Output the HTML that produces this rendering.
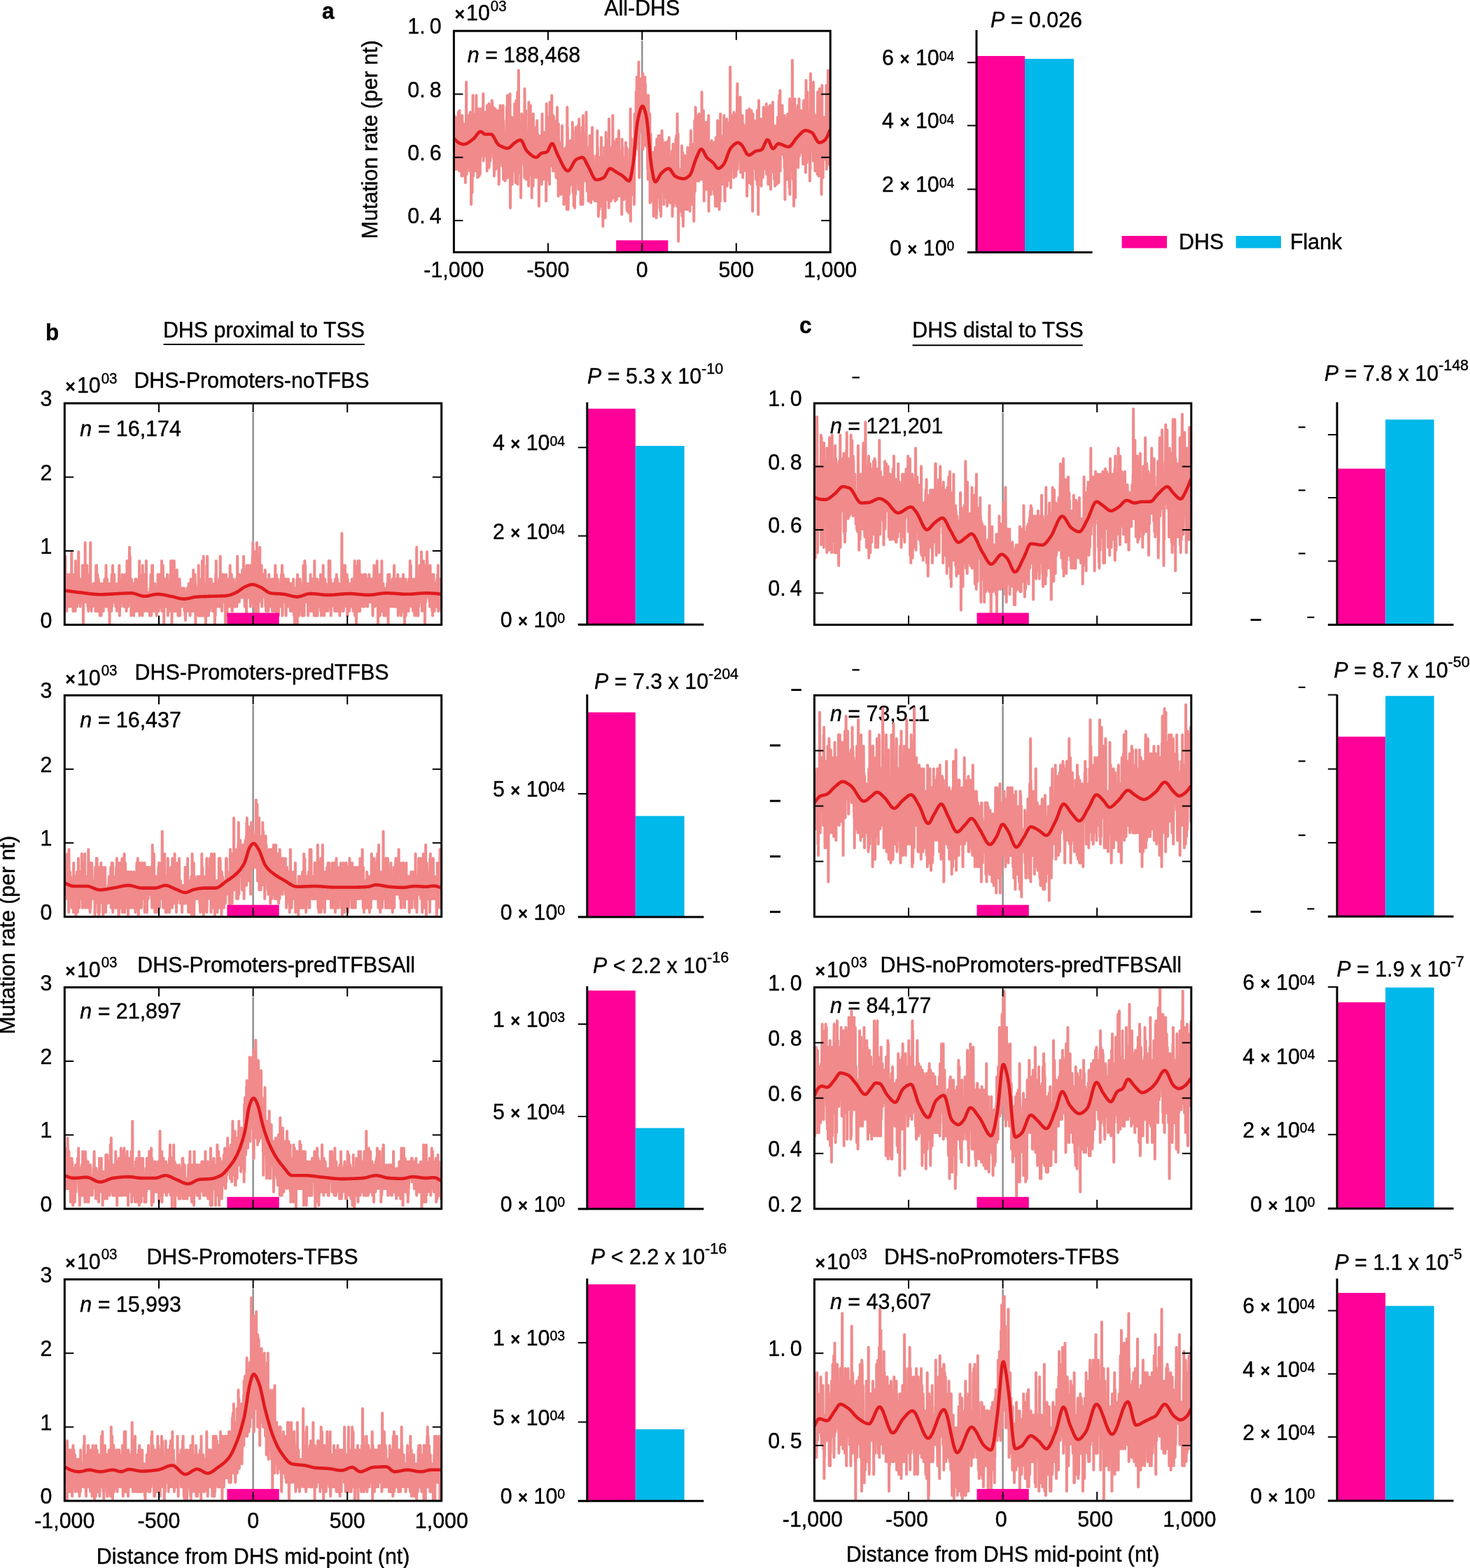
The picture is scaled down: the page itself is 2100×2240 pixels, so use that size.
<!DOCTYPE html>
<html><head><meta charset="utf-8"><title>Figure</title>
<style>html,body{margin:0;padding:0;background:#fff;}svg{display:block;}text{font-family:"Liberation Sans", Arial, Helvetica, sans-serif;fill:#000;stroke:#000;stroke-width:0.4px;}</style>
</head><body>
<svg width="2100" height="2240" viewBox="0 0 2100 2240">
<rect width="2100" height="2240" fill="#fff"/>
<clipPath id="clip_a"><rect x="648.4" y="44.2" width="537.8" height="316.1"/></clipPath>
<line x1="917.3" y1="58.2" x2="917.3" y2="360.3" stroke="#8c8c8c" stroke-width="2.4"/>
<text transform="translate(667.8 88.8) scale(1 1.04)" font-size="30.4"><tspan font-style="italic">n</tspan> = 188,468</text>
<g clip-path="url(#clip_a)">
<path id="nz_a" transform="translate(648.4 495.77) scale(0.26890 -2.39601)" d="M0 125 l1-8 1 21 1-12 1 9 1-18 1-1 1-10 1 5 1 23 1-10 1 0 1 4 1-1 1-6 1 7 1-1 1 10 1-14 1-17 1 23 1-20 1 0 1 29 1 2 1-28 1 15 1 9 1-26 1-5 1 36 1-16 1 3 1 0 1 5 1 2 1 0 1-19 1 12 1-11 1-6 1-9 1 14 1 11 1 11 1-4 1-12 1-11 1 0 1 17 1-12 1 11 1-2 1 4 1-10 1-17 1 11 1 1 1 19 1-8 1 3 1-30 1 11 1 12 1-8 1 9 1 36 1-45 1-10 1 5 1 2 1 7 1 10 1-5 1-5 1 16 1-6 1-10 1 15 1-22 1 28 1-3 1-18 1 0 1-12 1 19 1 11 1 5 1-13 1 8 1-11 1 0 1-39 1 45 1-23 1 0 1 8 1-23 1 18 1 12 1 8 1 20 1-45 1-3 1 12 1 2 1 19 1-6 1-8 1-12 1 4 1 11 1-6 1 21 1-34 1 31 1-28 1 11 1 3 1 28 1-42 1 17 1 7 1 1 1-22 1 10 1-20 1 18 1 10 1-5 1 18 1-19 1 10 1-9 1 10 1-32 1 14 1 7 1 11 1-31 1 15 1 24 1-22 1 19 1-25 1 1 1 13 1 0 1-12 1 2 1 10 1-14 1 9 1 5 1 14 1 0 1 9 1-40 1 14 1-3 1-8 1 14 1 6 1-13 1-7 1 8 1-6 1 10 1-3 1 17 1-23 1 16 1 2 1-15 1 3 1 9 1-27 1 39 1-10 1-11 1-4 1-2 1 11 1-11 1 9 1 7 1 12 1-38 1 3 1 19 1 6 1-12 1 21 1-33 1 9 1 9 1 6 1-16 1-2 1 18 1 5 1-8 1 15 1-26 1 25 1-30 1 2 1 1 1 1 1-7 1 30 1-5 1-15 1-12 1-9 1 12 1 5 1 0 1 13 1-1 1 11 1-23 1 3 1-16 1 18 1 3 1-9 1-3 1 15 1-15 1 15 1 1 1 2 1-23 1 31 1-34 1 6 1 2 1-8 1-10 1 3 1 21 1 0 1-1 1-2 1-3 1 29 1-16 1 4 1-11 1 7 1 11 1-19 1 13 1-6 1-13 1-6 1 0 1 5 1 12 1-4 1 23 1-25 1-19 1 35 1-5 1-24 1 17 1-16 1 13 1 1 1-14 1-8 1 19 1 3 1-21 1 8 1 9 1-9 1 18 1-2 1 19 1-11 1-24 1 42 1-41 1-8 1 12 1 10 1-8 1 2 1-2 1 9 1 7 1-24 1 20 1-24 1 14 1 34 1-39 1-29 1 30 1 19 1-2 1-18 1-6 1 31 1-18 1 18 1-9 1-31 1 34 1-24 1 26 1-18 1 4 1 3 1 3 1 1 1-21 1 30 1-5 1-18 1 33 1-10 1-1 1 1 1-15 1-22 1 14 1 30 1 5 1-29 1-3 1 20 1-17 1 1 1 15 1 18 1-55 1 30 1-4 1 0 1 16 1 26 1-44 1-17 1 13 1-11 1 22 1 3 1-1 1 3 1-2 1-10 1-11 1-21 1 35 1-9 1 3 1 21 1-29 1 3 1 4 1 3 1-9 1 4 1 6 1-6 1 23 1-28 1 3 1 12 1-17 1 13 1-20 1 53 1-24 1-9 1-9 1 2 1-9 1 36 1-41 1 13 1-2 1 5 1 13 1-24 1 16 1-10 1 8 1 4 1-2 1 8 1-14 1-1 1-18 1 50 1-36 1 17 1 2 1-25 1 12 1-13 1 22 1 0 1 19 1-30 1-10 1 11 1 4 1-16 1 16 1-30 1 42 1-24 1-3 1 21 1-12 1-5 1-12 1 43 1-24 1 6 1-9 1 8 1 1 1-19 1 3 1 13 1-9 1 14 1-15 1-1 1 24 1-2 1-28 1 12 1 10 1-8 1 16 1 4 1-24 1 16 1 0 1-13 1-11 1-2 1 25 1-8 1-22 1-12 1 32 1-14 1 11 1 8 1-7 1 3 1 5 1-15 1-3 1 13 1 9 1-16 1-6 1-7 1 26 1-2 1 18 1-25 1-9 1 3 1 1 1-6 1-3 1 12 1 10 1 6 1-24 1 11 1 7 1 4 1-9 1 5 1-6 1-12 1 8 1-1 1 12 1-36 1 34 1 24 1-29 1-16 1 23 1 6 1-10 1 15 1-10 1 13 1-32 1 15 1-6 1 5 1 15 1-35 1 18 1-20 1 24 1 25 1-27 1-11 1 24 1-18 1-6 1 7 1 8 1-2 1 1 1 28 1-27 1 10 1-6 1 0 1 11 1-16 1-17 1 33 1-17 1-1 1 17 1-18 1 2 1 14 1-30 1 10 1-6 1 2 1 5 1-5 1 1 1 17 1-28 1 10 1 15 1 8 1-13 1-13 1 35 1-33 1 15 1-12 1-13 1 8 1-18 1 43 1-14 1-11 1-2 1 6 1 4 1-10 1-6 1 13 1 4 1-7 1 8 1-6 1-21 1 24 1 7 1-12 1 8 1-3 1 17 1-34 1 5 1-5 1 6 1 10 1 4 1-22 1 15 1-26 1 18 1-2 1-13 1 12 1 2 1-16 1 22 1 6 1-9 1 14 1-3 1-16 1 5 1-14 1 20 1-29 1 22 1 39 1-31 1 19 1-27 1 2 1-24 1 9 1 30 1-8 1-8 1-14 1 3 1 1 1 1 1 15 1-1 1 13 1-16 1-5 1 1 1-2 1-4 1 22 1 1 1-16 1-6 1 20 1-11 1 27 1-23 1 18 1-37 1 22 1-4 1 8 1-34 1 8 1 20 1-19 1-6 1-4 1 33 1-12 1 5 1-18 1 19 1 21 1-25 1-6 1 5 1 9 1-4 1-9 1 6 1 12 1-12 1 12 1-3 1 16 1-32 1-6 1 27 1-16 1 31 1-23 1-16 1 29 1-7 1-12 1 12 1-24 1 22 1-32 1 26 1-15 1 13 1-12 1 14 1 1 1 19 1-28 1-3 1-15 1 3 1 50 1-7 1-8 1-6 1 1 1 6 1-19 1 7 1-11 1 18 1 7 1-19 1 8 1-11 1-5 1 10 1-5 1 36 1-19 1-16 1 8 1-6 1-14 1 4 1 4 1 11 1-3 1 0 1-6 1-16 1 24 1 8 1-23 1-6 1 9 1 0 1 27 1-12 1-1 1-21 1 11 1-9 1-8 1 19 1 11 1-14 1-3 1 8 1-6 1 30 1-22 1-9 1 6 1-2 1 10 1-19 1 0 1-7 1 8 1 11 1-4 1 4 1-18 1 13 1-15 1 2 1 13 1 4 1-6 1 8 1 6 1-2 1-14 1 4 1-2 1-13 1 42 1-29 1 19 1-7 1 1 1-15 1-20 1 27 1-16 1-2 1 26 1-31 1 29 1-24 1 15 1-9 1 1 1 2 1-8 1 18 1 0 1 19 1-41 1 14 1-3 1-2 1 21 1-2 1-6 1-25 1-9 1 30 1-14 1 18 1-4 1 6 1-7 1 18 1-16 1-17 1 15 1 2 1-26 1 21 1 12 1-21 1 39 1-21 1 4 1 13 1-36 1 10 1 20 1-11 1 14 1-16 1-1 1-4 1-4 1 21 1-12 1-22 1 53 1-23 1 6 1-25 1 6 1 10 1 3 1 6 1-11 1-2 1 4 1-23 1 32 1-1 1-30 1 28 1-2 1-8 1 2 1-3 1 33 1-49 1 17 1 0 1 17 1-16 1 15 1-24 1 18 1-10 1-9 1 20 1-20 1-10 1 16 1-2 1 8 1-3 1-6 1 20 1 4 1-36 1 20 1-4 1 2 1-2 1 5 1-5 1 0 1-14 1 0 1 10 1 29 1-31 1-3 1 22 1-12 1 3 1-12 1-3 1-1 1 18 1-7 1-13 1 20 1-7 1-8 1 7 1-23 1 45 1-4 1-14 1 13 1-16 1 7 1-13 1-3 1-3 1 17 1-20 1 3 1-2 1 18 1-18 1 10 1 2 1 12 1-11 1-7 1 27 1-24 1 1 1-4 1 24 1-21 1-16 1 18 1-6 1-13 1 2 1 4 1 20 1-24 1-2 1 14 1-15 1 30 1-21 1 10 1 19 1-36 1 10 1 10 1-16 1 56 1-67 1 50 1-11 1-18 1 11 1-13 1 12 1-15 1 22 1-18 1 7 1-3 1 5 1-1 1 13 1-3 1-1 1 12 1-32 1-7 1 18 1 36 1-4 1 4 1-25 1 25 1-7 1-5 1 2 1 23 1-34 1 23 1 3 1 17 1-39 1 1 1 6 1 11 1-6 1-10 1 20 1 3 1 4 1 19 1-33 1 2 1-38 1 28 1-2 1 4 1 29 1-14 1 9 1 3 1-5 1-15 1-7 1 11 1-10 1 13 1-6 1 21 1-3 1-13 1 7 1 12 1-45 1 9 1 14 1-10 1 14 1-8 1-2 1 3 1 5 1 6 1 12 1-27 1 23 1-27 1 8 1-18 1 11 1 6 1 13 1-2 1 2 1-31 1 16 1 3 1-32 1 23 1-29 1 34 1 16 1-8 1-15 1 13 1-30 1 16 1-3 1-16 1 32 1-53 1 18 1 13 1-10 1 20 1-22 1-2 1 4 1 3 1-23 1 19 1-1 1-7 1 0 1-2 1 7 1 13 1-1 1-19 1-18 1 17 1 6 1 3 1-10 1 1 1 15 1-24 1 33 1-19 1-15 1 32 1-35 1 7 1-12 1 27 1-25 1 45 1-26 1 1 1-3 1-1 1 13 1-12 1 22 1-29 1 37 1-12 1 3 1-11 1-4 1 14 1-4 1-29 1 3 1 27 1-32 1 45 1-34 1-14 1 37 1-1 1-3 1 9 1 9 1-17 1-6 1 18 1-19 1 16 1-10 1-18 1 11 1 12 1 1 1-32 1 24 1-2 1-1 1-13 1 4 1 3 1 22 1-28 1 0 1-5 1 19 1 10 1-11 1-3 1 9 1 9 1-38 1 2 1 25 1-6 1-11 1 29 1-5 1-10 1-2 1-19 1 38 1-26 1 11 1-2 1-4 1 9 1-27 1 25 1 1 1-24 1 16 1 0 1-17 1 16 1-2 1-1 1 17 1-8 1-31 1 38 1-26 1 31 1-14 1-3 1-11 1-9 1 12 1-7 1 13 1 12 1-8 1 13 1-24 1 11 1 4 1-24 1 38 1-11 1-4 1 17 1-8 1-23 1-11 1 18 1 37 1-40 1-8 1 12 1 24 1-28 1-36 1 30 1 9 1-17 1 5 1 15 1-6 1 7 1-5 1-1 1 6 1-6 1-19 1 9 1 10 1-7 1-3 1-1 1 31 1-14 1-28 1 5 1 10 1 23 1-20 1-24 1 30 1 3 1-19 1 1 1 23 1-27 1 11 1-2 1 22 1-22 1 11 1-3 1 14 1-32 1 15 1 3 1 8 1-9 1-3 1 17 1-5 1-26 1 23 1 14 1-36 1 0 1 21 1-6 1 9 1 0 1-3 1-2 1-18 1 30 1-4 1-29 1 18 1 6 1 16 1-10 1 18 1-36 1 24 1-20 1-12 1 1 1 3 1-1 1 24 1-24 1 32 1-23 1 21 1-23 1 26 1-11 1-35 1 16 1 1 1 10 1 33 1-1 1-41 1 37 1-5 1 18 1-18 1-15 1 15 1-23 1-2 1-1 1 19 1 6 1-15 1 22 1-21 1 28 1-39 1 24 1 0 1 7 1-22 1-9 1 40 1-20 1-2 1-16 1 3 1 32 1-24 1-5 1 11 1-2 1 14 1-17 1-6 1-7 1 52 1-28 1-6 1-8 1 14 1-13 1 4 1 1 1 18 1 7 1-17 1-3 1-34 1 25 1-10 1-5 1 23 1-9 1-2 1 0 1-8 1 17 1-4 1 20 1-25 1-15 1 17 1 0 1-2 1-15 1 19 1-5 1 11 1-21 1 22 1 5 1 13 1-57 1 38 1-12 1 12 1 3 1-8 1 1 1-24 1 26 1 1 1-8 1-19 1 6 1 18 1-5 1 3 1 10 1-28 1 4 1 15 1 0 1 6 1-10 1-6 1-2 1-8 1 23 1-1 1-2 1-23 1 31 1-30 1 15 1-4 1 15 1-34 1 12 1-1 1 30 1-41 1 30 1-21 1 30 1-26 1-8 1 20 1-12 1 38 1-39 1 27 1-39 1 25 1 3 1-5 1 12 1-16 1-21 1 9 1 17 1 6 1-8 1-19 1 52 1-33 1-7 1 25 1-12 1-6 1 1 1-5 1 1 1 10 1 9 1-3 1-6 1-16 1 7 1 22 1-24 1 3 1 18 1 15 1-33 1-2 1 6 1-21 1-1 1 37 1 0 1-2 1 9 1-14 1 5 1 6 1-22 1 6 1 24 1-21 1-19 1 22 1-3 1 12 1-25 1 13 1 3 1-8 1 8 1-6 1 10 1-18 1 14 1 16 1-34 1-1 1 68 1-53 1 24 1-43 1 43 1-31 1 0 1 10 1-5 1-3 1 29 1-11 1 4 1-17 1 6 1-13 1 19 1-11 1 19 1-33 1 39 1-24 1 21 1 2 1-22 1 4 1-7 1 15 1-2 1-11 1 16 1-30 1 30 1-20 1-1 1 6 1 6 1 25 1 9 1-51 1 6 1 14 1-6 1 22 1-27 1 7 1 6 1-13 1 11 1 0 1-2 1-9 1-4 1 38 1-11 1-17 1-17 1 28 1-4 1-1 1 1 1 2 1-15 1-5 1 17 1 11 1-23 1-14 1 8 1 24 1-6 1-7 1-2 1-6 1-7 1 5 1-3 1 10 1 1 1 0 1 7 1-16 1 19 1 4 1-18 1 3 1 0 1 18 1 6 1-51 1 27 1 5 1 9 1-23 1 11 1-3 1 5 1-1 1-2 1-6 1-14 1 44 1-17 1-19 1 33 1-14 1-8 1-7 1-1 1-5 1 16 1-13 1-10 1 44 1-16 1 1 1-21 1 11 1 3 1-38 1 43 1 15 1-33 1 2 1 9 1 1 1-10 1 6 1 21 1-17 1 16 1-4 1-19 1 0 1 7 1-12 1 28 1-34 1 5 1-5 1 17 1 0 1 18 1-38 1 44 1-7 1 1 1-36 1 30 1-50 1 34 1-2 1 36 1-28 1 10 1 0 1-2 1-11 1-6 1 7 1 4 1 13 1 2 1-11 1-4 1-25 1 12 1 17 1-24 1 34 1-21 1 12 1-24 1 9 1-10 1 24 1 1 1 17 1-37 1 10 1 11 1-3 1-7 1 6 1 12 1-11 1-3 1-5 1 11 1 15 1-23 1-3 1 29 1-42 1 32 1-7 1-3 1-3 1 3 1-9 1 22 1-34 1-7 1 42 1-3 1 7 1-32 1 12 1 7 1-4 1-27 1 45 1-24 1 2 1 4 1-32 1 30 1-9 1 29 1-15 1-17 1 24 1-15 1 12 1-14 1-6 1 33 1-29 1-3 1 8 1-18 1 9 1 3 1 16 1-32 1 7 1 16 1-10 1-17 1 10 1 4 1 2 1 6 1 9 1 3 1-11 1 13 1 0 1-35 1 34 1-12 1-12 1 30 1-11 1 3 1-22 1 9 1 6 1-24 1 49 1-39 1 42 1-41 1 5 1 12 1 27 1-48 1 15 1-3 1 15 1-12 1 7 1 10 1-17 1 12 1-17 1 8 1 21 1-27 1 21 1-14 1-5 1 5 1 6 1-9 1 1 1-9 1 19 1-25 1 31 1-2 1-48 1 38 1-18 1 19 1-9 1 0 1-11 1 20 1-27 1 34 1-28 1-6 1 15 1-10 1 34 1-19 1 10 1-12 1 13 1-6 1-4 1-8 1-4 1-14 1 25 1 28 1-57 1 24 1 16 1-4 1 7 1-26 1-1 1 13 1 10 1-8 1-2 1 1 1-16 1 66 1-28 1-21 1-22 1 27 1 0 1-23 1-4 1-16 1 19 1 13 1 30 1-40 1 42 1-39 1 21 1-41 1 40 1-15 1 4 1 12 1 12 1-22 1 10 1-17 1 11 1 5 1 6 1 2 1-23 1 30 1-37 1 8 1 12 1 12 1-2 1 11 1-33 1-1 1 8 1 12 1-6 1 4 1-12 1 6 1-6 1 21 1-25 1 2 1 11 1-1 1-10 1 22 1-20 1 1 1 3 1-10 1-5 1 12 1 4 1 20 1 2 1-36 1 2 1 20 1 6 1-21 1 16 1 9 1-12 1 6 1-33 1 21 1 34 1-17 1-18 1 5 1-19 1 19 1-2 1 25 1-13 1-15 1 7 1-12 1 2 1-3 1-6 1 24 1 4 1-15 1-7 1 10 1-29 1 19 1-12 1 29 1 28 1-42 1 19 1-8 1 6 1-6 1-6 1 16 1-24 1 32 1-15 1-15 1 14 1 6 1-29 1 47 1-37 1 19 1-3 1-10 1 0 1 0 1 6 1-16 1-12 1 14 1 19 1-16 1-2 1 4 1 6 1 2 1 1 1-11 1 2 1 3 1-24 1 30 1 19 1-46 1 17 1 0 1-19 1-2 1 12 1 3 1-3 1 40 1-36 1-7 1 9 1 4 1-12 1-8 1 25 1-20 1-7 1 12 1-23 1 38 1-14 1 41 1-46 1 0 1 17 1 8 1-34 1 16 1 16 1 1 1-3 1-16 1 9 1 13 1-12 1 0 1-13 1 4 1 21 1-23 1 0 1 5 1 9 1-6 1 34 1-50 1 31 1-29 1 16 1-4 1 16 1-20 1 14 1 35 1-28 1-20 1 36 1-44 1 11 1 15 1-10 1 14 1 6 1-21 1 15 1-4" fill="none" stroke="#f08a8b" stroke-width="4.0" stroke-linejoin="round" stroke-linecap="round" vector-effect="non-scaling-stroke"/>
<polyline points="648.4,198.1 649.5,199.0 650.6,200.1 651.6,201.1 652.7,202.0 653.8,202.9 654.9,203.6 655.9,204.3 657.0,204.8 658.1,205.3 659.2,205.6 660.2,205.9 661.3,206.0 662.4,206.1 663.5,206.0 664.5,205.8 665.6,205.5 666.7,205.1 667.8,204.5 668.8,203.9 669.9,203.2 671.0,202.4 672.1,201.6 673.1,200.8 674.2,200.0 675.3,199.2 676.4,198.3 677.4,197.3 678.5,196.0 679.6,194.6 680.7,193.1 681.7,191.7 682.8,190.4 683.9,189.3 685.0,188.4 686.0,188.0 687.1,188.1 688.2,188.6 689.3,189.5 690.3,190.4 691.4,191.2 692.5,191.6 693.6,191.7 694.7,191.7 695.7,191.7 696.8,191.7 697.9,191.7 699.0,191.7 700.0,191.7 701.1,191.8 702.2,192.0 703.3,192.8 704.3,194.0 705.4,195.8 706.5,197.7 707.6,199.8 708.6,201.9 709.7,203.8 710.8,205.3 711.9,206.5 712.9,207.2 714.0,207.9 715.1,208.5 716.2,209.0 717.2,209.6 718.3,210.1 719.4,210.5 720.5,210.9 721.5,211.2 722.6,211.5 723.7,211.7 724.8,211.8 725.8,211.7 726.9,211.4 728.0,210.8 729.1,210.0 730.1,208.9 731.2,207.8 732.3,206.7 733.4,205.7 734.4,204.8 735.5,204.0 736.6,203.3 737.7,202.5 738.8,201.8 739.8,201.1 740.9,200.6 742.0,200.2 743.1,200.0 744.1,200.2 745.2,201.1 746.3,202.7 747.4,204.9 748.4,207.4 749.5,209.9 750.6,212.3 751.7,214.2 752.7,215.7 753.8,216.9 754.9,217.9 756.0,219.0 757.0,220.0 758.1,220.9 759.2,221.7 760.3,222.5 761.3,223.2 762.4,223.8 763.5,224.2 764.6,224.5 765.6,224.7 766.7,224.6 767.8,224.0 768.9,223.1 769.9,222.0 771.0,220.9 772.1,219.9 773.2,219.1 774.2,218.6 775.3,218.4 776.4,218.2 777.5,218.0 778.5,217.9 779.6,217.7 780.7,217.3 781.8,216.6 782.9,215.1 783.9,213.0 785.0,210.5 786.1,208.1 787.2,206.2 788.2,205.1 789.3,205.2 790.4,206.3 791.5,208.4 792.5,211.0 793.6,213.8 794.7,216.7 795.8,219.2 796.8,221.4 797.9,223.6 799.0,225.8 800.1,228.1 801.1,230.4 802.2,232.6 803.3,234.8 804.4,236.9 805.4,238.8 806.5,240.4 807.6,241.9 808.7,243.0 809.7,243.8 810.8,244.1 811.9,244.0 813.0,243.3 814.0,242.2 815.1,240.6 816.2,238.8 817.3,236.8 818.3,234.7 819.4,232.7 820.5,230.9 821.6,229.4 822.6,228.3 823.7,227.6 824.8,227.0 825.9,226.5 826.9,226.0 828.0,225.6 829.1,225.3 830.2,225.0 831.3,224.9 832.3,224.9 833.4,225.5 834.5,226.7 835.6,228.4 836.6,230.5 837.7,232.7 838.8,234.9 839.9,236.9 840.9,238.9 842.0,241.0 843.1,243.4 844.2,245.7 845.2,248.1 846.3,250.3 847.4,252.3 848.5,254.1 849.5,255.5 850.6,256.4 851.7,256.8 852.8,256.8 853.8,256.7 854.9,256.6 856.0,256.3 857.1,256.0 858.1,255.7 859.2,255.3 860.3,254.8 861.4,254.3 862.4,253.7 863.5,252.6 864.6,251.1 865.7,249.1 866.7,246.9 867.8,244.8 868.9,243.0 870.0,241.6 871.0,240.9 872.1,240.8 873.2,241.1 874.3,241.6 875.4,242.3 876.4,243.0 877.5,243.8 878.6,244.6 879.7,245.3 880.7,246.0 881.8,246.6 882.9,247.3 884.0,247.9 885.0,248.5 886.1,249.1 887.2,249.8 888.3,250.5 889.3,251.2 890.4,252.1 891.5,253.0 892.6,254.1 893.6,255.2 894.7,256.3 895.8,257.2 896.9,258.0 897.9,258.4 899.0,258.2 900.1,256.6 901.2,253.0 902.2,247.8 903.3,241.6 904.4,234.6 905.5,225.6 906.5,214.2 907.6,201.7 908.7,189.7 909.8,180.1 910.8,173.2 911.9,167.9 913.0,163.2 914.1,159.0 915.1,155.6 916.2,153.1 917.3,151.7 918.4,151.7 919.5,153.1 920.5,155.8 921.6,159.4 922.7,163.8 923.8,169.1 924.8,176.6 925.9,187.4 927.0,200.4 928.1,213.6 929.1,225.0 930.2,233.9 931.3,241.1 932.4,247.7 933.4,253.3 934.5,257.4 935.6,259.5 936.7,259.8 937.7,258.9 938.8,257.5 939.9,255.7 941.0,253.7 942.0,251.7 943.1,249.8 944.2,248.2 945.3,247.0 946.3,246.0 947.4,245.1 948.5,244.2 949.6,243.3 950.6,242.5 951.7,241.9 952.8,241.3 953.9,241.0 954.9,240.8 956.0,241.0 957.1,241.7 958.2,242.9 959.2,244.5 960.3,246.3 961.4,248.1 962.5,249.7 963.6,251.0 964.6,251.8 965.7,252.4 966.8,252.9 967.9,253.4 968.9,253.8 970.0,254.2 971.1,254.5 972.2,254.8 973.2,255.1 974.3,255.2 975.4,255.3 976.5,255.4 977.5,255.3 978.6,255.0 979.7,254.6 980.8,254.0 981.8,253.3 982.9,252.5 984.0,251.6 985.1,250.6 986.1,249.3 987.2,247.3 988.3,244.7 989.4,241.6 990.4,238.2 991.5,234.7 992.6,231.4 993.7,228.4 994.7,225.7 995.8,223.2 996.9,220.7 998.0,218.2 999.0,216.0 1000.1,214.3 1001.2,213.3 1002.3,213.1 1003.3,213.8 1004.4,215.2 1005.5,217.2 1006.6,219.4 1007.7,221.6 1008.7,223.5 1009.8,225.0 1010.9,226.1 1012.0,227.1 1013.0,227.9 1014.1,228.7 1015.2,229.5 1016.3,230.3 1017.3,231.2 1018.4,232.2 1019.5,233.4 1020.6,234.8 1021.6,236.4 1022.7,237.9 1023.8,239.2 1024.9,240.1 1025.9,240.5 1027.0,240.5 1028.1,240.1 1029.2,239.4 1030.2,238.6 1031.3,237.6 1032.4,236.5 1033.5,235.3 1034.5,233.7 1035.6,231.7 1036.7,229.1 1037.8,226.3 1038.8,223.2 1039.9,220.2 1041.0,217.3 1042.1,214.8 1043.1,212.7 1044.2,211.2 1045.3,209.9 1046.4,208.8 1047.4,207.7 1048.5,206.8 1049.6,205.9 1050.7,205.1 1051.8,204.5 1052.8,204.1 1053.9,203.8 1055.0,203.9 1056.1,204.3 1057.1,205.0 1058.2,205.9 1059.3,207.0 1060.4,208.3 1061.4,209.9 1062.5,211.8 1063.6,213.9 1064.7,215.9 1065.7,217.8 1066.8,219.5 1067.9,220.7 1069.0,221.5 1070.0,221.6 1071.1,221.4 1072.2,220.9 1073.3,220.3 1074.3,219.5 1075.4,218.7 1076.5,217.9 1077.6,217.1 1078.6,216.4 1079.7,215.9 1080.8,215.6 1081.9,215.4 1082.9,215.2 1084.0,215.0 1085.1,214.9 1086.2,214.6 1087.2,214.3 1088.3,213.6 1089.4,212.2 1090.5,210.1 1091.5,207.7 1092.6,205.2 1093.7,202.9 1094.8,201.0 1095.8,199.8 1096.9,199.7 1098.0,200.7 1099.1,202.7 1100.2,205.3 1101.2,208.1 1102.3,210.4 1103.4,212.0 1104.5,212.4 1105.5,211.9 1106.6,210.8 1107.7,209.3 1108.8,207.8 1109.8,206.5 1110.9,205.6 1112.0,205.3 1113.1,205.4 1114.1,205.6 1115.2,205.9 1116.3,206.3 1117.4,206.7 1118.4,207.2 1119.5,207.6 1120.6,208.1 1121.7,208.6 1122.7,209.0 1123.8,209.3 1124.9,209.5 1126.0,209.7 1127.0,209.6 1128.1,209.3 1129.2,208.5 1130.3,207.5 1131.3,206.2 1132.4,204.8 1133.5,203.2 1134.6,201.6 1135.6,200.1 1136.7,198.6 1137.8,197.2 1138.9,196.1 1139.9,195.0 1141.0,193.8 1142.1,192.6 1143.2,191.5 1144.3,190.3 1145.3,189.3 1146.4,188.3 1147.5,187.5 1148.6,186.9 1149.6,186.5 1150.7,186.4 1151.8,186.4 1152.9,186.6 1153.9,186.8 1155.0,187.2 1156.1,187.6 1157.2,188.0 1158.2,188.5 1159.3,189.1 1160.4,189.9 1161.5,191.1 1162.5,192.7 1163.6,194.6 1164.7,196.6 1165.8,198.6 1166.8,200.5 1167.9,202.0 1169.0,203.1 1170.1,203.6 1171.1,203.6 1172.2,203.4 1173.3,203.1 1174.4,202.7 1175.4,202.1 1176.5,201.5 1177.6,200.8 1178.7,199.8 1179.7,198.5 1180.8,196.8 1181.9,194.8 1183.0,192.5 1184.0,189.9 1185.1,187.2 1186.2,185.1" fill="none" stroke="#e01a1e" stroke-width="4.6" stroke-linejoin="round"/></g>
<rect x="880.2" y="343.3" width="74.2" height="17" fill="#ff0099"/>
<line x1="782.9" y1="44.2" x2="782.9" y2="57.2" stroke="#000" stroke-width="2"/>
<line x1="782.9" y1="360.3" x2="782.9" y2="347.3" stroke="#000" stroke-width="2"/>
<line x1="917.3" y1="44.2" x2="917.3" y2="57.2" stroke="#000" stroke-width="2"/>
<line x1="917.3" y1="360.3" x2="917.3" y2="347.3" stroke="#000" stroke-width="2"/>
<line x1="1051.8" y1="44.2" x2="1051.8" y2="57.2" stroke="#000" stroke-width="2"/>
<line x1="1051.8" y1="360.3" x2="1051.8" y2="347.3" stroke="#000" stroke-width="2"/>
<line x1="648.4" y1="315.1" x2="661.4" y2="315.1" stroke="#000" stroke-width="2"/>
<line x1="1186.2" y1="315.1" x2="1173.2" y2="315.1" stroke="#000" stroke-width="2"/>
<line x1="648.4" y1="224.8" x2="661.4" y2="224.8" stroke="#000" stroke-width="2"/>
<line x1="1186.2" y1="224.8" x2="1173.2" y2="224.8" stroke="#000" stroke-width="2"/>
<line x1="648.4" y1="134.5" x2="661.4" y2="134.5" stroke="#000" stroke-width="2"/>
<line x1="1186.2" y1="134.5" x2="1173.2" y2="134.5" stroke="#000" stroke-width="2"/>
<rect x="648.4" y="44.2" width="537.8" height="316.1" fill="none" stroke="#000" stroke-width="3"/>
<clipPath id="clip_b1"><rect x="92.3" y="576.1" width="538.4" height="316.4"/></clipPath>
<line x1="361.6" y1="590.1" x2="361.6" y2="892.5" stroke="#8c8c8c" stroke-width="2.4"/>
<text transform="translate(114.3 623.1) scale(1 1.04)" font-size="30.4"><tspan font-style="italic">n</tspan> = 16,174</text>
<g clip-path="url(#clip_b1)">
<path id="nz_b1" transform="translate(92.3 892.50) scale(0.26922 -6.52075)" d="M0 6 l1-1 1 6 1-4 1 8 1-9 1 2 1-4 1 7 1-6 1 1 1-3 1 5 1-3 1 3 1 3 1-4 1 2 1 0 1 0 1 1 1-6 1 4 1 0 1 1 1 2 1-7 1 0 1 5 1-3 1-1 1-1 1 1 1 2 1 1 1-3 1 1 1 10 1-9 1 3 1-4 1 0 1 1 1 4 1 0 1-8 1 6 1 1 1-7 1 3 1 0 1-2 1 5 1-6 1 3 1 4 1-6 1-1 1 11 1-10 1 3 1 2 1-4 1 3 1 3 1 0 1-7 1 2 1 2 1 2 1-3 1 2 1-2 1 1 1 8 1-7 1 1 1-2 1-3 1 1 1 0 1 4 1-5 1-1 1 3 1-2 1 1 1 3 1-3 1 1 1-2 1 2 1 1 1-2 1 0 1 7 1-6 1 3 1 0 1-10 1 6 1 4 1-3 1 6 1-6 1 0 1 3 1-3 1 0 1 11 1-13 1 3 1 1 1-2 1-1 1 1 1-2 1 1 1 1 1 6 1-8 1 4 1-1 1-4 1 5 1-4 1-2 1 5 1 2 1-5 1 4 1 0 1 2 1-1 1-3 1 0 1 0 1 11 1-14 1 4 1-1 1-1 1-3 1 5 1-2 1 0 1 2 1-4 1 0 1 2 1-1 1 0 1 2 1 2 1-4 1 4 1-2 1 2 1-3 1 2 1-4 1 3 1 0 1 0 1-4 1 5 1-1 1 6 1 0 1-6 1 6 1-10 1 3 1-2 1 0 1 7 1-8 1 2 1 0 1 3 1 2 1-6 1-1 1 3 1-2 1 4 1-1 1-5 1 5 1-4 1 1 1 4 1 1 1-3 1-4 1 2 1 4 1-1 1-1 1-2 1 4 1 1 1-1 1-1 1-2 1 1 1-3 1 5 1-3 1 2 1 0 1 0 1 3 1-6 1 1 1 4 1-5 1 3 1-1 1-1 1 8 1-9 1 2 1 3 1-2 1-2 1 5 1-6 1 0 1 0 1 2 1-1 1 1 1-1 1 2 1-4 1 4 1-1 1-2 1-4 1 9 1-6 1 4 1 1 1-3 1 1 1 3 1-6 1 4 1-4 1 8 1-2 1-5 1 1 1 5 1 3 1-6 1 1 1-1 1-1 1 1 1-2 1 2 1 4 1-5 1 2 1-1 1 2 1-3 1 0 1-1 1-1 1 5 1-5 1 2 1 0 1-1 1-2 1 2 1 2 1 1 1-3 1 2 1 0 1 2 1-4 1 0 1 1 1 2 1 3 1 2 1-6 1-5 1 5 1-3 1 3 1 3 1 0 1-6 1 3 1 2 1-2 1 1 1 2 1-1 1-4 1 6 1-2 1-2 1 1 1-1 1 1 1 2 1 0 1-6 1 5 1-2 1 1 1-4 1 5 1-2 1 4 1-5 1 1 1-3 1 3 1 1 1-3 1-2 1 2 1-1 1 10 1-4 1 0 1 1 1-5 1-1 1-1 1 2 1 4 1 3 1-5 1-3 1 4 1 8 1-11 1 1 1 8 1-9 1 0 1 0 1 2 1 0 1-6 1 6 1 2 1-2 1-1 1 2 1 0 1-1 1-5 1 5 1-5 1 6 1-3 1 2 1-6 1 4 1 0 1-2 1 2 1 2 1 0 1-2 1 3 1 1 1 0 1-6 1-1 1 5 1 2 1-2 1-2 1 0 1-3 1 4 1-2 1 1 1-1 1-2 1 3 1-3 1 3 1-1 1 0 1 5 1 4 1-12 1 5 1-1 1 4 1-5 1 2 1 2 1-4 1 0 1 1 1-1 1-2 1 6 1 0 1 2 1-9 1 11 1-8 1-1 1 3 1 1 1-1 1-1 1 5 1-5 1-3 1 2 1 6 1-3 1-4 1 4 1 0 1-3 1 1 1-2 1 10 1-8 1 2 1-3 1-2 1 3 1 0 1-1 1 0 1-1 1 2 1-2 1 3 1-4 1 3 1-3 1 3 1-1 1 2 1-5 1 4 1 2 1 0 1-3 1 5 1 1 1-7 1-2 1 2 1 3 1-4 1 10 1-3 1 1 1 2 1-10 1 2 1 0 1-1 1 4 1-3 1 4 1-2 1 1 1-5 1 3 1 3 1-5 1-1 1 3 1-3 1 2 1 1 1 0 1 0 1-4 1 1 1 5 1-3 1 3 1-3 1 0 1 6 1-2 1-4 1 5 1-7 1 2 1 3 1-3 1 6 1-7 1 3 1 0 1-3 1 4 1-3 1-1 1 4 1 2 1-3 1-3 1 10 1-11 1 3 1 1 1 1 1 1 1-3 1 7 1-9 1 0 1 3 1 2 1-9 1 6 1-2 1 2 1-2 1 2 1 0 1 3 1 1 1-4 1-2 1 0 1 0 1 5 1-4 1 2 1 0 1-1 1 5 1-5 1 2 1-6 1 1 1 6 1-3 1 1 1 2 1-1 1-5 1 1 1 5 1-4 1-1 1 3 1 4 1-4 1 2 1 5 1-6 1-2 1-1 1 0 1-5 1 7 1-1 1 8 1-5 1-3 1 1 1-2 1 8 1-9 1-1 1 2 1 9 1-3 1-7 1-1 1 3 1 3 1-1 1-1 1 1 1-4 1 6 1-3 1-3 1 2 1-3 1 9 1-7 1 0 1 0 1 1 1 2 1-6 1 3 1 1 1 3 1-2 1 3 1-6 1 2 1 4 1-1 1-7 1 5 1 0 1-3 1 1 1 1 1-1 1 3 1-2 1 0 1-2 1 4 1-1 1-1 1 2 1-3 1 1 1 2 1-1 1-3 1 0 1 1 1 3 1-4 1-1 1 4 1-2 1-3 1 3 1-4 1 5 1-1 1-1 1 3 1-2 1 1 1 0 1-1 1 3 1-1 1-4 1 2 1-1 1 0 1 3 1-1 1 0 1 3 1-4 1-1 1 3 1-1 1-1 1-2 1-1 1 6 1-5 1 6 1 1 1-2 1-3 1 2 1 1 1 1 1-3 1-3 1 0 1 4 1 1 1-5 1 0 1 9 1-6 1 0 1 5 1-4 1 1 1-1 1 1 1 0 1 3 1-3 1 1 1-9 1 6 1 1 1-1 1 2 1-2 1 0 1 0 1 2 1-2 1 1 1-3 1 2 1-2 1-1 1-1 1 11 1-6 1-3 1 2 1 1 1-2 1 3 1 0 1-3 1 1 1-4 1 3 1 0 1 4 1-3 1 4 1-8 1 2 1-2 1 12 1-11 1 3 1 4 1-2 1-5 1 7 1 5 1-12 1 2 1-3 1 3 1 0 1 0 1 1 1 0 1 2 1-4 1-2 1-2 1 6 1-1 1 4 1-5 1 9 1-8 1 2 1 8 1-10 1 5 1-8 1 2 1-1 1 4 1-5 1 6 1-1 1 0 1 0 1-4 1 3 1 4 1-3 1 0 1-3 1 1 1 2 1-2 1 5 1-5 1 1 1-1 1 0 1-1 1 2 1-3 1 2 1 0 1 0 1-2 1 2 1 3 1-2 1 3 1-2 1 0 1 1 1-8 1 3 1 5 1-6 1 7 1 2 1-4 1 7 1-9 1-1 1 4 1-4 1 0 1 1 1-1 1 3 1-2 1-1 1 4 1-2 1-2 1 5 1-3 1 4 1-6 1 2 1-1 1 2 1-3 1 11 1-6 1-2 1-3 1 4 1-4 1 0 1 2 1 0 1-3 1 7 1 1 1-5 1 1 1 1 1-2 1-1 1 5 1 1 1-2 1 1 1-1 1-3 1 2 1-3 1 1 1 2 1-8 1 5 1 1 1-1 1 6 1-6 1-1 1 1 1-2 1-1 1 4 1 0 1-1 1 4 1-5 1 0 1 0 1 6 1-6 1 0 1 2 1-1 1-1 1 5 1 0 1 4 1-8 1 3 1-3 1 0 1 4 1-2 1 0 1 4 1-7 1-1 1 3 1-3 1 3 1 2 1-2 1 4 1-3 1 0 1 0 1 2 1-4 1 4 1-1 1-1 1-3 1 1 1-1 1 4 1-2 1 0 1 1 1 3 1-3 1 2 1 1 1-6 1 6 1-4 1 9 1-4 1-3 1 0 1 2 1-1 1-4 1 4 1 0 1-4 1 0 1 6 1-4 1 0 1 0 1-1 1 2 1 0 1 1 1 1 1-4 1 3 1 0 1-1 1 1 1-3 1 6 1-4 1-1 1-1 1 4 1-4 1 0 1 9 1-3 1 0 1-4 1-2 1 2 1-4 1 4 1 0 1-3 1 2 1 0 1 4 1-4 1 5 1-11 1 9 1 3 1-7 1 1 1 3 1 1 1 0 1 0 1 2 1-5 1-2 1 1 1 2 1-2 1 5 1-5 1 0 1 1 1-2 1 5 1-7 1 9 1-4 1-2 1-1 1 0 1 0 1 1 1-1 1 2 1 5 1 2 1-10 1 13 1-2 1-10 1-2 1 5 1-2 1 8 1-9 1 9 1-5 1 5 1 1 1-10 1-1 1-3 1 8 1 1 1-3 1 0 1 0 1-1 1 11 1-11 1-5 1 4 1 4 1-5 1 6 1-9 1 13 1-5 1 1 1 1 1-4 1-2 1 1 1 3 1 7 1-10 1 2 1-2 1 1 1-1 1-2 1 6 1-4 1 6 1-7 1-2 1 2 1 3 1-1 1-1 1 0 1 0 1 4 1-4 1 1 1-1 1 4 1-3 1 1 1 1 1-3 1-1 1 6 1-1 1-7 1 4 1-2 1-3 1 6 1-6 1 5 1-1 1 0 1-2 1 2 1-3 1 2 1 3 1 1 1-7 1 6 1 0 1 2 1-5 1 1 1-2 1 0 1 1 1 1 1 3 1-6 1 3 1-1 1-2 1 3 1-3 1 2 1 1 1-2 1 1 1-3 1 1 1 6 1-1 1-4 1 3 1-3 1-2 1 2 1-1 1 1 1 4 1-5 1 0 1 1 1 5 1 3 1-10 1 1 1 3 1-4 1 5 1 3 1-9 1 2 1 3 1-3 1 0 1 2 1 4 1-6 1 0 1 1 1-3 1 5 1-3 1 4 1-4 1 1 1 0 1-1 1 5 1-4 1 2 1-3 1 6 1-5 1 1 1 5 1-7 1 2 1-2 1 9 1-9 1-2 1 4 1 4 1-5 1 6 1-5 1 0 1 0 1 0 1 0 1-1 1 4 1 1 1-2 1 1 1 0 1-3 1 3 1-6 1-1 1 8 1-4 1-1 1 1 1 1 1-1 1 3 1-5 1 5 1-4 1 5 1 0 1-4 1 3 1-3 1-2 1 1 1 0 1 1 1 3 1-2 1-3 1-1 1 1 1 2 1 3 1-2 1 2 1-1 1-3 1 4 1-3 1-3 1 2 1 3 1 0 1 1 1-5 1 6 1-6 1 2 1-4 1 3 1 0 1 2 1-7 1 8 1-3 1-2 1 1 1 0 1 0 1 4 1-4 1 3 1-2 1 2 1 3 1-4 1-6 1 11 1-7 1 2 1-1 1 0 1-3 1 6 1-2 1-2 1-2 1 5 1 1 1-1 1 3 1-1 1-5 1 4 1-2 1-3 1 5 1-1 1 0 1-3 1 0 1 4 1-6 1 5 1-2 1 4 1-2 1-1 1 7 1-8 1 5 1-5 1-3 1 5 1 0 1 7 1-1 1-8 1 8 1-6 1-1 1-1 1 1 1 2 1-1 1-2 1 3 1 1 1-1 1-1 1 2 1-1 1 0 1-6 1 1 1 0 1 4 1 0 1-1 1-3 1 4 1 2 1-4 1 1 1-3 1 3 1 5 1-7 1 1 1-1 1 0 1 5 1-6 1 3 1-2 1 2 1 4 1-4 1-1 1 3 1-2 1-2 1 3 1 0 1-1 1-4 1 5 1 7 1-6 1 1 1-7 1 7 1 1 1-2 1-2 1-1 1 1 1 3 1-1 1-6 1 8 1 0 1-2 1-6 1 5 1 1 1 0 1-3 1 0 1 4 1-4 1 1 1 0 1 0 1 2 1-4 1 1 1 5 1-5 1 6 1-8 1 3 1 0 1-4 1 6 1-2 1 0 1 3 1-1 1-3 1-2 1 3 1 1 1 6 1-8 1-2 1 3 1 2 1-6 1 3 1 3 1-4 1 6 1-4 1 3 1-3 1-3 1 6 1-3 1 0 1-1 1 0 1 2 1 0 1 0 1 1 1-2 1-2 1-1 1 5 1-1 1 0 1-1 1 8 1-8 1 5 1-3 1-3 1 4 1 5 1-10 1 1 1 4 1 1 1-8 1 2 1 4 1-4 1 0 1 5 1 0 1-4 1 0 1 0 1 1 1 0 1 3 1 0 1 0 1-4 1 0 1 2 1 2 1-5 1-1 1 1 1 2 1 4 1-5 1 2 1-3 1-1 1 1 1 3 1 4 1-2 1-5 1 3 1 3 1-2 1-5 1 3 1 2 1-5 1 2 1-1 1 5 1-5 1 1 1 4 1-1 1-6 1 3 1 0 1 0 1-1 1 2 1 2 1-3 1 0 1 0 1 1 1 14 1-13 1-1 1 0 1-3 1 2 1 4 1-3 1 0 1-3 1 10 1-3 1-3 1 6 1 0 1-5 1-4 1 9 1-6 1 3 1-1 1-3 1 2 1 0 1-1 1 4 1-4 1 4 1-3 1 1 1-7 1 8 1-5 1 0 1 2 1-1 1 1 1-1 1 1 1-3 1-1 1 3 1-1 1 0 1 0 1 4 1-5 1 0 1 0 1 0 1 4 1 1 1-5 1 2 1 4 1-6 1 3 1 0 1-2 1 2 1-4 1 7 1-3 1 1 1 1 1-3 1 1 1 3 1 4 1-6 1-6 1 3 1 3 1-2 1-1 1-1 1 3 1-7 1 7 1 1 1-1 1-1 1 7 1-6 1 3 1-6 1 10 1-6 1-2 1-3 1 5 1 2 1-3 1 7 1-6 1 0 1-5 1 2 1 4 1-5 1 4 1 0 1 3 1-6 1 2 1 1 1 0 1-1 1 1 1-2 1 2 1-4 1 5 1-2 1-2 1 4 1-1 1 3 1-3 1 0 1 0 1-4 1 2 1 0 1 0 1 5 1-4 1 4 1-6 1 5 1-5 1 0 1 3 1 2 1-2 1-4 1 3 1-3 1 2 1-1 1 4 1-4 1 1 1-1 1 4 1 2 1-6 1 2 1-1 1 2 1 0 1 0 1 2 1-5 1 5 1-1 1-4 1 2 1 0 1-1 1 3 1 0 1 1 1-5 1-3 1 6 1-2 1 2 1-4 1 1 1-1 1 9 1 0 1-4 1-2 1-3 1 6 1-2 1 1 1-1 1-1 1 2 1-2 1 2 1-4 1 3 1-2 1 8 1-6 1-1 1-3 1 3 1-7 1 4 1-1 1 3 1-1 1 4 1-2 1 2 1-3 1 5 1-2 1-7 1 7 1-4 1 5 1-3 1-3 1-1 1 1 1-1 1 11 1-7 1 0 1 0 1 1 1-5 1 0 1 0 1 6 1-5 1 1 1-3 1 4 1 0 1-2 1-2 1 2 1 4 1-5 1 3 1 1 1-4 1 3 1 0 1 1 1-1 1-4 1 3 1 2 1 2 1-3 1-3 1 5 1 3 1-11 1 6 1 4 1-1 1-5 1 4 1 3 1-6 1-1 1 2 1 2 1-3 1 2 1 0 1-3 1 4 1-1 1 0 1 1 1-1 1-2 1 4 1 1 1-5 1 0 1 3 1-4 1 6 1-2 1 1 1-3 1 5 1 2 1-6 1 0 1-3 1 5 1-5 1 4 1 0 1-1 1 0 1-2 1 4 1-3 1 2 1 2 1-6 1 3 1 2 1 0 1 2 1-3 1-6 1 1 1 1 1 5 1-2 1-4 1 4 1 2 1-2 1-4 1 2 1 5 1-6 1 3 1-1 1 2 1-6 1 7 1-2 1 3 1-2 1-1 1 2 1-4 1-2 1 3 1-1 1 6 1-6 1 1 1-3 1 4 1 1 1-4 1-4 1 4 1 2 1-3 1 2 1 0 1 5 1-8 1 3 1 1 1-3 1 2 1 4 1-5 1 4 1 1 1-5 1 2 1 0 1-2 1 3 1-4 1 3 1 4 1-2 1-2 1 4 1-3 1-2 1 9 1-7 1 1 1-1 1 6 1-7 1 2 1-4 1 3 1-1 1 0 1 1 1 1 1 0 1 1 1-2 1-4 1 1 1 5 1 1 1-6 1 1 1 2 1 1 1-6 1 5 1 2 1-5 1 6 1 0 1-3 1-1 1 3 1-2 1-4 1 14 1-12 1-3 1 3 1 2 1 0 1 1 1 0 1-6 1 8 1-5 1 0 1-1 1 2 1 3 1 0 1 4 1-4 1-1 1-1 1 6 1-8 1 2 1-1 1 0 1 10 1-11 1 1 1 5 1-8 1 8 1-5 1 5 1-5 1 0 1-1 1 0 1 9 1-6 1-3 1 3 1-2 1-3 1 6 1-9 1 7 1 6 1-2 1-6 1 2 1 0 1 2 1-2 1-1 1 0 1 10 1-3 1 1 1-6 1-1 1 2 1-1 1-2 1 4 1-3 1-1 1 3 1-1 1-3 1 1 1-2 1 0 1 9 1-5 1-2 1 0 1 0 1 0 1-1 1 0 1 0 1 2 1-4 1 8 1-2 1-7 1 2 1 1 1 0 1 3 1 3 1-5 1 0 1 2 1 0 1-5 1 6 1-1 1-3 1 4 1 0 1-1 1-2 1-1 1 3 1-4 1 4 1 1 1 1 1-3 1-2 1 6 1-1 1-6 1 9 1-10 1 0 1 3 1-1 1 2 1 0 1 0 1-1 1 0 1-2 1 2 1 2 1 2 1-4 1 3 1 1 1-7 1 6" fill="none" stroke="#f08a8b" stroke-width="4.0" stroke-linejoin="round" stroke-linecap="round" vector-effect="non-scaling-stroke"/>
<polyline points="92.3,843.6 93.4,843.7 94.5,843.9 95.6,844.0 96.7,844.2 97.7,844.3 98.8,844.5 99.9,844.6 101.0,844.8 102.0,844.9 103.1,845.0 104.2,845.2 105.3,845.3 106.3,845.5 107.4,845.6 108.5,845.7 109.6,845.9 110.7,846.0 111.7,846.1 112.8,846.2 113.9,846.4 115.0,846.5 116.0,846.6 117.1,846.8 118.2,846.9 119.3,847.0 120.3,847.2 121.4,847.3 122.5,847.5 123.6,847.6 124.7,847.8 125.7,847.9 126.8,848.0 127.9,848.2 129.0,848.3 130.0,848.4 131.1,848.5 132.2,848.6 133.3,848.7 134.3,848.8 135.4,848.9 136.5,849.0 137.6,849.1 138.7,849.1 139.7,849.2 140.8,849.2 141.9,849.2 143.0,849.2 144.0,849.2 145.1,849.2 146.2,849.2 147.3,849.2 148.3,849.1 149.4,849.1 150.5,849.1 151.6,849.0 152.7,849.0 153.7,848.9 154.8,848.9 155.9,848.8 157.0,848.8 158.0,848.7 159.1,848.6 160.2,848.6 161.3,848.5 162.3,848.5 163.4,848.4 164.5,848.3 165.6,848.3 166.7,848.2 167.7,848.1 168.8,848.1 169.9,848.0 171.0,847.9 172.0,847.9 173.1,847.8 174.2,847.7 175.3,847.7 176.3,847.6 177.4,847.6 178.5,847.5 179.6,847.5 180.7,847.5 181.7,847.4 182.8,847.4 183.9,847.4 185.0,847.4 186.0,847.3 187.1,847.3 188.2,847.4 189.3,847.4 190.3,847.6 191.4,847.8 192.5,848.1 193.6,848.4 194.7,848.7 195.7,849.1 196.8,849.5 197.9,849.9 199.0,850.2 200.0,850.6 201.1,850.9 202.2,851.2 203.3,851.5 204.3,851.7 205.4,851.8 206.5,851.8 207.6,851.8 208.7,851.7 209.7,851.6 210.8,851.4 211.9,851.2 213.0,851.0 214.0,850.8 215.1,850.5 216.2,850.3 217.3,850.0 218.3,849.8 219.4,849.5 220.5,849.3 221.6,849.2 222.7,849.0 223.7,848.9 224.8,848.9 225.9,848.9 227.0,848.9 228.0,849.0 229.1,849.1 230.2,849.2 231.3,849.3 232.3,849.5 233.4,849.7 234.5,849.9 235.6,850.1 236.7,850.3 237.7,850.6 238.8,850.8 239.9,851.0 241.0,851.2 242.0,851.5 243.1,851.7 244.2,851.9 245.3,852.1 246.3,852.3 247.4,852.6 248.5,852.8 249.6,853.1 250.7,853.4 251.7,853.7 252.8,854.0 253.9,854.2 255.0,854.5 256.0,854.7 257.1,855.0 258.2,855.2 259.3,855.3 260.3,855.5 261.4,855.5 262.5,855.6 263.6,855.6 264.7,855.5 265.7,855.4 266.8,855.3 267.9,855.1 269.0,854.9 270.0,854.7 271.1,854.5 272.2,854.3 273.3,854.0 274.3,853.8 275.4,853.5 276.5,853.3 277.6,853.1 278.7,852.9 279.7,852.8 280.8,852.7 281.9,852.6 283.0,852.5 284.0,852.5 285.1,852.4 286.2,852.3 287.3,852.3 288.3,852.3 289.4,852.2 290.5,852.2 291.6,852.1 292.7,852.1 293.7,852.1 294.8,852.0 295.9,852.0 297.0,852.0 298.0,851.9 299.1,851.9 300.2,851.9 301.3,851.8 302.3,851.8 303.4,851.7 304.5,851.7 305.6,851.7 306.7,851.7 307.7,851.6 308.8,851.6 309.9,851.6 311.0,851.6 312.0,851.5 313.1,851.5 314.2,851.5 315.3,851.4 316.3,851.4 317.4,851.4 318.5,851.3 319.6,851.3 320.7,851.2 321.7,851.2 322.8,851.1 323.9,851.0 325.0,850.8 326.0,850.6 327.1,850.4 328.2,850.1 329.3,849.8 330.3,849.4 331.4,849.0 332.5,848.6 333.6,848.1 334.7,847.7 335.7,847.2 336.8,846.7 337.9,846.2 339.0,845.7 340.0,845.0 341.1,844.3 342.2,843.5 343.3,842.7 344.3,841.9 345.4,841.1 346.5,840.3 347.6,839.6 348.7,839.0 349.7,838.5 350.8,838.0 351.9,837.5 353.0,837.0 354.0,836.5 355.1,836.1 356.2,835.7 357.3,835.4 358.3,835.2 359.4,835.0 360.5,835.0 361.6,835.0 362.7,835.2 363.7,835.4 364.8,835.8 365.9,836.2 367.0,836.6 368.0,837.0 369.1,837.5 370.2,838.0 371.3,838.5 372.3,839.0 373.4,839.5 374.5,840.2 375.6,840.9 376.7,841.6 377.7,842.4 378.8,843.2 379.9,844.0 381.0,844.7 382.0,845.4 383.1,846.0 384.2,846.5 385.3,846.9 386.3,847.2 387.4,847.4 388.5,847.6 389.6,847.7 390.7,847.8 391.7,847.9 392.8,848.0 393.9,848.0 395.0,848.1 396.0,848.2 397.1,848.2 398.2,848.3 399.3,848.3 400.3,848.4 401.4,848.5 402.5,848.6 403.6,848.6 404.7,848.7 405.7,848.9 406.8,849.0 407.9,849.2 409.0,849.4 410.0,849.7 411.1,850.0 412.2,850.2 413.3,850.5 414.3,850.8 415.4,851.1 416.5,851.4 417.6,851.7 418.7,851.9 419.7,852.1 420.8,852.3 421.9,852.4 423.0,852.5 424.0,852.6 425.1,852.6 426.2,852.5 427.3,852.3 428.3,852.1 429.4,851.8 430.5,851.4 431.6,851.1 432.7,850.7 433.7,850.3 434.8,850.0 435.9,849.6 437.0,849.2 438.0,848.9 439.1,848.6 440.2,848.4 441.3,848.2 442.3,848.1 443.4,848.1 444.5,848.1 445.6,848.1 446.7,848.2 447.7,848.2 448.8,848.3 449.9,848.4 451.0,848.5 452.0,848.6 453.1,848.7 454.2,848.8 455.3,848.9 456.3,849.0 457.4,849.2 458.5,849.3 459.6,849.4 460.6,849.5 461.7,849.6 462.8,849.7 463.9,849.7 465.0,849.8 466.0,849.9 467.1,849.9 468.2,849.9 469.3,850.0 470.3,850.0 471.4,849.9 472.5,849.9 473.6,849.9 474.6,849.8 475.7,849.7 476.8,849.7 477.9,849.6 479.0,849.5 480.0,849.4 481.1,849.3 482.2,849.2 483.3,849.1 484.3,849.0 485.4,848.9 486.5,848.8 487.6,848.7 488.6,848.6 489.7,848.6 490.8,848.5 491.9,848.4 493.0,848.3 494.0,848.3 495.1,848.2 496.2,848.2 497.3,848.1 498.3,848.1 499.4,848.1 500.5,848.1 501.6,848.1 502.6,848.2 503.7,848.2 504.8,848.3 505.9,848.4 507.0,848.5 508.0,848.6 509.1,848.7 510.2,848.8 511.3,848.9 512.3,849.0 513.4,849.1 514.5,849.2 515.6,849.3 516.6,849.4 517.7,849.5 518.8,849.6 519.9,849.7 521.0,849.8 522.0,849.9 523.1,849.9 524.2,849.9 525.3,850.0 526.3,850.0 527.4,849.9 528.5,849.9 529.6,849.8 530.6,849.7 531.7,849.6 532.8,849.5 533.9,849.4 535.0,849.2 536.0,849.1 537.1,848.9 538.2,848.8 539.3,848.6 540.3,848.4 541.4,848.3 542.5,848.1 543.6,848.0 544.6,847.8 545.7,847.7 546.8,847.6 547.9,847.5 549.0,847.4 550.0,847.4 551.1,847.4 552.2,847.3 553.3,847.3 554.3,847.4 555.4,847.4 556.5,847.4 557.6,847.5 558.6,847.5 559.7,847.6 560.8,847.6 561.9,847.7 563.0,847.8 564.0,847.9 565.1,847.9 566.2,848.0 567.3,848.1 568.3,848.2 569.4,848.3 570.5,848.3 571.6,848.4 572.6,848.5 573.7,848.6 574.8,848.6 575.9,848.7 577.0,848.7 578.0,848.8 579.1,848.8 580.2,848.8 581.3,848.8 582.3,848.8 583.4,848.8 584.5,848.8 585.6,848.8 586.6,848.7 587.7,848.7 588.8,848.6 589.9,848.5 591.0,848.4 592.0,848.4 593.1,848.3 594.2,848.2 595.3,848.1 596.3,848.0 597.4,847.9 598.5,847.8 599.6,847.7 600.6,847.6 601.7,847.6 602.8,847.5 603.9,847.5 605.0,847.4 606.0,847.4 607.1,847.4 608.2,847.3 609.3,847.3 610.3,847.4 611.4,847.4 612.5,847.4 613.6,847.4 614.6,847.5 615.7,847.5 616.8,847.6 617.9,847.6 619.0,847.7 620.0,847.8 621.1,847.9 622.2,847.9 623.3,848.0 624.3,848.1 625.4,848.2 626.5,848.3 627.6,848.5 628.6,848.6 629.7,848.7 630.8,848.8" fill="none" stroke="#e01a1e" stroke-width="4.6" stroke-linejoin="round"/></g>
<rect x="324.4" y="875.5" width="74.3" height="17" fill="#ff0099"/>
<line x1="227" y1="576.1" x2="227" y2="589.1" stroke="#000" stroke-width="2"/>
<line x1="227" y1="892.5" x2="227" y2="879.5" stroke="#000" stroke-width="2"/>
<line x1="361.6" y1="576.1" x2="361.6" y2="589.1" stroke="#000" stroke-width="2"/>
<line x1="361.6" y1="892.5" x2="361.6" y2="879.5" stroke="#000" stroke-width="2"/>
<line x1="496.2" y1="576.1" x2="496.2" y2="589.1" stroke="#000" stroke-width="2"/>
<line x1="496.2" y1="892.5" x2="496.2" y2="879.5" stroke="#000" stroke-width="2"/>
<line x1="92.3" y1="787" x2="105.3" y2="787" stroke="#000" stroke-width="2"/>
<line x1="630.8" y1="787" x2="617.8" y2="787" stroke="#000" stroke-width="2"/>
<line x1="92.3" y1="681.6" x2="105.3" y2="681.6" stroke="#000" stroke-width="2"/>
<line x1="630.8" y1="681.6" x2="617.8" y2="681.6" stroke="#000" stroke-width="2"/>
<rect x="92.3" y="576.1" width="538.4" height="316.4" fill="none" stroke="#000" stroke-width="3"/>
<clipPath id="clip_b2"><rect x="92.3" y="993.3" width="538.4" height="316.4"/></clipPath>
<line x1="361.6" y1="1007.3" x2="361.6" y2="1309.7" stroke="#8c8c8c" stroke-width="2.4"/>
<text transform="translate(114.3 1039.2) scale(1 1.04)" font-size="30.4"><tspan font-style="italic">n</tspan> = 16,437</text>
<g clip-path="url(#clip_b2)">
<path id="nz_b2" transform="translate(92.3 1309.70) scale(0.26922 -6.41642)" d="M0 5 l1 2 1-1 1 1 1 1 1 4 1-4 1 0 1 0 1-2 1 2 1 0 1-4 1 4 1 6 1-7 1 0 1-1 1 2 1-4 1 2 1 3 1-8 1 14 1-9 1 0 1 3 1-1 1 2 1 0 1-6 1 4 1 1 1-2 1 1 1-2 1-1 1 0 1-3 1 5 1-2 1 3 1-1 1-3 1 4 1-1 1-3 1-3 1 11 1-5 1-1 1 1 1-1 1-2 1-2 1 7 1-3 1 3 1-7 1 4 1-6 1 7 1 2 1-5 1 5 1-7 1 8 1-4 1-1 1-4 1 4 1-1 1 0 1 9 1-5 1 1 1-5 1-2 1 4 1 4 1-6 1 2 1-1 1 0 1 1 1-1 1-1 1 3 1-3 1 3 1-2 1 9 1-10 1 4 1-6 1 4 1-1 1 3 1 0 1-2 1 1 1 3 1-4 1 0 1 6 1-7 1-1 1 10 1-12 1 3 1 2 1-5 1 5 1 0 1 1 1 1 1-4 1 0 1 2 1 0 1 2 1-2 1 0 1 2 1-4 1-3 1 13 1-2 1-6 1 1 1 2 1-2 1-1 1 0 1 3 1-9 1 5 1 0 1-4 1 6 1 4 1 0 1-4 1-2 1 6 1-1 1-2 1-3 1-1 1 0 1 2 1-3 1 2 1 1 1 0 1-1 1-1 1 3 1-2 1 2 1-2 1-6 1 6 1 5 1-5 1 1 1-2 1 3 1 0 1 5 1-4 1-4 1 8 1-6 1-2 1-2 1 2 1 1 1-5 1 4 1 6 1-2 1-9 1 3 1 4 1-6 1 6 1-1 1-2 1 1 1-1 1 3 1-3 1 8 1-8 1 0 1 1 1 1 1-2 1 4 1-5 1 8 1-7 1 3 1-7 1 6 1-2 1 2 1-2 1 1 1 2 1-2 1 1 1 0 1 3 1 2 1-10 1 3 1-3 1 5 1-3 1 1 1-1 1 2 1-1 1 1 1-2 1 0 1 3 1-3 1 1 1 1 1 2 1-2 1 0 1 3 1 1 1-5 1 4 1-2 1-1 1 1 1 2 1-5 1 0 1 8 1-6 1-3 1 0 1 4 1 6 1-8 1 3 1 0 1 4 1 1 1-11 1 6 1-2 1 4 1-1 1 0 1-4 1 0 1 1 1-1 1 3 1 1 1-6 1 2 1 3 1-1 1-1 1 0 1 6 1-5 1-4 1 11 1-6 1 1 1-6 1 5 1-2 1-3 1 10 1-5 1 0 1-7 1 2 1-1 1 5 1 3 1-1 1-2 1 6 1-4 1-6 1 2 1 2 1-1 1 2 1 3 1-6 1 2 1 4 1 3 1-8 1-4 1 5 1 0 1 1 1 0 1-1 1-2 1 5 1-1 1-1 1 7 1-13 1 0 1 3 1 0 1 8 1-7 1 0 1-3 1 8 1-2 1 0 1-3 1 0 1 3 1 1 1 1 1-4 1 0 1 2 1-8 1 7 1 2 1 0 1-4 1 5 1-5 1 2 1 0 1-2 1 4 1 0 1-1 1-1 1-5 1 2 1 6 1-3 1 3 1-5 1 1 1 2 1-4 1 4 1-2 1 2 1-3 1-3 1 5 1 0 1-1 1 4 1-4 1 3 1-5 1 2 1-1 1 1 1-1 1-4 1 1 1 5 1-3 1 2 1-2 1 1 1 7 1-4 1-4 1 5 1-7 1 11 1-9 1 1 1 4 1-9 1 4 1 0 1 2 1 3 1-3 1 0 1-1 1-1 1 8 1-4 1-6 1 3 1 0 1 3 1 3 1-9 1 6 1-4 1 8 1-3 1 0 1 0 1 3 1-6 1-1 1-1 1 2 1 2 1-3 1-1 1 7 1 1 1-11 1 4 1 1 1 2 1 3 1-4 1-3 1 5 1-5 1-2 1 9 1-7 1-3 1 6 1-2 1 2 1-3 1 1 1-1 1 7 1-6 1 2 1 1 1-2 1-1 1 3 1 0 1 0 1 3 1-4 1-1 1-1 1 1 1 0 1 0 1-1 1-1 1 5 1-4 1-3 1 0 1 14 1-10 1 0 1 3 1-4 1 2 1-2 1 3 1 6 1-7 1 2 1-3 1 0 1-5 1 0 1 3 1 2 1-5 1 8 1-4 1-3 1 5 1-3 1-3 1 0 1 7 1 0 1-2 1-1 1 2 1-5 1 5 1 4 1-4 1 2 1 3 1-6 1-1 1-3 1 7 1-3 1-2 1 0 1 2 1-1 1 7 1-5 1-1 1 3 1 3 1-8 1 4 1 11 1-12 1-1 1 2 1-1 1-5 1 2 1 3 1 0 1 3 1-6 1 4 1-2 1 8 1-9 1 3 1-6 1 3 1-4 1 8 1-4 1 2 1 0 1-3 1-2 1 7 1-8 1 8 1-1 1-3 1 8 1-5 1-2 1-1 1 1 1 0 1 1 1 1 1-1 1-6 1 4 1-1 1 6 1-1 1-2 1-3 1 7 1 0 1 0 1-6 1-3 1 4 1 3 1-7 1 11 1-6 1-2 1 7 1-7 1-1 1 1 1 3 1-4 1 1 1 0 1-2 1 11 1-10 1 5 1-2 1-2 1-1 1 0 1 2 1 3 1-8 1 5 1 6 1-3 1-6 1 6 1-5 1 5 1-2 1 1 1 0 1-4 1 2 1 0 1 0 1 7 1-6 1 1 1-2 1-2 1 1 1-2 1 5 1-4 1 0 1-1 1 2 1 0 1-1 1 3 1-6 1 3 1-1 1 1 1-1 1 2 1-1 1-1 1 1 1 2 1 1 1-3 1-1 1 3 1 0 1-3 1 4 1 4 1-8 1 8 1-6 1-2 1 2 1 3 1-3 1-1 1 6 1-6 1-1 1 4 1 6 1-8 1 2 1-3 1-3 1 5 1 2 1-5 1 4 1 1 1-4 1 1 1-2 1 1 1-3 1 4 1 2 1 0 1-1 1 3 1-3 1-3 1-3 1 6 1 8 1-5 1 3 1-6 1 2 1-4 1 8 1-5 1 5 1-12 1 1 1 4 1 4 1-1 1-3 1 1 1-2 1 3 1 0 1 0 1-1 1-2 1 3 1-1 1-2 1 1 1 3 1-2 1 3 1-2 1-1 1 1 1-2 1-1 1 2 1-1 1 1 1-2 1 0 1 1 1-2 1 6 1-5 1-3 1 6 1 0 1-3 1 2 1-1 1-1 1 2 1 8 1-6 1-2 1 0 1 5 1-5 1-5 1 0 1 7 1-8 1 8 1 1 1-8 1 3 1 0 1 4 1-4 1 3 1 1 1-1 1-5 1 5 1-1 1 1 1-3 1 2 1 7 1-12 1 4 1 1 1-1 1 0 1-1 1 1 1 6 1-5 1 0 1-1 1 3 1-2 1 3 1-2 1 6 1-7 1 1 1-3 1 3 1 1 1-2 1-5 1 3 1 10 1-8 1-4 1 6 1 3 1-5 1 5 1-4 1-3 1-2 1 4 1-2 1 9 1-7 1-2 1 10 1-7 1 1 1-8 1 2 1 4 1-1 1 0 1 0 1 3 1 0 1-3 1 3 1-1 1-2 1 3 1-7 1 3 1 0 1 2 1 2 1 0 1 0 1-1 1-5 1 11 1-4 1 0 1-3 1 4 1-8 1 11 1-1 1-5 1 2 1-1 1 0 1-1 1-3 1-4 1 10 1-4 1 1 1-3 1 5 1-1 1-6 1 3 1 3 1-1 1-1 1-4 1 5 1-1 1 2 1-5 1 3 1 1 1 0 1-4 1 3 1 1 1 0 1 6 1-5 1-3 1 8 1-6 1 1 1 2 1 0 1-4 1 2 1 0 1-1 1 2 1-1 1 0 1-1 1 2 1-6 1 1 1-2 1 1 1 4 1 8 1-1 1-7 1 2 1-1 1 3 1-8 1 11 1-5 1-1 1-5 1 4 1 0 1 4 1-3 1 2 1-1 1 0 1-3 1 16 1-15 1 1 1-1 1-1 1 8 1-4 1 0 1-2 1 7 1-4 1-2 1 0 1-2 1 5 1-8 1 6 1-1 1-4 1 4 1-2 1 8 1-11 1 12 1-5 1 10 1-11 1-5 1 7 1-2 1-1 1 4 1-4 1 0 1 8 1-6 1 4 1-3 1-2 1 2 1-2 1 2 1-3 1 0 1-3 1 4 1 2 1-1 1 0 1 5 1 0 1-4 1 0 1 0 1-8 1 5 1 4 1-1 1 2 1-3 1-1 1 7 1 0 1-2 1-3 1 1 1 5 1-11 1 14 1-9 1 10 1-11 1 0 1 4 1 4 1-2 1-4 1-5 1 8 1 4 1-3 1-1 1-7 1 7 1 1 1-2 1 1 1 2 1-1 1-12 1 8 1 6 1-9 1 11 1-8 1 8 1-2 1-8 1 6 1-4 1 0 1 6 1-1 1 0 1-2 1 1 1 1 1-2 1-2 1-3 1 6 1-6 1 2 1 4 1-2 1-2 1 1 1 1 1 11 1-9 1-2 1 7 1-6 1 6 1 3 1-14 1-3 1 7 1-3 1 8 1-5 1 6 1-7 1 0 1 8 1-16 1 8 1 3 1-4 1-6 1 7 1 0 1-5 1-3 1 3 1 6 1-4 1 1 1-5 1 11 1-8 1 5 1-4 1 10 1-9 1-2 1 9 1-8 1-1 1 2 1 0 1 1 1-6 1 4 1-7 1 8 1 1 1 3 1-2 1 4 1-9 1 3 1 4 1-4 1-1 1 3 1-3 1 2 1-3 1 0 1-4 1 6 1-2 1-5 1 3 1 2 1 2 1 3 1-7 1-2 1 9 1-8 1 4 1-1 1-7 1 6 1 2 1 0 1-3 1 7 1-7 1-4 1 7 1 0 1-1 1 5 1-10 1 6 1-6 1 4 1 5 1 2 1-11 1 6 1 4 1-5 1-2 1-4 1 5 1 1 1 0 1-1 1 0 1 7 1-12 1 5 1-2 1 2 1-5 1 0 1 7 1 3 1-3 1-2 1 0 1-2 1-1 1-2 1-1 1 7 1 2 1-8 1 0 1 0 1 11 1-7 1 0 1 5 1-6 1-1 1 1 1 6 1-4 1 1 1 3 1-4 1 4 1-2 1-6 1 2 1 1 1 5 1-3 1-4 1 0 1 1 1 0 1-1 1 2 1 3 1-3 1 1 1-2 1 2 1 4 1-8 1 1 1 4 1-4 1-4 1 3 1-2 1 8 1-2 1-2 1 2 1-1 1-1 1-2 1 5 1-4 1 4 1-3 1 0 1-1 1 3 1-8 1 9 1-3 1 0 1 8 1-6 1 0 1 0 1 1 1-5 1-3 1 0 1 5 1-3 1 1 1 2 1 1 1-3 1 3 1-2 1 4 1-2 1-4 1 2 1 0 1 2 1 2 1-5 1-1 1 3 1 5 1-11 1 6 1 0 1-2 1-1 1 1 1 1 1 0 1-1 1 2 1-1 1-4 1 3 1 1 1-4 1-2 1 4 1 5 1-2 1-2 1 1 1 3 1-3 1 3 1-4 1 3 1-1 1-1 1-4 1 2 1 4 1-2 1-1 1 1 1 0 1-4 1 0 1 8 1-5 1-1 1 1 1 2 1 2 1-2 1-5 1 12 1-8 1 2 1-2 1 7 1-3 1-2 1-1 1 1 1 0 1-1 1-6 1 6 1-3 1 5 1-1 1-2 1 1 1-2 1 3 1-2 1-2 1 3 1-3 1 4 1 2 1-3 1-5 1 3 1 1 1-4 1 13 1-10 1 5 1-4 1-2 1 0 1 2 1 9 1-9 1-1 1 1 1 0 1-2 1 4 1-1 1-3 1 5 1-5 1 3 1-1 1 0 1-2 1 1 1 1 1 0 1-2 1 8 1 0 1-3 1-3 1-2 1 4 1 1 1-2 1 0 1 5 1-7 1 2 1 5 1-5 1-3 1 0 1 12 1-9 1-5 1 5 1 1 1-4 1-3 1 8 1 3 1-2 1-5 1 1 1 4 1-8 1 6 1 1 1 4 1-9 1-3 1 6 1-1 1-1 1-3 1 8 1-5 1-1 1 12 1-11 1 1 1-2 1 1 1 1 1-4 1 6 1-1 1 3 1-6 1-3 1 7 1 1 1-2 1-1 1-2 1 4 1-3 1 3 1-4 1 3 1-2 1 6 1-5 1 3 1-3 1 5 1-4 1 5 1-5 1-1 1-2 1 2 1 0 1 1 1 5 1-4 1 1 1-1 1-3 1 4 1-1 1-1 1 2 1-7 1 0 1 7 1-4 1 2 1-1 1 0 1 6 1-5 1 4 1-4 1-1 1-2 1 3 1-5 1 4 1 0 1 6 1-6 1-1 1 3 1-2 1-5 1 8 1-1 1-4 1 3 1 5 1 1 1-8 1-3 1 5 1 0 1 4 1-7 1 5 1 0 1-7 1 5 1-5 1 3 1 2 1 0 1-3 1 1 1 1 1 1 1 4 1-2 1-4 1 6 1-5 1 6 1-3 1-2 1-5 1 2 1 1 1 1 1-6 1 5 1 0 1-3 1 7 1-2 1-2 1 7 1-7 1 2 1-1 1-4 1 5 1-6 1 6 1-1 1-4 1 4 1 0 1 1 1-5 1 10 1-1 1-6 1 2 1 2 1 0 1-5 1 1 1 6 1-10 1 4 1 0 1-3 1 0 1 5 1 0 1-1 1 3 1 4 1-5 1-4 1 0 1 0 1 2 1 1 1 5 1-7 1 0 1 2 1-3 1-2 1 5 1 5 1-6 1-4 1 5 1-5 1 2 1 3 1 1 1 3 1-3 1-3 1-1 1 1 1 3 1-1 1 1 1-2 1-4 1 6 1 3 1-6 1-1 1 2 1 2 1-2 1 0 1-1 1 1 1-2 1 4 1-3 1 3 1 3 1-6 1 6 1-2 1-2 1 0 1-3 1 2 1 3 1 0 1 4 1-2 1-5 1 1 1-1 1 1 1 4 1-2 1-3 1-2 1 2 1-1 1 10 1-10 1 6 1-3 1-6 1 9 1-6 1 1 1-1 1-4 1 3 1 1 1 3 1-1 1 0 1-5 1 6 1-2 1 1 1 0 1-3 1 0 1 2 1-4 1 8 1-4 1-1 1 1 1 0 1 3 1-3 1-4 1 0 1 2 1 4 1 0 1-1 1-1 1-5 1 8 1-3 1-2 1 4 1-3 1-1 1-2 1 5 1-1 1 3 1 5 1-7 1 3 1 0 1-2 1 1 1-5 1 1 1 3 1-1 1 5 1-7 1 1 1-1 1 8 1-7 1 3 1 3 1-6 1-2 1 4 1 0 1-4 1 8 1-8 1 5 1-3 1 3 1-2 1-3 1 6 1 4 1-4 1 4 1-4 1-6 1-2 1 2 1 12 1-8 1-6 1 5 1-5 1 4 1-2 1 2 1-5 1 5 1 0 1 0 1-4 1 4 1 4 1-4 1 4 1-2 1-6 1 2 1 6 1-6 1 0 1 4 1 11 1-11 1-1 1 1 1-2 1 1 1 3 1-6 1 5 1-2 1 2 1 0 1-4 1-3 1 11 1-4 1-2 1 2 1-7 1 8 1-2 1-6 1 4 1-1 1 8 1-4 1-4 1 2 1-1 1 4 1-3 1 0 1-5 1 5 1-2 1-3 1 2 1 2 1 2 1-3 1 7 1-5 1-2 1 1 1-4 1 5 1 0 1 0 1 0 1-6 1 4 1 3 1-1 1 2 1-7 1 5 1 4 1-4 1-5 1 6 1-3 1 1 1 0 1 1 1 1 1 1 1 4 1-4 1 3 1 0 1-3 1-3 1 0 1-1 1 1 1 5 1-6 1 8 1-2 1 1 1-7 1 0 1 10 1-7 1-2 1 2 1-2 1 6 1-6 1-2 1 2 1 2 1 0 1-1 1-5 1 3 1-3 1 0 1 4 1 0 1 6 1-3 1-4 1 6 1-5 1 1 1 5 1 0 1-4 1-2 1 1 1 0 1-3 1-2 1 4 1 2 1-4 1 3 1 2 1 0 1-1 1-3 1 7 1-7 1 1 1-2 1 0 1 2 1 1 1-2 1 4 1-4 1 2 1-3 1 1 1-1 1 5 1-1 1-7 1 5 1-2 1 4 1-3 1 0 1-1 1 2 1 0 1 1 1 3 1 0 1-5 1 4 1-7 1 2 1 3 1 0 1-3 1 6 1-3 1 1 1-1 1-2 1-1 1 3 1 0 1 0 1-3 1 1 1 4 1-3 1-4 1 12 1-9 1 1 1-1 1-1 1 2 1 2 1-7 1 3 1 3 1-1 1-1 1 3 1-3 1 4 1-3 1-1 1 8 1-6 1-1 1-1 1 0 1 1 1 6 1-4 1 2 1-3 1-2 1-1 1 9 1-5 1-2 1 3 1-1 1-1 1-3 1-3 1 6 1 5 1-5 1-5 1 6 1 6 1-1 1-11 1 8 1-4 1 0 1-2 1 9 1-5 1 2 1 0 1-3 1 9 1-9 1 3 1-10 1 8 1 0 1 4 1-2 1-1 1-2 1 1 1-1 1 1 1-4 1 5 1-1 1-3 1 0 1 5 1-1 1-5 1 4 1-7 1 12 1-9 1 10 1-9 1 7 1-2 1-6 1 3 1 1 1-2 1-2 1 2 1 1 1-2 1 1 1 3 1-3 1 7 1-7 1 3 1-4 1 4 1-5 1 2 1-1 1 1 1 1 1-1 1 2 1-4 1 4 1-1 1 2 1-1 1 0 1-8 1 2 1 5 1-3 1 8 1-6 1 0 1-4 1 4 1-2 1 1 1-1 1 1 1 0 1 1 1 0 1 1 1-3 1 11 1-8 1-1 1-4 1 11 1-7 1 3 1-3 1 5" fill="none" stroke="#f08a8b" stroke-width="4.0" stroke-linejoin="round" stroke-linecap="round" vector-effect="non-scaling-stroke"/>
<polyline points="92.3,1261.3 93.4,1261.7 94.5,1262.3 95.6,1262.8 96.7,1263.4 97.7,1263.9 98.8,1264.4 99.9,1264.9 101.0,1265.2 102.0,1265.6 103.1,1265.8 104.2,1265.9 105.3,1266.0 106.3,1266.0 107.4,1266.0 108.5,1266.0 109.6,1266.0 110.7,1266.0 111.7,1266.0 112.8,1266.0 113.9,1266.0 115.0,1266.0 116.0,1266.0 117.1,1266.0 118.2,1266.0 119.3,1266.0 120.3,1266.0 121.4,1266.0 122.5,1266.0 123.6,1266.0 124.7,1266.0 125.7,1266.2 126.8,1266.3 127.9,1266.6 129.0,1266.9 130.0,1267.3 131.1,1267.7 132.2,1268.2 133.3,1268.6 134.3,1269.1 135.4,1269.5 136.5,1269.9 137.6,1270.3 138.7,1270.6 139.7,1270.9 140.8,1271.1 141.9,1271.2 143.0,1271.2 144.0,1271.2 145.1,1271.2 146.2,1271.1 147.3,1271.0 148.3,1270.9 149.4,1270.7 150.5,1270.5 151.6,1270.4 152.7,1270.2 153.7,1270.0 154.8,1269.8 155.9,1269.6 157.0,1269.4 158.0,1269.2 159.1,1269.0 160.2,1268.8 161.3,1268.6 162.3,1268.5 163.4,1268.3 164.5,1268.1 165.6,1267.9 166.7,1267.6 167.7,1267.4 168.8,1267.2 169.9,1266.9 171.0,1266.7 172.0,1266.5 173.1,1266.2 174.2,1266.0 175.3,1265.8 176.3,1265.6 177.4,1265.4 178.5,1265.3 179.6,1265.1 180.7,1265.0 181.7,1264.9 182.8,1264.9 183.9,1264.9 185.0,1264.9 186.0,1265.0 187.1,1265.2 188.2,1265.4 189.3,1265.6 190.3,1265.9 191.4,1266.2 192.5,1266.5 193.6,1266.8 194.7,1267.1 195.7,1267.4 196.8,1267.7 197.9,1268.0 199.0,1268.2 200.0,1268.4 201.1,1268.5 202.2,1268.6 203.3,1268.6 204.3,1268.6 205.4,1268.6 206.5,1268.6 207.6,1268.6 208.7,1268.6 209.7,1268.6 210.8,1268.6 211.9,1268.6 213.0,1268.6 214.0,1268.6 215.1,1268.6 216.2,1268.6 217.3,1268.6 218.3,1268.6 219.4,1268.6 220.5,1268.6 221.6,1268.6 222.7,1268.5 223.7,1268.4 224.8,1268.1 225.9,1267.8 227.0,1267.5 228.0,1267.1 229.1,1266.7 230.2,1266.3 231.3,1265.9 232.3,1265.6 233.4,1265.3 234.5,1265.1 235.6,1264.9 236.7,1264.9 237.7,1265.0 238.8,1265.1 239.9,1265.4 241.0,1265.7 242.0,1266.1 243.1,1266.6 244.2,1267.1 245.3,1267.6 246.3,1268.1 247.4,1268.7 248.5,1269.2 249.6,1269.7 250.7,1270.1 251.7,1270.5 252.8,1271.0 253.9,1271.4 255.0,1271.9 256.0,1272.4 257.1,1272.9 258.2,1273.3 259.3,1273.8 260.3,1274.2 261.4,1274.5 262.5,1274.7 263.6,1274.9 264.7,1275.0 265.7,1274.9 266.8,1274.7 267.9,1274.4 269.0,1274.1 270.0,1273.6 271.1,1273.1 272.2,1272.6 273.3,1272.1 274.3,1271.7 275.4,1271.2 276.5,1270.9 277.6,1270.6 278.7,1270.4 279.7,1270.2 280.8,1270.0 281.9,1269.8 283.0,1269.6 284.0,1269.4 285.1,1269.3 286.2,1269.1 287.3,1269.0 288.3,1268.9 289.4,1268.8 290.5,1268.7 291.6,1268.6 292.7,1268.6 293.7,1268.6 294.8,1268.6 295.9,1268.6 297.0,1268.6 298.0,1268.6 299.1,1268.6 300.2,1268.6 301.3,1268.6 302.3,1268.6 303.4,1268.6 304.5,1268.6 305.6,1268.6 306.7,1268.6 307.7,1268.6 308.8,1268.5 309.9,1268.3 311.0,1267.9 312.0,1267.4 313.1,1266.8 314.2,1266.1 315.3,1265.3 316.3,1264.5 317.4,1263.6 318.5,1262.7 319.6,1261.8 320.7,1261.0 321.7,1260.1 322.8,1259.3 323.9,1258.6 325.0,1257.9 326.0,1257.2 327.1,1256.4 328.2,1255.7 329.3,1255.0 330.3,1254.2 331.4,1253.4 332.5,1252.6 333.6,1251.8 334.7,1250.9 335.7,1250.0 336.8,1249.0 337.9,1248.0 339.0,1247.0 340.0,1245.9 341.1,1244.7 342.2,1243.5 343.3,1242.1 344.3,1240.7 345.4,1239.2 346.5,1237.6 347.6,1235.9 348.7,1233.9 349.7,1231.7 350.8,1228.7 351.9,1225.2 353.0,1221.4 354.0,1217.6 355.1,1214.3 356.2,1211.6 357.3,1209.7 358.3,1208.1 359.4,1206.8 360.5,1205.7 361.6,1205.1 362.7,1205.0 363.7,1205.4 364.8,1206.3 365.9,1207.7 367.0,1209.3 368.0,1211.1 369.1,1212.9 370.2,1214.8 371.3,1217.0 372.3,1219.6 373.4,1222.4 374.5,1225.4 375.6,1228.4 376.7,1231.2 377.7,1233.7 378.8,1235.8 379.9,1237.5 381.0,1238.9 382.0,1240.2 383.1,1241.4 384.2,1242.5 385.3,1243.6 386.3,1244.5 387.4,1245.5 388.5,1246.4 389.6,1247.2 390.7,1248.0 391.7,1248.9 392.8,1249.6 393.9,1250.4 395.0,1251.1 396.0,1251.8 397.1,1252.5 398.2,1253.2 399.3,1253.8 400.3,1254.4 401.4,1255.0 402.5,1255.6 403.6,1256.2 404.7,1256.8 405.7,1257.5 406.8,1258.1 407.9,1258.8 409.0,1259.4 410.0,1260.2 411.1,1260.9 412.2,1261.6 413.3,1262.3 414.3,1263.0 415.4,1263.6 416.5,1264.2 417.6,1264.8 418.7,1265.3 419.7,1265.8 420.8,1266.1 421.9,1266.4 423.0,1266.6 424.0,1266.7 425.1,1266.7 426.2,1266.7 427.3,1266.7 428.3,1266.7 429.4,1266.7 430.5,1266.6 431.6,1266.6 432.7,1266.6 433.7,1266.5 434.8,1266.5 435.9,1266.4 437.0,1266.4 438.0,1266.3 439.1,1266.3 440.2,1266.3 441.3,1266.2 442.3,1266.2 443.4,1266.1 444.5,1266.1 445.6,1266.1 446.7,1266.0 447.7,1266.0 448.8,1266.0 449.9,1266.0 451.0,1266.0 452.0,1266.0 453.1,1266.0 454.2,1266.1 455.3,1266.1 456.3,1266.2 457.4,1266.2 458.5,1266.3 459.6,1266.4 460.6,1266.5 461.7,1266.6 462.8,1266.7 463.9,1266.8 465.0,1266.8 466.0,1266.9 467.1,1267.0 468.2,1267.1 469.3,1267.2 470.3,1267.3 471.4,1267.3 472.5,1267.4 473.6,1267.4 474.6,1267.5 475.7,1267.5 476.8,1267.5 477.9,1267.5 479.0,1267.5 480.0,1267.5 481.1,1267.5 482.2,1267.5 483.3,1267.5 484.3,1267.5 485.4,1267.5 486.5,1267.5 487.6,1267.5 488.6,1267.5 489.7,1267.5 490.8,1267.5 491.9,1267.5 493.0,1267.5 494.0,1267.5 495.1,1267.5 496.2,1267.5 497.3,1267.5 498.3,1267.5 499.4,1267.5 500.5,1267.5 501.6,1267.5 502.6,1267.5 503.7,1267.5 504.8,1267.5 505.9,1267.5 507.0,1267.5 508.0,1267.5 509.1,1267.5 510.2,1267.5 511.3,1267.4 512.3,1267.4 513.4,1267.4 514.5,1267.4 515.6,1267.3 516.6,1267.3 517.7,1267.2 518.8,1267.2 519.9,1267.1 521.0,1267.1 522.0,1267.0 523.1,1266.9 524.2,1266.8 525.3,1266.8 526.3,1266.7 527.4,1266.5 528.5,1266.2 529.6,1265.9 530.6,1265.6 531.7,1265.2 532.8,1264.9 533.9,1264.6 535.0,1264.3 536.0,1264.2 537.1,1264.1 538.2,1264.1 539.3,1264.2 540.3,1264.3 541.4,1264.4 542.5,1264.6 543.6,1264.7 544.6,1264.9 545.7,1265.1 546.8,1265.3 547.9,1265.5 549.0,1265.7 550.0,1265.9 551.1,1266.1 552.2,1266.3 553.3,1266.4 554.3,1266.6 555.4,1266.7 556.5,1266.8 557.6,1266.9 558.6,1267.0 559.7,1267.1 560.8,1267.2 561.9,1267.3 563.0,1267.3 564.0,1267.4 565.1,1267.5 566.2,1267.6 567.3,1267.6 568.3,1267.7 569.4,1267.7 570.5,1267.8 571.6,1267.8 572.6,1267.8 573.7,1267.9 574.8,1267.9 575.9,1267.8 577.0,1267.8 578.0,1267.7 579.1,1267.6 580.2,1267.5 581.3,1267.3 582.3,1267.2 583.4,1267.0 584.5,1266.8 585.6,1266.7 586.6,1266.5 587.7,1266.4 588.8,1266.3 589.9,1266.2 591.0,1266.1 592.0,1266.0 593.1,1266.0 594.2,1266.0 595.3,1266.0 596.3,1266.1 597.4,1266.1 598.5,1266.2 599.6,1266.3 600.6,1266.4 601.7,1266.4 602.8,1266.5 603.9,1266.6 605.0,1266.6 606.0,1266.7 607.1,1266.7 608.2,1266.7 609.3,1266.7 610.3,1266.6 611.4,1266.5 612.5,1266.4 613.6,1266.2 614.6,1266.1 615.7,1265.9 616.8,1265.8 617.9,1265.7 619.0,1265.6 620.0,1265.6 621.1,1265.7 622.2,1265.8 623.3,1266.0 624.3,1266.3 625.4,1266.6 626.5,1266.9 627.6,1267.3 628.6,1267.7 629.7,1268.1 630.8,1268.5" fill="none" stroke="#e01a1e" stroke-width="4.6" stroke-linejoin="round"/></g>
<rect x="324.4" y="1292.7" width="74.3" height="17" fill="#ff0099"/>
<line x1="227" y1="993.3" x2="227" y2="1006.3" stroke="#000" stroke-width="2"/>
<line x1="227" y1="1309.7" x2="227" y2="1296.7" stroke="#000" stroke-width="2"/>
<line x1="361.6" y1="993.3" x2="361.6" y2="1006.3" stroke="#000" stroke-width="2"/>
<line x1="361.6" y1="1309.7" x2="361.6" y2="1296.7" stroke="#000" stroke-width="2"/>
<line x1="496.2" y1="993.3" x2="496.2" y2="1006.3" stroke="#000" stroke-width="2"/>
<line x1="496.2" y1="1309.7" x2="496.2" y2="1296.7" stroke="#000" stroke-width="2"/>
<line x1="92.3" y1="1204.2" x2="105.3" y2="1204.2" stroke="#000" stroke-width="2"/>
<line x1="630.8" y1="1204.2" x2="617.8" y2="1204.2" stroke="#000" stroke-width="2"/>
<line x1="92.3" y1="1098.8" x2="105.3" y2="1098.8" stroke="#000" stroke-width="2"/>
<line x1="630.8" y1="1098.8" x2="617.8" y2="1098.8" stroke="#000" stroke-width="2"/>
<rect x="92.3" y="993.3" width="538.4" height="316.4" fill="none" stroke="#000" stroke-width="3"/>
<clipPath id="clip_b3"><rect x="92.3" y="1410.5" width="538.4" height="316.4"/></clipPath>
<line x1="361.6" y1="1424.5" x2="361.6" y2="1726.9" stroke="#8c8c8c" stroke-width="2.4"/>
<text transform="translate(114.3 1455.1) scale(1 1.04)" font-size="30.4"><tspan font-style="italic">n</tspan> = 21,897</text>
<g clip-path="url(#clip_b3)">
<path id="nz_b3" transform="translate(92.3 1726.90) scale(0.26922 -4.81649)" d="M0 17 l1-2 1-1 1-4 1 5 1-6 1 0 1 1 1 4 1-8 1 7 1 5 1-5 1 0 1-7 1 0 1 15 1-3 1-8 1-4 1 2 1 2 1 4 1 3 1-4 1 0 1-5 1 1 1 0 1 3 1-3 1-1 1-6 1 8 1-2 1 1 1 5 1-6 1 7 1-13 1 12 1-2 1 0 1-8 1-3 1 7 1 2 1 2 1-3 1 1 1-2 1 2 1-4 1 4 1-8 1 4 1 4 1-4 1 7 1-4 1-4 1 3 1 1 1 0 1 3 1-3 1 0 1 4 1-4 1 6 1-3 1 2 1-1 1 0 1 5 1-8 1-1 1-3 1-2 1 4 1-7 1 11 1-2 1-4 1 4 1 2 1-4 1 1 1 0 1 1 1-2 1 0 1 5 1-9 1 8 1-7 1 12 1-5 1-4 1-2 1 8 1-2 1 2 1-10 1 1 1 0 1 5 1-5 1-3 1 7 1 8 1-11 1 9 1-7 1 5 1-5 1 0 1 2 1 1 1-1 1-2 1-6 1 2 1 10 1 0 1-9 1 4 1-7 1 2 1 1 1 1 1-1 1 7 1-8 1 2 1 2 1 4 1 1 1-7 1 2 1 2 1 0 1-4 1 2 1-2 1 0 1 2 1-4 1 5 1-1 1 1 1-3 1 3 1 1 1 2 1-2 1 2 1 5 1-4 1-4 1-1 1 4 1-4 1 1 1 2 1-6 1-2 1 5 1 4 1-1 1-4 1-4 1 4 1-3 1 0 1 0 1 0 1 1 1 6 1-2 1-2 1-5 1 3 1 2 1 2 1 6 1-2 1-5 1 5 1 0 1-4 1-2 1 1 1 1 1 0 1 6 1-10 1 3 1-3 1 6 1-3 1 1 1-8 1 6 1-2 1 6 1 0 1-2 1-2 1 1 1 3 1-3 1 3 1-4 1-3 1 5 1-6 1 5 1 2 1 6 1-4 1-4 1-5 1 2 1 9 1-11 1 13 1-7 1 3 1 0 1-7 1 5 1-5 1 9 1-2 1-6 1 0 1 0 1-1 1-1 1 8 1-3 1 4 1 6 1-10 1 1 1-5 1 16 1-9 1 1 1-7 1 7 1-5 1-2 1 7 1 0 1-9 1 2 1 0 1 0 1 3 1 4 1-7 1 7 1-3 1-6 1 4 1 2 1 0 1-4 1 2 1 9 1-7 1 3 1-7 1-2 1 4 1 5 1-12 1 7 1 6 1-8 1 7 1-8 1 3 1-2 1-2 1 4 1 7 1-2 1 0 1-5 1-2 1-2 1 7 1-7 1 4 1 5 1-7 1 12 1-10 1 0 1 7 1-5 1 3 1-9 1 1 1 12 1-9 1-2 1 3 1 4 1-3 1-4 1 0 1 4 1 8 1-14 1 2 1 3 1-3 1 5 1 4 1-7 1 7 1-2 1-7 1 4 1-5 1-1 1 2 1 7 1 4 1-12 1 4 1 0 1-3 1-5 1 8 1 1 1-2 1-3 1 3 1 6 1 1 1-1 1-4 1 1 1-2 1 0 1-1 1 0 1 5 1-3 1 7 1-12 1-3 1 9 1-1 1-4 1 20 1-18 1 1 1 2 1-5 1 3 1 2 1-7 1 1 1 6 1-3 1 0 1 1 1-5 1-2 1 10 1-4 1 6 1-6 1 5 1-1 1 1 1 2 1-3 1-4 1 0 1-6 1 7 1-4 1 0 1 7 1-4 1 4 1-6 1-2 1 13 1-16 1 4 1 3 1 4 1-6 1 7 1-1 1-7 1 9 1-10 1-2 1 3 1 10 1-9 1 6 1-4 1 0 1-2 1 2 1 7 1-9 1-2 1 2 1-2 1 6 1-4 1 2 1 2 1-8 1 8 1-2 1 2 1 0 1-8 1 2 1 8 1-10 1 6 1-3 1 5 1 5 1-9 1 3 1 4 1 0 1 0 1 0 1-4 1 0 1 0 1 0 1 1 1-4 1 11 1-2 1-9 1 3 1-3 1 2 1 2 1-2 1 1 1 0 1 1 1 8 1-10 1-7 1 3 1 11 1-10 1 0 1 1 1 2 1 6 1-12 1 2 1 5 1-1 1 4 1-2 1-5 1 3 1 1 1-3 1 2 1 6 1-9 1 1 1 3 1 1 1 0 1-4 1 0 1-1 1 1 1 3 1-3 1 2 1 5 1-5 1 6 1-6 1-2 1 3 1-4 1-3 1 11 1-3 1 0 1 0 1 13 1-15 1 3 1 3 1-10 1 1 1 1 1 8 1-5 1 1 1 7 1-15 1 13 1-11 1 9 1 1 1 0 1-8 1 1 1 8 1-4 1-1 1 1 1-4 1 0 1 0 1-2 1 4 1 4 1-2 1-5 1 1 1 7 1-7 1-3 1 6 1-6 1 2 1 1 1 2 1-2 1-1 1 4 1-5 1 8 1-2 1 0 1 0 1 0 1 0 1 4 1-2 1-4 1 8 1 2 1-8 1-7 1 9 1-8 1 1 1-2 1 6 1 5 1-5 1-10 1 15 1-5 1 3 1-8 1 4 1 1 1 2 1-4 1 11 1-11 1-3 1 4 1 0 1 5 1-8 1-6 1 8 1 2 1-4 1 7 1-4 1-5 1 9 1-7 1 4 1-1 1-1 1-1 1 0 1 1 1 1 1-4 1 7 1-5 1 5 1-9 1 9 1 1 1-9 1 1 1 0 1-2 1 6 1-6 1 5 1 1 1-4 1 4 1 3 1-1 1-6 1 4 1 2 1-7 1 11 1-6 1-5 1 11 1-6 1-6 1 4 1 1 1-4 1-1 1 5 1-1 1 6 1-6 1 2 1-5 1 4 1-1 1 2 1-3 1 3 1-6 1 6 1-3 1 3 1-6 1 5 1-2 1 0 1 3 1-5 1 4 1 5 1-5 1-2 1 5 1-2 1 0 1-5 1 3 1 10 1-6 1-3 1 4 1-5 1 2 1-2 1 0 1 4 1-4 1-5 1 7 1 4 1-5 1 1 1 3 1-4 1-1 1 2 1-2 1 4 1-10 1 4 1 12 1-8 1-4 1 2 1 0 1-2 1 6 1-4 1 0 1 6 1-4 1 4 1-6 1 6 1-1 1-8 1 0 1 6 1-1 1 0 1 3 1 1 1-3 1 2 1-6 1-2 1 8 1 0 1-4 1-5 1 10 1-5 1 0 1-2 1 3 1 0 1 0 1-3 1 4 1 3 1 1 1-6 1-2 1 4 1-5 1 1 1 8 1-8 1 2 1-4 1 6 1-5 1 8 1-3 1-2 1 2 1-4 1 2 1 2 1 7 1-13 1 5 1 1 1-4 1 8 1-2 1-4 1 1 1 3 1-3 1 1 1-6 1 10 1-11 1 1 1 0 1 2 1 3 1 3 1 0 1-2 1-2 1 4 1-7 1 1 1 3 1-8 1 17 1-10 1 0 1-3 1 4 1-5 1 1 1-4 1 7 1-2 1 0 1 8 1-4 1 3 1 1 1-4 1 5 1 0 1-7 1-2 1 4 1-1 1 1 1 3 1-4 1-3 1-5 1 9 1-2 1-3 1 1 1 3 1-5 1 2 1 4 1 9 1-10 1 6 1-6 1-3 1 2 1 1 1 8 1-9 1 3 1-10 1 10 1-2 1-5 1 6 1 5 1-6 1 2 1 3 1-1 1-4 1-3 1 7 1 1 1-11 1 3 1 3 1 0 1 0 1-2 1 3 1-3 1 2 1-2 1 4 1 5 1-2 1-3 1 1 1 2 1 4 1-3 1-5 1-4 1 0 1 1 1 7 1-4 1-2 1 9 1-4 1-3 1 7 1-6 1 0 1 10 1-9 1 3 1-3 1 3 1-4 1 7 1-2 1-5 1 7 1-6 1 5 1-5 1-3 1 8 1-4 1-1 1 6 1 1 1-7 1 2 1-4 1-2 1 7 1 2 1 4 1 0 1 5 1-15 1 6 1 2 1-6 1 0 1 0 1 3 1-6 1 6 1-5 1 9 1 3 1-16 1 8 1-8 1 3 1 11 1-7 1 7 1-9 1 4 1 3 1-10 1 10 1-2 1 4 1-5 1-1 1 2 1-4 1 10 1-7 1 10 1-10 1 2 1-4 1 9 1-4 1-2 1 1 1 4 1-4 1-7 1 4 1-3 1 7 1 5 1-9 1 1 1 3 1 0 1 1 1 1 1-1 1-2 1 4 1-10 1 8 1-2 1-10 1 14 1 9 1-20 1 13 1 9 1-4 1-9 1 1 1-5 1 5 1 1 1 2 1 12 1-11 1 13 1-16 1 8 1 2 1-13 1-1 1 11 1-3 1-1 1-3 1 5 1 0 1-2 1-3 1 14 1 9 1-6 1-3 1-16 1 20 1-8 1 1 1 2 1 9 1-15 1-5 1 1 1 3 1-3 1-1 1 21 1-4 1-1 1-15 1 7 1-15 1 30 1-32 1 22 1-1 1-13 1 18 1-13 1-7 1 11 1-3 1 6 1 15 1-5 1-17 1 1 1-6 1 16 1 5 1-8 1-8 1-2 1-7 1 13 1 2 1-5 1 15 1-9 1-5 1-10 1 10 1-4 1-2 1-1 1-2 1 4 1 2 1 11 1-12 1 7 1 8 1 0 1-13 1-6 1 5 1-6 1 9 1-9 1 3 1-2 1 7 1-12 1 11 1-18 1 11 1 3 1-4 1 13 1-10 1 4 1-3 1 12 1-14 1 0 1 1 1-5 1 5 1-7 1 0 1 4 1-11 1 16 1-5 1 6 1-5 1 1 1-5 1 0 1-7 1 15 1-6 1 0 1 4 1 0 1 6 1-20 1 15 1-6 1 5 1-14 1 0 1 10 1-6 1 10 1-2 1 4 1-7 1 0 1-4 1 0 1-1 1 5 1-2 1-3 1 3 1 1 1 3 1-15 1 7 1-3 1 10 1-7 1 4 1-4 1 8 1-3 1 2 1-7 1 9 1-2 1-4 1-5 1 1 1 8 1-5 1 0 1-5 1 5 1-3 1-4 1 7 1-4 1 0 1 12 1-5 1-6 1-3 1 0 1 5 1-2 1-7 1 15 1 8 1-9 1-13 1 13 1-4 1-2 1 2 1 0 1-1 1-9 1 13 1 3 1-8 1 12 1-2 1-17 1 8 1 1 1 1 1-10 1 6 1-3 1 12 1-9 1 6 1-1 1-8 1 8 1 0 1 3 1-9 1-2 1 6 1 1 1-9 1 5 1 12 1-8 1 0 1-7 1 2 1-3 1 2 1-2 1 5 1 8 1-11 1 1 1 1 1-5 1 7 1 0 1-3 1 9 1-14 1 8 1-11 1 13 1-8 1-3 1 0 1 7 1-5 1 3 1-3 1 3 1-2 1 3 1-3 1 4 1-9 1 17 1-8 1-5 1 7 1 1 1 4 1-3 1-5 1-5 1 2 1-3 1 10 1-10 1-4 1 17 1-6 1 0 1-5 1 0 1 8 1 3 1-11 1 4 1-3 1 2 1 2 1-5 1 5 1 4 1-9 1 0 1 8 1-5 1 11 1-10 1 7 1-4 1-7 1 13 1-12 1 0 1 0 1 4 1 4 1-1 1-8 1 4 1 3 1-4 1-2 1-1 1 11 1-10 1 8 1-14 1 8 1-3 1-4 1 8 1 3 1 2 1 2 1-10 1-2 1 9 1-7 1-5 1 7 1-8 1 10 1 2 1-7 1 4 1 0 1 4 1-9 1 8 1-7 1 3 1 0 1-3 1-2 1 2 1-2 1 10 1-5 1 1 1 3 1-6 1 4 1 0 1-4 1 4 1-7 1 7 1 2 1 1 1-10 1 7 1 4 1-1 1-3 1 2 1-2 1-1 1 0 1 4 1-1 1-2 1 0 1-1 1 7 1-9 1 2 1-4 1-6 1 14 1-8 1-1 1-3 1 6 1 3 1 2 1-4 1 5 1 4 1-5 1-7 1-2 1 6 1-1 1 6 1-9 1 3 1-8 1 9 1-6 1 2 1 4 1 1 1-6 1 9 1-3 1 2 1-5 1 3 1 0 1-2 1-1 1 3 1-6 1 14 1-4 1-2 1-7 1 7 1-7 1-1 1 8 1 0 1-9 1 11 1-7 1 2 1-5 1 7 1-7 1 1 1 8 1-2 1-6 1 6 1-2 1-5 1 7 1 0 1-6 1 2 1 0 1 0 1-3 1 3 1 0 1-4 1 6 1-5 1 5 1-6 1 6 1 2 1-3 1 3 1-3 1 3 1-2 1 7 1-9 1 1 1-1 1 5 1-1 1-4 1 1 1 8 1-12 1 7 1 0 1 3 1-1 1-9 1 1 1 7 1 0 1 0 1-1 1-3 1-5 1 1 1 9 1 4 1-6 1 1 1-4 1-3 1 7 1-9 1 10 1-9 1 4 1-4 1 7 1-6 1 2 1 0 1 4 1-4 1 1 1 1 1 0 1-1 1-1 1-2 1 2 1 0 1-5 1 10 1-4 1 0 1-3 1 3 1-1 1 9 1-3 1-9 1-2 1 1 1 6 1-5 1 5 1 2 1-2 1-2 1-3 1 3 1 2 1 0 1 2 1-4 1-2 1 7 1-1 1 2 1-4 1-1 1 3 1-3 1-3 1-3 1 2 1 5 1-5 1-2 1 6 1 0 1-1 1-2 1 4 1 7 1-12 1 0 1 1 1-1 1 5 1 6 1-2 1 0 1-10 1 6 1 0 1 0 1 3 1-8 1 0 1 1 1-2 1-1 1 9 1 0 1 0 1-2 1-2 1 4 1-11 1 9 1-5 1-2 1 1 1 12 1-11 1 0 1 3 1-2 1-1 1-5 1 10 1 0 1-2 1 4 1-6 1-2 1 6 1 0 1-5 1 10 1-3 1-3 1-3 1 4 1-2 1-2 1 2 1-3 1-3 1 6 1 0 1 1 1 8 1-13 1 9 1-1 1-4 1 1 1 3 1-4 1-4 1 13 1-4 1 0 1-5 1-2 1 2 1-2 1 7 1-3 1-4 1-1 1 9 1-5 1 0 1 5 1-4 1-5 1 7 1-8 1 1 1 12 1-12 1 7 1-8 1 4 1 6 1-9 1 5 1-2 1 0 1 1 1 14 1-19 1 5 1 8 1-8 1 4 1-5 1 0 1 1 1 2 1-7 1 1 1 8 1 5 1-8 1 0 1 4 1 1 1-10 1 8 1-4 1-1 1 9 1-11 1 2 1-3 1 1 1-1 1 6 1 0 1 3 1-5 1 2 1-7 1 2 1 1 1 2 1 4 1-2 1-7 1-2 1 11 1-4 1 0 1 1 1 1 1-1 1 0 1-5 1 1 1 8 1-1 1-4 1 1 1 5 1-2 1-3 1 4 1 4 1-11 1 0 1-1 1 1 1 4 1 0 1-1 1 1 1-2 1 8 1-8 1 1 1 7 1-7 1-1 1-3 1 0 1 5 1-2 1-7 1 3 1 3 1 0 1-4 1 4 1-2 1 2 1 0 1 10 1-12 1 5 1-5 1 13 1-8 1-3 1-2 1 0 1 5 1-5 1 0 1 2 1 1 1-1 1 1 1 3 1-6 1 6 1 1 1-3 1-1 1 1 1 0 1 0 1-1 1 3 1-4 1-4 1 8 1 1 1-9 1 2 1 3 1 4 1 0 1 0 1-5 1 2 1-1 1 3 1-3 1-3 1 7 1-5 1-3 1-1 1 6 1 3 1-9 1 4 1 0 1 1 1 0 1-4 1 3 1 0 1 9 1-11 1-1 1 0 1 3 1 4 1-3 1 1 1-5 1 3 1-3 1 5 1-4 1-2 1 5 1-6 1 2 1-1 1 5 1 3 1-6 1 0 1-2 1 0 1 5 1 1 1-6 1 8 1-2 1 2 1-6 1 8 1 0 1-8 1 0 1 8 1-5 1 1 1-7 1 9 1-3 1 1 1 8 1-4 1-5 1-3 1 6 1-3 1 1 1 0 1-9 1 5 1 0 1 4 1-4 1 12 1-9 1 3 1 1 1-3 1 2 1-7 1 10 1-2 1-7 1 2 1 0 1-3 1 3 1-2 1 3 1 1 1 2 1-3 1 0 1-5 1 10 1-12 1 11 1-9 1 5 1-3 1 7 1-4 1 5 1-4 1-1 1 4 1-3 1 0 1 4 1-5 1 2 1 0 1-2 1 0 1 6 1-2 1-5 1 7 1-6 1 1 1 1 1-2 1 0 1 1 1 4 1-5 1 1 1-1 1-3 1 5 1 2 1-7 1 5 1 0 1-3 1-2 1 3 1 5 1 1 1-7 1-2 1-2 1 5 1 1 1-4 1 2 1-2 1 4 1-2 1 0 1 5 1-7 1-1 1 8 1-3 1-5 1 0 1 5 1-5 1 7 1-7 1 0 1 8 1 1 1-4 1 3 1-5 1 5 1-13 1 9 1-1 1 5 1-4 1-1 1-3 1 0 1 1 1 0 1 13 1-9 1 2 1-10 1 8 1-4 1 7 1 1 1-10 1 11 1-6 1 8 1-15 1 4 1 13 1-15 1 4 1 0 1 4 1 2 1-4 1-5 1 3 1 4 1-3 1 1 1 2 1-6 1 2 1 6 1-2 1-4 1 7 1-10 1 1 1 8 1-9 1 9 1-10 1 5 1 1 1-2 1 2 1 8 1-3 1-3 1 1 1-5 1 9 1-7 1-1 1-3 1 8 1-5 1 0 1-4 1 0 1 4 1 1 1 0 1-2 1-3 1 4 1 0 1-3 1 3 1 6 1-13 1 2 1 4 1 0 1 5 1-10 1 9 1-3 1 3 1 4 1-8 1 1 1-5 1 2 1 8 1-4 1-1 1-4 1-1 1 6 1 2 1-7 1 0 1 7 1 0 1-4 1-5 1 5 1 0" fill="none" stroke="#f08a8b" stroke-width="4.0" stroke-linejoin="round" stroke-linecap="round" vector-effect="non-scaling-stroke"/>
<polyline points="92.3,1679.4 93.4,1679.7 94.5,1680.2 95.6,1680.6 96.7,1681.0 97.7,1681.4 98.8,1681.8 99.9,1682.1 101.0,1682.4 102.0,1682.7 103.1,1682.8 104.2,1682.9 105.3,1683.0 106.3,1683.0 107.4,1682.9 108.5,1682.9 109.6,1682.8 110.7,1682.7 111.7,1682.7 112.8,1682.6 113.9,1682.5 115.0,1682.4 116.0,1682.3 117.1,1682.2 118.2,1682.1 119.3,1682.0 120.3,1682.0 121.4,1681.9 122.5,1681.9 123.6,1681.9 124.7,1681.9 125.7,1682.1 126.8,1682.3 127.9,1682.7 129.0,1683.1 130.0,1683.6 131.1,1684.1 132.2,1684.6 133.3,1685.2 134.3,1685.8 135.4,1686.4 136.5,1686.9 137.6,1687.4 138.7,1687.8 139.7,1688.1 140.8,1688.4 141.9,1688.5 143.0,1688.6 144.0,1688.5 145.1,1688.4 146.2,1688.2 147.3,1687.9 148.3,1687.5 149.4,1687.2 150.5,1686.8 151.6,1686.3 152.7,1685.9 153.7,1685.4 154.8,1685.0 155.9,1684.6 157.0,1684.2 158.0,1683.8 159.1,1683.5 160.2,1683.2 161.3,1683.0 162.3,1682.9 163.4,1682.7 164.5,1682.6 165.6,1682.5 166.7,1682.3 167.7,1682.2 168.8,1682.1 169.9,1682.0 171.0,1681.8 172.0,1681.7 173.1,1681.6 174.2,1681.5 175.3,1681.5 176.3,1681.4 177.4,1681.3 178.5,1681.3 179.6,1681.2 180.7,1681.2 181.7,1681.1 182.8,1681.1 183.9,1681.1 185.0,1681.1 186.0,1681.2 187.1,1681.3 188.2,1681.4 189.3,1681.5 190.3,1681.6 191.4,1681.8 192.5,1681.9 193.6,1682.1 194.7,1682.2 195.7,1682.4 196.8,1682.5 197.9,1682.7 199.0,1682.8 200.0,1682.9 201.1,1682.9 202.2,1683.0 203.3,1683.0 204.3,1683.0 205.4,1683.0 206.5,1683.0 207.6,1683.0 208.7,1683.0 209.7,1683.0 210.8,1683.0 211.9,1683.0 213.0,1683.0 214.0,1683.0 215.1,1683.0 216.2,1683.0 217.3,1683.0 218.3,1683.0 219.4,1683.0 220.5,1683.0 221.6,1683.0 222.7,1682.9 223.7,1682.7 224.8,1682.5 225.9,1682.2 227.0,1681.9 228.0,1681.5 229.1,1681.1 230.2,1680.7 231.3,1680.3 232.3,1680.0 233.4,1679.7 234.5,1679.4 235.6,1679.3 236.7,1679.3 237.7,1679.3 238.8,1679.5 239.9,1679.7 241.0,1680.1 242.0,1680.5 243.1,1680.9 244.2,1681.4 245.3,1681.9 246.3,1682.4 247.4,1683.0 248.5,1683.5 249.6,1684.0 250.7,1684.5 251.7,1684.9 252.8,1685.4 253.9,1685.8 255.0,1686.3 256.0,1686.9 257.1,1687.4 258.2,1687.9 259.3,1688.5 260.3,1689.0 261.4,1689.5 262.5,1689.9 263.6,1690.3 264.7,1690.6 265.7,1690.9 266.8,1691.1 267.9,1691.2 269.0,1691.2 270.0,1691.1 271.1,1690.8 272.2,1690.5 273.3,1690.1 274.3,1689.6 275.4,1689.0 276.5,1688.5 277.6,1687.9 278.7,1687.3 279.7,1686.8 280.8,1686.2 281.9,1685.8 283.0,1685.4 284.0,1685.1 285.1,1684.9 286.2,1684.8 287.3,1684.7 288.3,1684.7 289.4,1684.6 290.5,1684.6 291.6,1684.5 292.7,1684.5 293.7,1684.5 294.8,1684.4 295.9,1684.4 297.0,1684.3 298.0,1684.3 299.1,1684.2 300.2,1684.1 301.3,1684.0 302.3,1683.9 303.4,1683.7 304.5,1683.4 305.6,1683.2 306.7,1682.9 307.7,1682.5 308.8,1682.1 309.9,1681.7 311.0,1681.3 312.0,1680.8 313.1,1680.3 314.2,1679.8 315.3,1679.3 316.3,1678.7 317.4,1677.9 318.5,1677.1 319.6,1676.1 320.7,1675.0 321.7,1673.8 322.8,1672.6 323.9,1671.4 325.0,1670.1 326.0,1668.8 327.1,1667.5 328.2,1666.1 329.3,1664.8 330.3,1663.3 331.4,1661.9 332.5,1660.3 333.6,1658.7 334.7,1657.0 335.7,1655.2 336.8,1653.2 337.9,1651.2 339.0,1649.0 340.0,1646.7 341.1,1644.1 342.2,1641.5 343.3,1638.6 344.3,1635.5 345.4,1632.3 346.5,1628.8 347.6,1625.1 348.7,1621.2 349.7,1616.7 350.8,1611.1 351.9,1604.5 353.0,1597.5 354.0,1590.7 355.1,1584.7 356.2,1580.0 357.3,1576.7 358.3,1574.0 359.4,1571.8 360.5,1570.0 361.6,1569.0 362.7,1568.8 363.7,1569.5 364.8,1571.0 365.9,1573.0 367.0,1575.4 368.0,1578.1 369.1,1581.2 370.2,1585.1 371.3,1589.7 372.3,1594.5 373.4,1599.3 374.5,1603.9 375.6,1608.0 376.7,1611.7 377.7,1615.2 378.8,1618.6 379.9,1621.9 381.0,1625.0 382.0,1627.9 383.1,1630.6 384.2,1633.2 385.3,1635.6 386.3,1638.0 387.4,1640.3 388.5,1642.5 389.6,1644.6 390.7,1646.7 391.7,1648.6 392.8,1650.5 393.9,1652.3 395.0,1654.0 396.0,1655.6 397.1,1657.2 398.2,1658.7 399.3,1660.2 400.3,1661.6 401.4,1663.0 402.5,1664.3 403.6,1665.6 404.7,1666.9 405.7,1668.2 406.8,1669.5 407.9,1670.9 409.0,1672.3 410.0,1673.7 411.1,1675.1 412.2,1676.3 413.3,1677.4 414.3,1678.2 415.4,1678.8 416.5,1679.1 417.6,1679.2 418.7,1679.2 419.7,1679.2 420.8,1679.2 421.9,1679.2 423.0,1679.2 424.0,1679.2 425.1,1679.2 426.2,1679.2 427.3,1679.2 428.3,1679.2 429.4,1679.2 430.5,1679.2 431.6,1679.2 432.7,1679.2 433.7,1679.2 434.8,1679.2 435.9,1679.2 437.0,1679.2 438.0,1679.3 439.1,1679.3 440.2,1679.4 441.3,1679.5 442.3,1679.5 443.4,1679.6 444.5,1679.7 445.6,1679.9 446.7,1680.0 447.7,1680.1 448.8,1680.3 449.9,1680.4 451.0,1680.5 452.0,1680.7 453.1,1680.8 454.2,1681.0 455.3,1681.1 456.3,1681.2 457.4,1681.4 458.5,1681.5 459.6,1681.6 460.6,1681.7 461.7,1681.8 462.8,1681.9 463.9,1682.1 465.0,1682.2 466.0,1682.3 467.1,1682.4 468.2,1682.5 469.3,1682.6 470.3,1682.8 471.4,1682.9 472.5,1683.0 473.6,1683.1 474.6,1683.2 475.7,1683.4 476.8,1683.5 477.9,1683.6 479.0,1683.7 480.0,1683.8 481.1,1683.8 482.2,1683.9 483.3,1684.0 484.3,1684.0 485.4,1684.1 486.5,1684.1 487.6,1684.1 488.6,1684.1 489.7,1684.1 490.8,1684.1 491.9,1684.1 493.0,1684.1 494.0,1684.1 495.1,1684.0 496.2,1684.0 497.3,1684.0 498.3,1684.0 499.4,1683.9 500.5,1683.9 501.6,1683.9 502.6,1683.8 503.7,1683.8 504.8,1683.7 505.9,1683.7 507.0,1683.6 508.0,1683.6 509.1,1683.5 510.2,1683.5 511.3,1683.4 512.3,1683.4 513.4,1683.3 514.5,1683.2 515.6,1683.2 516.6,1683.1 517.7,1683.0 518.8,1682.9 519.9,1682.8 521.0,1682.6 522.0,1682.4 523.1,1682.2 524.2,1681.9 525.3,1681.6 526.3,1681.3 527.4,1681.0 528.5,1680.7 529.6,1680.4 530.6,1680.1 531.7,1679.9 532.8,1679.7 533.9,1679.5 535.0,1679.4 536.0,1679.3 537.1,1679.2 538.2,1679.3 539.3,1679.4 540.3,1679.5 541.4,1679.7 542.5,1679.9 543.6,1680.2 544.6,1680.5 545.7,1680.8 546.8,1681.1 547.9,1681.4 549.0,1681.7 550.0,1682.0 551.1,1682.2 552.2,1682.5 553.3,1682.7 554.3,1682.8 555.4,1682.9 556.5,1683.0 557.6,1683.1 558.6,1683.2 559.7,1683.2 560.8,1683.3 561.9,1683.4 563.0,1683.4 564.0,1683.5 565.1,1683.5 566.2,1683.6 567.3,1683.6 568.3,1683.6 569.4,1683.7 570.5,1683.7 571.6,1683.7 572.6,1683.7 573.7,1683.7 574.8,1683.7 575.9,1683.7 577.0,1683.5 578.0,1683.4 579.1,1683.1 580.2,1682.9 581.3,1682.6 582.3,1682.3 583.4,1682.1 584.5,1681.8 585.6,1681.6 586.6,1681.4 587.7,1681.2 588.8,1681.1 589.9,1681.1 591.0,1681.1 592.0,1681.2 593.1,1681.3 594.2,1681.4 595.3,1681.5 596.3,1681.7 597.4,1681.8 598.5,1682.0 599.6,1682.1 600.6,1682.3 601.7,1682.4 602.8,1682.6 603.9,1682.7 605.0,1682.8 606.0,1682.9 607.1,1683.0 608.2,1683.0 609.3,1683.0 610.3,1682.9 611.4,1682.8 612.5,1682.8 613.6,1682.6 614.6,1682.5 615.7,1682.4 616.8,1682.4 617.9,1682.3 619.0,1682.3 620.0,1682.3 621.1,1682.4 622.2,1682.6 623.3,1683.0 624.3,1683.4 625.4,1684.0 626.5,1684.6 627.6,1685.2 628.6,1686.0 629.7,1686.7 630.8,1687.3" fill="none" stroke="#e01a1e" stroke-width="4.6" stroke-linejoin="round"/></g>
<rect x="324.4" y="1709.9" width="74.3" height="17" fill="#ff0099"/>
<line x1="227" y1="1410.5" x2="227" y2="1423.5" stroke="#000" stroke-width="2"/>
<line x1="227" y1="1726.9" x2="227" y2="1713.9" stroke="#000" stroke-width="2"/>
<line x1="361.6" y1="1410.5" x2="361.6" y2="1423.5" stroke="#000" stroke-width="2"/>
<line x1="361.6" y1="1726.9" x2="361.6" y2="1713.9" stroke="#000" stroke-width="2"/>
<line x1="496.2" y1="1410.5" x2="496.2" y2="1423.5" stroke="#000" stroke-width="2"/>
<line x1="496.2" y1="1726.9" x2="496.2" y2="1713.9" stroke="#000" stroke-width="2"/>
<line x1="92.3" y1="1621.4" x2="105.3" y2="1621.4" stroke="#000" stroke-width="2"/>
<line x1="630.8" y1="1621.4" x2="617.8" y2="1621.4" stroke="#000" stroke-width="2"/>
<line x1="92.3" y1="1516" x2="105.3" y2="1516" stroke="#000" stroke-width="2"/>
<line x1="630.8" y1="1516" x2="617.8" y2="1516" stroke="#000" stroke-width="2"/>
<rect x="92.3" y="1410.5" width="538.4" height="316.4" fill="none" stroke="#000" stroke-width="3"/>
<clipPath id="clip_b4"><rect x="92.3" y="1827.7" width="538.4" height="316.4"/></clipPath>
<line x1="361.6" y1="1841.7" x2="361.6" y2="2144.1" stroke="#8c8c8c" stroke-width="2.4"/>
<text transform="translate(114.3 1873.8) scale(1 1.04)" font-size="30.4"><tspan font-style="italic">n</tspan> = 15,993</text>
<g clip-path="url(#clip_b4)">
<path id="nz_b4" transform="translate(92.3 2144.10) scale(0.26922 -6.59455)" d="M0 7 l1 2 1-5 1 3 1-1 1 4 1 1 1-3 1 4 1-5 1 3 1-4 1-2 1-4 1 13 1-11 1 0 1 9 1-1 1-7 1 8 1-4 1-5 1 2 1 4 1-4 1 2 1 4 1 1 1-8 1-1 1 2 1 2 1 1 1 0 1 4 1-3 1-5 1 4 1-4 1-2 1 1 1 5 1 3 1-5 1 7 1-5 1-4 1 4 1 4 1-6 1 5 1-7 1 0 1 4 1 3 1-5 1-3 1 4 1 2 1-2 1 0 1-3 1 0 1 4 1 0 1-1 1 1 1 2 1-2 1-2 1-2 1-1 1 0 1 3 1 4 1-3 1 3 1-4 1-4 1 1 1 7 1-2 1-1 1-4 1 9 1-8 1 2 1 3 1-3 1 3 1-3 1 0 1 1 1-1 1 3 1-2 1-1 1 0 1 0 1-2 1 2 1 7 1-9 1 3 1 8 1-9 1 1 1 1 1 1 1 2 1-5 1 5 1-8 1-1 1 5 1 0 1-3 1 4 1 1 1-5 1 0 1 7 1-2 1 4 1-5 1 5 1-2 1-7 1 5 1-4 1 0 1 2 1 1 1 3 1-3 1-4 1-1 1 5 1 1 1-1 1 4 1-4 1 0 1-4 1 2 1-4 1 1 1 4 1-3 1 9 1-4 1-2 1 0 1 0 1 1 1 4 1-3 1-6 1-2 1 5 1 1 1 4 1 0 1-5 1-4 1 11 1-6 1 4 1-3 1 0 1-1 1 5 1-4 1-5 1 8 1-3 1 0 1 3 1-3 1-4 1 3 1 0 1 0 1 0 1 0 1-5 1 5 1 4 1-1 1-2 1 0 1 2 1 0 1-2 1 7 1-5 1-2 1-4 1 9 1-4 1 7 1-12 1 0 1 3 1-4 1 9 1-4 1-7 1 3 1-1 1 5 1-4 1 8 1 1 1-6 1 2 1-5 1 3 1 1 1 1 1-3 1-2 1 7 1-5 1 5 1-9 1 1 1-1 1 9 1-4 1-3 1 7 1-2 1-2 1 5 1-9 1 6 1-3 1 0 1 3 1-3 1-3 1 1 1-2 1 7 1-4 1 12 1-14 1 9 1-3 1-4 1 10 1-11 1 4 1-7 1 4 1 2 1 4 1-2 1 4 1-2 1-4 1-3 1-1 1 5 1 0 1-2 1 2 1 0 1-1 1-3 1 3 1-3 1 0 1 8 1-6 1 6 1-8 1 7 1-8 1 9 1-3 1 2 1-3 1-4 1 4 1-1 1 0 1 2 1 3 1-4 1 0 1 0 1 0 1-1 1-3 1 2 1 0 1 2 1-2 1 4 1-6 1 2 1 5 1-3 1-2 1 7 1-2 1-2 1-7 1 7 1 0 1-3 1-2 1 3 1 1 1 8 1-12 1-1 1 6 1 3 1-4 1 8 1-9 1-4 1 2 1 7 1-4 1 1 1 0 1-2 1-4 1 2 1 2 1-3 1 4 1-6 1 10 1-3 1-1 1-3 1-1 1 0 1 7 1-4 1-2 1 0 1 6 1-6 1 4 1-1 1-4 1 4 1 1 1-4 1 6 1-2 1 9 1-7 1-7 1 5 1 0 1-6 1 9 1-4 1-1 1-4 1 2 1 2 1 2 1-2 1 2 1 4 1 2 1-8 1-1 1 3 1-1 1 3 1-8 1 4 1-3 1 0 1 3 1 1 1-1 1 4 1-4 1 4 1-4 1 0 1-4 1 9 1-4 1-2 1 2 1 5 1-6 1 0 1 5 1-6 1-3 1 5 1-1 1 0 1-4 1 9 1-1 1-7 1 3 1 0 1 5 1-8 1 3 1 0 1-3 1 0 1-1 1 3 1-2 1-1 1 4 1 2 1-3 1-2 1-2 1 5 1-6 1 5 1-2 1 2 1-3 1 3 1 0 1 2 1 3 1-2 1 2 1-7 1 2 1 5 1-2 1-2 1 4 1 2 1-6 1-4 1 4 1-3 1 2 1 1 1 1 1 0 1-5 1 4 1 0 1-3 1 4 1-4 1 3 1 8 1-9 1 2 1 8 1-7 1-3 1 0 1 2 1 5 1-1 1-4 1 1 1-3 1 1 1-5 1 6 1-2 1-4 1 4 1 1 1-1 1 0 1-3 1 9 1-4 1 0 1-4 1 3 1 4 1-3 1 1 1-6 1 6 1 6 1-11 1 9 1-1 1 1 1-5 1-5 1 9 1-8 1-1 1 9 1-3 1-1 1-6 1 6 1 0 1 1 1-2 1-3 1 5 1-5 1 11 1-6 1-1 1 4 1 2 1-6 1-1 1 2 1 2 1 0 1-4 1-3 1 1 1 4 1-8 1 7 1-4 1 3 1-4 1 4 1 4 1 3 1-3 1-6 1 5 1-1 1-2 1 3 1-3 1 1 1 4 1-4 1 1 1 1 1-1 1 3 1-9 1 4 1 0 1-2 1 4 1-1 1 2 1-5 1-1 1 9 1-9 1 6 1 4 1-6 1 0 1 1 1-1 1 1 1 1 1 0 1-2 1 8 1-12 1 6 1 2 1-5 1 2 1 3 1-4 1 2 1-5 1-2 1 6 1-1 1-4 1 1 1 3 1-1 1 0 1-2 1 2 1 1 1-4 1 1 1 3 1-3 1 3 1-1 1 8 1-11 1 1 1 3 1-6 1 5 1 4 1 0 1-4 1 0 1 1 1-1 1 4 1-2 1 0 1-2 1 1 1 0 1 4 1 0 1-8 1 4 1-4 1 3 1-1 1 1 1 1 1 6 1-6 1-1 1 8 1-7 1-2 1 0 1-4 1 5 1-5 1-1 1 7 1 3 1 0 1-7 1 2 1 4 1-6 1 8 1-4 1-5 1 3 1 1 1-6 1 9 1 2 1-1 1-5 1 1 1 0 1-1 1-2 1 3 1 4 1-1 1-3 1 4 1-7 1 8 1-8 1-1 1 4 1-5 1 11 1-12 1 2 1 7 1-2 1 0 1-2 1 1 1-1 1-3 1 3 1 9 1-11 1 3 1 0 1 0 1-1 1 2 1 0 1 0 1 1 1 2 1-3 1-5 1 4 1-4 1 6 1-5 1 9 1-6 1-5 1 5 1 1 1 0 1-1 1-3 1-2 1 5 1 2 1 2 1-6 1 4 1 2 1-4 1 0 1 1 1-5 1 5 1 1 1-5 1 8 1-1 1-5 1 2 1-1 1-6 1 14 1-7 1-4 1 5 1 0 1-2 1 1 1 0 1 1 1-1 1-4 1 7 1-4 1-4 1 0 1 3 1-2 1-1 1 1 1 3 1-3 1 4 1 2 1-2 1-4 1 4 1-1 1-1 1 0 1 10 1-9 1 3 1-7 1 5 1-6 1 1 1 7 1-2 1-1 1 1 1 0 1 2 1 2 1-2 1 0 1-4 1 0 1 6 1-8 1 8 1-4 1 3 1-1 1 1 1-4 1 1 1 3 1-5 1-2 1-2 1 4 1 3 1-6 1 5 1 7 1-7 1 1 1-1 1 0 1-5 1-1 1 2 1 1 1-2 1 1 1 1 1 10 1-7 1-3 1 10 1-6 1-2 1 2 1 5 1-7 1 1 1 0 1 5 1-4 1-5 1 3 1 2 1 4 1-8 1-1 1 4 1-1 1-2 1-1 1 4 1-1 1 2 1 7 1-6 1 2 1-4 1 2 1 3 1-9 1 9 1-5 1-7 1 5 1 4 1 5 1-11 1 6 1 3 1-4 1 5 1-10 1 2 1 7 1-1 1-2 1 1 1 4 1-5 1 0 1 1 1-3 1 6 1-4 1-4 1 5 1-5 1 5 1 4 1-5 1 4 1-1 1-6 1 7 1 1 1-6 1 4 1 0 1 3 1-11 1 10 1-5 1 6 1 0 1-11 1 6 1 3 1-3 1-6 1 3 1 2 1 1 1 0 1-1 1 0 1-3 1 12 1-10 1 0 1 11 1-11 1 7 1-9 1 15 1-4 1-4 1-5 1-1 1 6 1 4 1-2 1-3 1-8 1 1 1 10 1-7 1 3 1 3 1-5 1 1 1-3 1 13 1-14 1 12 1-4 1 3 1-5 1 0 1 12 1-5 1-5 1 8 1-2 1-13 1 11 1-9 1 11 1-1 1-5 1 0 1-2 1 8 1-4 1 3 1-3 1 5 1-6 1-7 1 3 1 6 1 1 1-6 1 2 1 3 1-5 1 0 1 11 1-11 1 14 1-7 1-1 1 1 1 5 1 3 1-8 1 8 1-10 1 3 1 3 1-8 1 9 1-10 1 12 1 5 1-9 1-8 1 3 1 6 1-1 1 5 1 0 1-9 1 0 1-3 1 0 1 10 1 3 1-12 1 12 1 2 1-14 1 8 1 5 1-2 1-6 1 2 1 2 1 19 1-14 1-6 1 6 1-6 1-1 1 5 1-9 1-1 1 0 1 1 1 3 1 13 1-9 1-11 1 25 1-3 1-6 1-8 1 14 1-4 1-10 1 1 1-4 1 7 1-6 1 20 1-18 1 7 1 0 1-3 1-1 1-3 1-7 1 20 1-3 1 2 1-6 1-4 1 10 1-9 1-5 1-4 1 16 1-13 1-8 1 21 1-7 1-1 1 4 1-8 1 8 1-4 1-6 1 14 1-5 1-11 1 3 1 8 1-11 1 2 1 6 1-9 1 9 1 0 1-7 1 9 1-3 1 5 1 3 1-12 1 0 1 1 1 2 1-9 1 10 1-10 1 9 1-8 1 14 1-19 1 8 1-8 1 8 1-1 1 13 1-17 1 8 1 11 1-16 1 0 1-7 1 11 1 2 1 0 1-11 1 6 1-5 1-1 1 0 1 6 1 7 1-10 1 1 1 5 1-9 1 5 1-7 1 9 1-3 1 1 1-1 1-13 1 8 1 5 1-6 1 15 1-14 1-1 1 1 1 7 1 6 1-17 1 12 1 7 1-13 1-3 1 3 1 2 1 0 1-2 1-3 1-1 1 1 1 8 1-6 1 2 1-4 1 0 1-3 1 2 1 0 1-1 1 5 1-2 1 1 1-1 1-3 1 3 1 6 1-6 1 4 1-3 1 0 1 5 1-6 1 1 1-5 1 3 1-3 1-4 1 4 1 5 1-4 1 3 1-1 1 0 1 2 1-4 1 3 1 5 1-9 1 4 1-1 1-1 1 3 1-5 1 7 1-7 1 8 1-5 1-4 1 8 1-4 1 1 1-6 1 5 1 1 1-2 1 0 1 1 1-3 1 11 1-13 1 5 1-2 1 1 1 9 1-12 1 0 1-5 1 5 1 9 1-1 1-8 1 7 1-5 1-2 1-1 1 7 1-3 1-4 1 13 1-12 1 2 1 0 1 4 1-3 1 1 1 0 1 4 1-6 1 1 1 1 1-5 1 7 1-6 1 10 1-11 1 0 1 8 1-1 1 0 1-6 1 2 1-5 1 3 1 0 1 0 1 0 1 4 1 2 1-4 1-3 1 13 1-6 1-8 1 8 1-7 1 1 1 6 1-4 1-3 1 5 1-5 1 3 1-5 1 5 1-3 1 3 1 0 1 1 1 1 1-6 1 2 1-1 1 4 1-3 1 0 1 4 1 0 1 0 1-1 1-1 1 1 1 12 1-15 1 7 1-9 1 8 1-6 1-1 1 0 1 7 1-3 1-3 1 3 1-2 1 2 1-5 1-1 1 13 1-6 1-2 1 9 1-7 1 2 1-8 1 6 1-6 1 5 1-4 1 0 1 7 1-2 1-1 1 0 1 0 1-4 1 3 1 1 1 4 1-8 1-1 1 3 1 7 1-2 1-8 1 4 1-3 1 4 1 2 1-7 1 7 1-4 1-2 1 3 1 1 1 9 1-13 1 3 1-1 1 5 1-7 1 6 1-3 1-7 1 12 1-2 1-6 1 6 1-6 1 2 1 0 1 2 1-5 1 4 1 3 1 0 1 0 1-2 1 2 1-2 1 5 1-6 1 6 1-1 1-1 1-7 1 6 1-6 1 8 1-4 1 2 1-6 1-2 1 8 1-4 1 1 1 3 1 6 1-9 1 0 1-4 1 7 1 5 1-9 1-2 1 4 1-4 1-1 1 5 1-4 1-4 1 6 1 6 1-2 1 1 1 1 1-5 1 1 1-5 1 1 1-2 1 8 1-3 1-5 1 2 1 0 1 6 1-3 1 1 1 7 1-11 1 2 1 0 1-2 1 2 1-2 1 4 1 2 1-2 1-2 1-3 1 4 1 3 1-6 1 7 1 4 1-9 1-5 1 3 1 6 1 0 1 0 1-2 1-2 1-3 1 5 1-1 1-4 1 7 1-7 1 1 1 4 1 0 1-1 1 0 1 5 1-4 1-2 1-3 1 4 1 4 1-7 1 7 1-4 1 0 1 0 1-4 1 5 1-6 1 6 1 0 1 0 1-2 1-2 1-2 1 10 1-7 1-3 1 6 1-1 1-1 1 5 1-9 1 6 1-5 1 5 1-5 1-2 1 10 1 0 1-6 1-2 1 2 1 2 1-5 1 5 1-1 1 1 1-1 1 5 1-3 1-3 1 6 1-5 1-1 1 5 1-4 1 0 1 2 1 0 1-4 1 12 1-5 1-1 1-2 1-1 1-3 1-2 1 5 1 0 1 0 1 1 1-1 1 3 1-4 1 0 1 2 1-1 1-5 1 2 1 3 1-3 1 8 1 4 1-12 1 4 1-1 1-3 1 2 1-3 1 4 1-5 1 5 1 4 1-3 1-1 1 4 1-9 1 8 1-4 1 0 1 0 1 10 1-9 1 1 1-5 1 4 1 8 1-7 1 3 1-3 1-5 1 1 1 7 1-4 1-3 1-4 1 4 1 4 1 2 1-3 1-4 1 8 1 0 1-4 1 1 1-5 1 5 1-5 1 4 1 3 1 2 1-2 1-10 1 6 1 2 1-3 1-2 1 0 1 7 1-2 1-1 1 2 1-2 1 4 1-2 1 2 1-5 1 1 1-1 1-4 1 5 1-2 1 7 1-6 1-3 1 3 1 14 1-14 1-3 1 5 1 2 1 4 1-12 1 8 1-8 1 4 1 2 1 4 1-7 1 3 1-3 1 1 1 0 1 2 1-2 1 1 1-1 1 8 1-3 1-8 1-1 1 1 1 4 1 0 1-1 1 4 1-7 1 9 1-2 1-2 1-1 1 3 1-7 1 7 1-2 1 0 1-1 1 0 1 0 1-1 1-2 1 7 1-1 1-4 1 0 1 2 1 3 1 4 1-5 1-10 1 7 1 5 1-2 1-7 1 3 1 5 1-4 1-3 1 6 1-8 1 4 1 5 1-3 1-1 1 3 1 1 1-7 1 0 1-1 1 1 1 2 1 2 1 0 1-1 1 4 1-3 1-4 1 2 1-3 1 3 1 1 1 1 1-1 1 5 1-4 1-2 1 1 1 2 1 0 1 2 1-4 1-3 1 2 1-2 1 0 1 3 1 5 1-4 1-6 1 4 1 3 1 10 1-12 1-4 1 5 1 4 1-9 1 0 1 4 1-4 1 1 1 11 1-8 1 2 1-5 1 0 1 5 1 0 1 3 1-3 1 2 1-8 1 4 1-4 1 3 1 3 1-6 1 5 1-4 1 3 1-1 1-2 1 4 1-4 1 3 1-1 1 2 1-6 1 2 1 2 1 6 1-5 1-3 1 7 1-8 1 0 1 3 1-4 1 1 1 4 1-4 1 7 1 1 1-6 1 0 1 0 1 3 1-7 1 5 1 8 1-6 1-1 1-1 1 9 1-13 1 8 1-1 1 2 1-5 1 0 1 1 1 2 1 0 1-3 1-1 1 0 1 2 1 7 1-11 1 0 1 0 1 8 1-8 1 4 1-1 1 2 1-3 1-3 1 3 1 0 1 6 1-9 1 6 1-2 1-3 1 2 1 5 1-8 1 5 1-2 1 3 1 2 1-4 1 10 1-9 1 5 1-4 1 0 1-2 1 4 1-7 1 4 1 0 1 0 1 3 1-2 1-3 1 2 1-2 1 1 1 1 1 0 1 1 1-2 1 1 1-5 1 2 1 4 1-4 1 4 1-1 1-4 1 4 1 3 1 2 1-8 1 0 1 0 1 0 1 4 1 2 1-2 1-4 1-1 1 3 1 2 1-1 1-1 1 1 1-5 1 12 1-7 1 0 1-2 1 2 1 4 1-10 1 9 1-4 1-1 1 3 1 2 1-7 1 3 1 0 1 1 1 1 1-1 1 3 1-3 1-6 1 2 1 4 1 1 1-1 1-2 1-3 1 0 1 5 1-5 1 6 1-5 1 0 1-3 1 6 1 2 1 0 1 0 1-3 1-3 1 4 1 1 1 4 1-5 1 6 1 0 1-5 1 3 1-7 1 7 1-7 1 2 1 2 1 5 1-7 1 1 1 4 1-5 1 1 1-4 1 4 1 1 1 0 1-2 1 0 1-2 1 5 1 2 1-7 1 3 1 0 1-6 1 12 1 0 1-5 1-5 1 5 1-5 1 9 1-5 1-6 1 11 1-8 1 9 1-7 1 0 1 0 1 0 1-2 1 11 1-6 1 8 1-9 1-4 1 11 1-9 1 2 1 0 1 0 1 5 1-2 1 0 1-6 1 3 1-5 1 0 1 8 1-6 1-2 1 6 1 0 1-1 1-5 1 6 1-4 1-1 1 1 1 4 1-4 1 0 1 4 1-8 1 8 1-5 1 3 1-2 1 6 1-2 1-1 1 7 1-14 1 8 1-2 1 4 1-6 1 0 1 4 1 6 1-4 1 1 1-7 1 2 1 1 1-1 1 1 1 3 1-6 1 3 1-1 1 6 1-8 1 7 1 3 1-4 1 0 1-3 1-1 1-6 1 4 1 3 1-3 1 6 1-2 1 4 1-9 1 0" fill="none" stroke="#f08a8b" stroke-width="4.0" stroke-linejoin="round" stroke-linecap="round" vector-effect="non-scaling-stroke"/>
<polyline points="92.3,2095.5 93.4,2096.0 94.5,2096.7 95.6,2097.3 96.7,2097.9 97.7,2098.5 98.8,2099.0 99.9,2099.5 101.0,2100.0 102.0,2100.4 103.1,2100.8 104.2,2101.1 105.3,2101.4 106.3,2101.7 107.4,2101.9 108.5,2102.1 109.6,2102.3 110.7,2102.4 111.7,2102.4 112.8,2102.5 113.9,2102.4 115.0,2102.3 116.0,2102.1 117.1,2101.9 118.2,2101.7 119.3,2101.4 120.3,2101.1 121.4,2100.8 122.5,2100.6 123.6,2100.3 124.7,2100.1 125.7,2100.0 126.8,2099.9 127.9,2099.9 129.0,2099.9 130.0,2100.0 131.1,2100.2 132.2,2100.4 133.3,2100.7 134.3,2100.9 135.4,2101.2 136.5,2101.5 137.6,2101.8 138.7,2102.0 139.7,2102.2 140.8,2102.3 141.9,2102.4 143.0,2102.5 144.0,2102.4 145.1,2102.3 146.2,2102.2 147.3,2102.1 148.3,2101.9 149.4,2101.7 150.5,2101.5 151.6,2101.3 152.7,2101.0 153.7,2100.8 154.8,2100.6 155.9,2100.4 157.0,2100.2 158.0,2100.1 159.1,2100.0 160.2,2099.9 161.3,2099.9 162.3,2099.9 163.4,2100.1 164.5,2100.3 165.6,2100.6 166.7,2101.0 167.7,2101.4 168.8,2101.7 169.9,2102.0 171.0,2102.3 172.0,2102.4 173.1,2102.4 174.2,2102.3 175.3,2102.0 176.3,2101.6 177.4,2101.2 178.5,2100.7 179.6,2100.3 180.7,2099.8 181.7,2099.5 182.8,2099.2 183.9,2099.1 185.0,2099.1 186.0,2099.2 187.1,2099.3 188.2,2099.4 189.3,2099.6 190.3,2099.8 191.4,2100.0 192.5,2100.2 193.6,2100.4 194.7,2100.7 195.7,2100.9 196.8,2101.1 197.9,2101.3 199.0,2101.4 200.0,2101.6 201.1,2101.6 202.2,2101.7 203.3,2101.7 204.3,2101.7 205.4,2101.7 206.5,2101.6 207.6,2101.6 208.7,2101.6 209.7,2101.5 210.8,2101.4 211.9,2101.3 213.0,2101.2 214.0,2101.2 215.1,2101.1 216.2,2100.9 217.3,2100.8 218.3,2100.7 219.4,2100.6 220.5,2100.5 221.6,2100.3 222.7,2100.2 223.7,2100.0 224.8,2099.9 225.9,2099.7 227.0,2099.5 228.0,2099.3 229.1,2098.9 230.2,2098.6 231.3,2098.1 232.3,2097.7 233.4,2097.3 234.5,2096.8 235.6,2096.3 236.7,2095.9 237.7,2095.4 238.8,2095.0 239.9,2094.6 241.0,2094.3 242.0,2094.0 243.1,2093.8 244.2,2093.6 245.3,2093.5 246.3,2093.5 247.4,2093.7 248.5,2094.1 249.6,2094.7 250.7,2095.5 251.7,2096.4 252.8,2097.3 253.9,2098.4 255.0,2099.4 256.0,2100.5 257.1,2101.6 258.2,2102.6 259.3,2103.6 260.3,2104.4 261.4,2105.1 262.5,2105.7 263.6,2106.0 264.7,2106.2 265.7,2106.1 266.8,2105.9 267.9,2105.5 269.0,2105.0 270.0,2104.5 271.1,2103.8 272.2,2103.1 273.3,2102.4 274.3,2101.7 275.4,2101.0 276.5,2100.4 277.6,2099.8 278.7,2099.4 279.7,2099.0 280.8,2098.8 281.9,2098.8 283.0,2098.9 284.0,2099.2 285.1,2099.6 286.2,2100.1 287.3,2100.6 288.3,2101.2 289.4,2101.9 290.5,2102.5 291.6,2103.1 292.7,2103.6 293.7,2104.1 294.8,2104.4 295.9,2104.6 297.0,2104.7 298.0,2104.6 299.1,2104.3 300.2,2103.9 301.3,2103.4 302.3,2102.9 303.4,2102.2 304.5,2101.5 305.6,2100.7 306.7,2099.9 307.7,2099.1 308.8,2098.2 309.9,2097.4 311.0,2096.6 312.0,2095.8 313.1,2095.1 314.2,2094.3 315.3,2093.6 316.3,2092.8 317.4,2091.9 318.5,2091.1 319.6,2090.2 320.7,2089.3 321.7,2088.3 322.8,2087.2 323.9,2086.1 325.0,2085.0 326.0,2083.7 327.1,2082.4 328.2,2080.8 329.3,2079.1 330.3,2077.3 331.4,2075.2 332.5,2073.1 333.6,2070.8 334.7,2068.4 335.7,2065.8 336.8,2063.3 337.9,2060.6 339.0,2057.8 340.0,2054.9 341.1,2051.9 342.2,2048.7 343.3,2045.3 344.3,2041.7 345.4,2037.9 346.5,2033.9 347.6,2029.7 348.7,2025.2 349.7,2020.2 350.8,2014.1 351.9,2007.2 353.0,1999.8 354.0,1992.6 355.1,1986.0 356.2,1980.4 357.3,1975.9 358.3,1972.0 359.4,1968.4 360.5,1965.5 361.6,1963.6 362.7,1963.1 363.7,1963.6 364.8,1964.9 365.9,1966.7 367.0,1968.9 368.0,1971.4 369.1,1974.0 370.2,1976.9 371.3,1980.2 372.3,1984.3 373.4,1988.8 374.5,1993.8 375.6,1998.9 376.7,2004.0 377.7,2008.9 378.8,2013.4 379.9,2017.6 381.0,2021.6 382.0,2025.6 383.1,2029.5 384.2,2033.3 385.3,2037.1 386.3,2040.6 387.4,2044.1 388.5,2047.3 389.6,2050.3 390.7,2053.1 391.7,2055.8 392.8,2058.4 393.9,2060.8 395.0,2063.2 396.0,2065.4 397.1,2067.6 398.2,2069.6 399.3,2071.5 400.3,2073.2 401.4,2074.9 402.5,2076.4 403.6,2077.9 404.7,2079.4 405.7,2080.9 406.8,2082.4 407.9,2083.8 409.0,2085.1 410.0,2086.3 411.1,2087.5 412.2,2088.5 413.3,2089.4 414.3,2090.1 415.4,2090.7 416.5,2091.1 417.6,2091.4 418.7,2091.6 419.7,2091.7 420.8,2091.9 421.9,2092.0 423.0,2092.2 424.0,2092.3 425.1,2092.4 426.2,2092.5 427.3,2092.6 428.3,2092.7 429.4,2092.8 430.5,2092.8 431.6,2093.0 432.7,2093.1 433.7,2093.2 434.8,2093.3 435.9,2093.5 437.0,2093.7 438.0,2093.9 439.1,2094.2 440.2,2094.5 441.3,2094.8 442.3,2095.1 443.4,2095.3 444.5,2095.6 445.6,2095.9 446.7,2096.2 447.7,2096.4 448.8,2096.6 449.9,2096.7 451.0,2096.9 452.0,2097.0 453.1,2097.0 454.2,2097.1 455.3,2097.2 456.3,2097.3 457.4,2097.3 458.5,2097.4 459.6,2097.4 460.6,2097.5 461.7,2097.5 462.8,2097.6 463.9,2097.6 465.0,2097.7 466.0,2097.7 467.1,2097.8 468.2,2097.9 469.3,2098.0 470.3,2098.1 471.4,2098.2 472.5,2098.3 473.6,2098.5 474.6,2098.7 475.7,2098.9 476.8,2099.1 477.9,2099.3 479.0,2099.5 480.0,2099.7 481.1,2099.9 482.2,2100.1 483.3,2100.2 484.3,2100.4 485.4,2100.5 486.5,2100.5 487.6,2100.6 488.6,2100.5 489.7,2100.4 490.8,2100.2 491.9,2099.9 493.0,2099.5 494.0,2099.1 495.1,2098.6 496.2,2098.1 497.3,2097.6 498.3,2097.2 499.4,2096.8 500.5,2096.5 501.6,2096.3 502.6,2096.1 503.7,2096.2 504.8,2096.5 505.9,2097.1 507.0,2097.8 508.0,2098.6 509.1,2099.5 510.2,2100.4 511.3,2101.2 512.3,2101.8 513.4,2102.2 514.5,2102.4 515.6,2102.4 516.6,2102.2 517.7,2102.0 518.8,2101.6 519.9,2101.2 521.0,2100.8 522.0,2100.3 523.1,2099.8 524.2,2099.3 525.3,2098.8 526.3,2098.2 527.4,2097.8 528.5,2097.3 529.6,2096.9 530.6,2096.6 531.7,2096.3 532.8,2096.1 533.9,2096.0 535.0,2096.0 536.0,2095.9 537.1,2095.8 538.2,2095.8 539.3,2095.7 540.3,2095.7 541.4,2095.6 542.5,2095.6 543.6,2095.5 544.6,2095.5 545.7,2095.4 546.8,2095.4 547.9,2095.4 549.0,2095.4 550.0,2095.3 551.1,2095.3 552.2,2095.4 553.3,2095.7 554.3,2096.2 555.4,2096.9 556.5,2097.9 557.6,2098.8 558.6,2099.8 559.7,2100.8 560.8,2101.5 561.9,2102.1 563.0,2102.4 564.0,2102.4 565.1,2102.4 566.2,2102.3 567.3,2102.2 568.3,2102.0 569.4,2101.8 570.5,2101.6 571.6,2101.4 572.6,2101.2 573.7,2100.9 574.8,2100.7 575.9,2100.5 577.0,2100.3 578.0,2100.2 579.1,2100.0 580.2,2099.9 581.3,2099.9 582.3,2099.9 583.4,2099.9 584.5,2100.0 585.6,2100.1 586.6,2100.2 587.7,2100.4 588.8,2100.6 589.9,2100.8 591.0,2101.1 592.0,2101.3 593.1,2101.5 594.2,2101.7 595.3,2101.9 596.3,2102.1 597.4,2102.2 598.5,2102.3 599.6,2102.4 600.6,2102.5 601.7,2102.4 602.8,2102.3 603.9,2102.2 605.0,2102.0 606.0,2101.7 607.1,2101.5 608.2,2101.2 609.3,2100.9 610.3,2100.6 611.4,2100.4 612.5,2100.2 613.6,2100.0 614.6,2099.9 615.7,2099.9 616.8,2099.8 617.9,2099.8 619.0,2099.8 620.0,2099.8 621.1,2099.8 622.2,2099.8 623.3,2099.8 624.3,2099.8 625.4,2099.8 626.5,2099.8 627.6,2099.8 628.6,2099.8 629.7,2099.8 630.8,2099.8" fill="none" stroke="#e01a1e" stroke-width="4.6" stroke-linejoin="round"/></g>
<rect x="324.4" y="2127.1" width="74.3" height="17" fill="#ff0099"/>
<line x1="227" y1="1827.7" x2="227" y2="1840.7" stroke="#000" stroke-width="2"/>
<line x1="227" y1="2144.1" x2="227" y2="2131.1" stroke="#000" stroke-width="2"/>
<line x1="361.6" y1="1827.7" x2="361.6" y2="1840.7" stroke="#000" stroke-width="2"/>
<line x1="361.6" y1="2144.1" x2="361.6" y2="2131.1" stroke="#000" stroke-width="2"/>
<line x1="496.2" y1="1827.7" x2="496.2" y2="1840.7" stroke="#000" stroke-width="2"/>
<line x1="496.2" y1="2144.1" x2="496.2" y2="2131.1" stroke="#000" stroke-width="2"/>
<line x1="92.3" y1="2038.6" x2="105.3" y2="2038.6" stroke="#000" stroke-width="2"/>
<line x1="630.8" y1="2038.6" x2="617.8" y2="2038.6" stroke="#000" stroke-width="2"/>
<line x1="92.3" y1="1933.2" x2="105.3" y2="1933.2" stroke="#000" stroke-width="2"/>
<line x1="630.8" y1="1933.2" x2="617.8" y2="1933.2" stroke="#000" stroke-width="2"/>
<rect x="92.3" y="1827.7" width="538.4" height="316.4" fill="none" stroke="#000" stroke-width="3"/>
<clipPath id="clip_c1"><rect x="1163.4" y="576.1" width="538.4" height="316.4"/></clipPath>
<line x1="1432.6" y1="590.1" x2="1432.6" y2="892.5" stroke="#8c8c8c" stroke-width="2.4"/>
<text transform="translate(1186 619.2) scale(1 1.04)" font-size="30.4"><tspan font-style="italic">n</tspan> = 121,201</text>
<g clip-path="url(#clip_c1)">
<path id="nz_c1" transform="translate(1163.4 1028.10) scale(0.26920 -3.72934)" d="M0 86 l1-4 1 8 1 0 1 6 1-34 1 35 1-9 1-14 1 19 1-21 1 15 1-4 1 1 1 32 1-17 1-21 1-14 1 30 1-21 1 23 1-19 1 5 1 15 1-8 1-14 1 18 1 4 1-15 1-8 1 4 1 18 1-4 1 5 1-13 1 25 1-42 1 28 1 13 1-34 1-4 1 7 1 6 1-12 1 15 1 5 1-15 1 22 1-4 1-19 1-9 1 40 1-15 1 4 1-15 1 6 1-11 1 1 1 0 1 2 1 11 1-9 1 11 1 8 1-12 1-2 1-21 1 40 1-11 1 4 1-20 1-5 1 24 1-21 1 3 1-7 1 14 1-2 1-18 1 24 1 19 1-26 1 9 1 7 1-9 1-10 1 16 1 12 1-31 1 19 1-2 1-15 1-14 1 30 1 15 1-27 1 8 1-13 1-3 1 10 1 3 1 10 1-19 1 20 1-22 1 18 1-26 1 30 1-34 1 23 1 18 1-12 1-9 1-11 1 27 1-2 1-2 1-32 1 30 1-9 1-11 1 7 1 15 1-10 1-1 1-15 1 19 1 3 1 5 1-38 1 34 1 6 1-8 1-9 1 10 1-1 1-10 1 28 1-43 1 19 1-3 1 17 1-18 1-1 1 10 1-1 1-1 1-6 1 9 1 1 1-6 1 14 1-7 1 6 1-13 1 6 1 10 1-30 1 11 1 9 1-21 1 16 1-19 1 25 1 5 1-26 1 13 1 17 1-16 1 5 1 12 1-16 1 23 1-14 1-4 1-5 1 5 1 5 1-10 1-10 1 21 1-12 1 12 1-14 1 14 1-5 1-15 1 22 1-3 1-10 1 3 1 0 1 3 1-5 1 21 1-25 1 2 1-7 1 22 1-9 1 15 1-18 1-4 1-2 1 5 1-10 1 23 1-21 1 19 1-20 1 3 1 7 1-2 1 4 1-4 1 7 1-11 1-1 1-1 1 6 1-12 1 4 1 5 1-3 1 5 1-13 1 0 1 11 1-8 1-4 1 8 1-6 1 31 1-7 1-22 1 11 1-1 1-21 1 21 1-13 1 1 1 11 1-16 1 6 1 6 1-2 1 13 1 2 1-6 1-3 1 2 1-13 1 11 1-4 1 11 1-19 1 0 1 6 1 11 1 12 1 4 1-20 1-3 1 4 1 7 1-11 1 12 1-24 1-1 1 21 1-9 1 32 1-16 1-1 1-11 1-15 1 13 1-18 1 18 1 6 1-21 1 15 1 0 1-8 1 14 1 4 1-19 1 4 1 22 1-39 1 10 1 11 1 8 1-12 1-2 1-4 1 25 1-34 1 17 1 9 1-13 1-4 1 23 1-15 1-13 1 25 1-14 1 5 1-5 1 0 1 3 1-7 1 9 1-9 1 24 1-12 1 0 1-16 1 12 1 14 1 3 1-26 1 24 1 1 1-19 1-14 1 8 1 6 1 1 1 1 1-1 1-3 1 18 1-4 1-4 1-4 1-4 1-14 1 6 1 8 1 3 1 9 1-10 1 3 1 0 1 22 1-16 1-5 1-13 1-2 1 17 1 7 1-7 1 3 1-14 1 0 1 9 1-1 1-2 1 10 1-13 1 0 1-3 1 10 1-1 1-10 1 1 1 11 1-21 1 11 1 6 1 6 1-2 1-5 1 16 1-26 1 7 1 3 1 2 1 1 1-1 1 1 1 12 1-18 1 0 1 6 1-6 1 13 1-6 1 8 1-11 1 13 1-16 1 12 1-8 1-15 1 9 1 13 1-9 1 0 1 4 1-18 1 10 1 15 1-11 1-11 1 1 1 9 1-1 1-12 1 19 1-17 1 17 1-10 1 3 1 2 1-7 1 20 1-20 1 20 1-11 1 6 1 10 1-18 1-14 1 14 1 6 1-11 1-2 1-1 1 0 1 17 1-11 1-13 1 24 1-24 1 24 1-12 1-9 1 15 1 1 1-6 1-11 1 9 1-3 1 22 1-18 1 7 1-14 1 3 1 2 1 13 1-8 1-7 1-4 1 18 1-15 1 11 1-10 1 4 1-3 1-11 1 16 1-1 1 0 1 2 1-2 1 13 1-15 1 11 1-15 1-4 1 12 1-13 1 22 1-5 1-3 1 10 1-23 1-3 1 19 1-7 1-3 1 4 1 3 1 1 1-4 1 15 1-11 1 10 1-3 1-10 1-4 1 3 1 7 1 8 1-12 1 17 1-15 1-14 1 11 1 2 1 5 1-4 1-7 1 1 1 0 1 20 1-37 1 22 1 8 1-13 1-20 1 17 1-2 1-1 1-5 1 5 1 6 1-10 1 24 1-32 1 30 1-12 1-6 1-7 1 11 1-4 1-8 1 4 1 4 1 18 1-7 1-13 1 11 1-1 1-1 1 23 1-16 1-23 1 24 1-5 1-6 1-6 1 16 1-9 1 14 1-14 1 1 1 1 1 7 1-9 1 11 1-5 1 4 1-20 1 5 1 5 1-9 1 7 1-3 1 6 1-8 1 14 1-19 1 20 1-23 1 33 1-21 1-13 1 20 1-1 1-18 1 6 1 5 1-9 1 13 1-18 1 11 1 11 1-1 1-13 1 11 1 0 1-15 1 5 1-7 1 12 1-9 1 18 1-2 1 6 1-20 1 1 1 3 1 20 1-32 1 10 1 7 1 8 1-13 1-12 1 4 1-9 1 8 1 2 1 19 1-4 1-13 1 19 1-16 1 10 1-2 1-6 1 1 1 3 1 12 1-21 1 19 1-13 1-7 1 5 1 5 1-9 1 9 1 0 1-16 1 4 1 24 1-14 1 0 1 9 1-12 1 3 1-2 1-4 1 15 1-8 1-6 1 3 1-4 1 10 1 20 1-9 1 9 1-20 1-3 1-12 1 11 1-5 1 11 1-11 1 15 1-5 1 7 1-9 1-9 1 12 1 8 1-5 1 9 1-12 1-16 1 24 1-9 1-5 1 17 1-10 1 16 1-13 1-3 1-4 1 10 1-7 1 7 1-6 1 8 1-7 1-4 1 4 1 3 1-14 1 16 1-27 1 20 1 11 1-21 1-3 1 10 1 4 1-6 1-8 1 21 1-19 1 5 1-7 1-4 1 18 1 4 1-17 1 16 1-10 1-10 1-8 1 17 1 2 1 14 1-19 1 6 1-6 1 0 1-11 1 32 1 2 1-24 1 9 1-7 1 17 1-17 1 24 1-27 1 2 1-5 1-11 1 23 1 0 1-26 1 36 1-14 1 3 1 2 1 3 1-19 1 9 1 12 1-1 1-20 1-1 1 11 1 22 1-26 1 0 1 4 1-5 1-4 1 15 1-8 1 7 1-11 1 16 1-23 1 21 1-12 1 2 1-15 1 18 1-6 1 11 1-1 1-21 1 4 1 8 1-2 1 2 1 8 1-20 1 19 1-12 1 7 1-7 1 13 1-7 1 4 1-1 1-12 1 27 1-16 1-2 1-27 1 15 1 9 1-10 1 25 1-23 1-2 1 3 1-3 1 4 1-9 1 29 1-13 1 1 1-6 1 6 1 1 1 7 1 6 1-22 1 6 1 8 1-2 1-2 1 29 1-9 1-32 1 3 1 7 1-7 1 12 1-7 1-4 1-6 1 35 1-22 1 3 1-5 1 3 1-10 1 7 1 7 1-11 1 7 1 0 1-2 1-5 1 0 1 8 1 8 1-20 1 12 1-8 1 0 1 12 1-2 1-1 1-7 1 24 1-31 1 1 1 9 1 1 1 4 1-10 1 16 1-10 1-3 1 0 1 1 1 19 1-27 1 11 1-8 1-10 1 10 1 6 1-2 1 6 1 11 1 6 1-39 1 44 1-25 1 1 1 10 1-22 1 19 1-24 1 24 1-6 1 10 1-18 1 1 1 12 1-2 1-12 1 7 1-6 1 7 1 6 1-9 1 18 1-19 1 12 1-11 1-22 1 16 1 15 1-13 1 12 1-13 1-8 1 21 1-2 1-19 1 18 1-7 1-11 1 12 1-1 1 5 1-2 1-14 1-9 1 19 1 10 1-1 1-9 1-15 1 6 1 5 1-11 1 12 1 0 1 7 1-3 1-15 1 14 1 4 1-5 1-11 1 15 1-16 1 18 1-8 1 2 1-13 1 6 1 6 1-13 1 33 1-29 1 0 1 9 1-9 1 3 1 3 1 8 1-31 1 14 1 12 1-5 1 7 1-5 1 15 1-12 1-3 1-6 1-2 1-2 1 12 1 0 1-11 1 7 1 10 1-16 1 2 1 8 1 0 1-10 1 9 1-3 1 1 1 5 1 3 1-18 1 7 1 16 1-2 1-28 1 11 1 3 1-4 1 11 1-6 1 9 1-11 1 17 1-21 1 5 1 14 1-13 1 22 1-20 1 0 1 1 1 7 1 2 1 5 1-1 1-22 1 4 1 21 1-5 1-10 1 12 1-19 1 6 1 2 1 9 1-19 1 12 1 2 1-13 1 31 1-23 1 2 1 0 1 9 1-13 1 0 1-2 1-5 1-3 1 17 1 24 1-11 1-17 1 8 1 1 1-25 1 10 1 11 1-12 1 19 1-11 1 11 1-8 1 0 1 3 1-3 1 7 1-14 1 7 1-13 1 18 1-3 1 6 1-25 1 12 1-7 1 3 1-5 1 9 1-4 1 11 1-10 1 4 1 0 1-5 1 9 1-8 1 11 1-2 1-5 1-10 1 11 1 3 1-9 1 2 1 0 1-14 1 9 1-1 1-3 1 11 1-16 1 11 1-2 1-4 1 17 1-7 1 7 1 1 1-7 1-6 1 2 1 5 1 3 1-6 1-8 1 16 1-12 1 0 1 13 1-4 1-2 1 1 1-1 1-9 1-1 1 23 1-18 1-7 1 19 1-16 1 17 1 3 1-23 1 14 1-6 1 0 1 5 1 11 1-14 1 9 1-15 1 2 1 6 1 4 1 8 1-12 1 21 1-21 1 5 1-1 1 7 1-25 1 17 1-3 1 1 1 2 1-14 1 18 1-10 1 11 1-15 1 3 1 9 1-12 1 20 1-13 1 7 1 1 1-5 1 0 1 11 1-13 1-10 1 18 1-8 1 5 1 10 1-5 1-14 1 20 1-1 1 3 1-11 1-5 1 18 1-17 1 2 1-7 1 21 1-21 1 7 1-4 1 11 1 1 1-3 1-12 1 18 1-32 1 23 1-10 1 4 1-3 1-1 1 2 1 10 1 7 1-8 1-14 1 1 1 6 1 15 1-7 1-17 1 5 1 12 1 3 1-10 1 8 1-11 1-4 1 13 1 0 1 10 1-10 1 1 1-4 1-2 1 13 1-9 1-15 1 10 1-1 1 8 1-5 1 2 1-8 1 10 1-5 1 13 1-13 1 11 1 10 1-13 1-11 1 9 1-5 1-10 1 22 1-27 1 9 1 10 1-3 1-7 1-2 1 1 1 10 1 3 1-13 1 10 1-1 1 0 1-16 1 25 1-8 1 20 1-34 1 21 1-6 1 1 1 0 1-3 1 0 1 7 1-2 1-15 1 15 1-6 1 11 1-6 1 0 1-4 1 0 1 15 1-9 1 4 1-16 1 17 1-21 1 7 1 8 1-5 1-5 1-17 1 15 1 10 1 8 1-9 1 5 1-2 1 16 1-20 1 2 1 0 1-8 1 6 1-16 1 23 1-10 1 22 1-19 1 12 1-18 1 12 1-5 1-14 1 13 1 2 1 12 1-16 1-4 1 15 1-14 1 4 1 7 1-10 1 8 1-5 1 6 1 0 1-7 1 13 1-13 1 18 1-8 1-12 1 20 1-19 1 8 1-1 1 17 1-5 1 13 1-20 1 0 1-3 1 1 1-14 1 9 1-7 1 14 1-1 1 13 1-15 1-9 1-8 1 15 1 27 1-14 1-31 1 26 1-5 1 3 1-10 1 0 1 10 1 10 1-15 1 2 1 2 1-13 1 27 1-9 1-27 1 29 1-7 1-17 1 8 1 14 1 6 1-16 1-6 1 15 1 11 1-26 1 6 1-1 1-9 1 24 1-10 1 7 1-19 1 12 1-2 1-8 1 7 1-13 1 4 1 13 1-20 1 17 1-13 1 12 1-7 1 13 1-20 1 7 1 11 1-11 1 6 1-14 1 15 1 12 1-28 1 15 1-7 1 6 1-12 1 10 1 5 1-5 1 2 1-14 1 17 1 7 1 2 1-13 1 9 1-14 1-1 1 9 1-2 1-1 1 4 1-1 1 6 1-9 1-9 1 21 1-18 1 3 1 11 1 6 1-11 1-2 1 0 1 2 1 3 1-4 1-1 1-12 1 4 1 12 1-11 1-4 1 16 1-3 1-1 1-5 1 5 1-21 1 25 1-17 1 12 1-13 1 3 1 14 1 17 1-31 1 4 1 15 1-9 1 1 1 14 1 0 1-18 1 10 1 0 1-22 1 27 1-20 1 17 1-17 1 0 1 4 1 1 1 9 1 11 1-19 1 21 1-10 1-5 1-3 1-10 1 3 1 9 1-7 1-1 1-1 1 15 1-2 1 3 1 4 1 18 1-33 1 10 1-7 1 7 1-4 1 6 1-3 1 5 1-7 1-1 1 7 1 9 1-8 1-7 1 6 1-4 1 3 1-5 1-14 1-7 1 29 1-6 1 0 1-5 1 20 1-8 1 0 1-10 1 11 1 0 1-7 1-4 1 10 1-7 1 7 1 7 1-8 1 1 1 7 1-28 1 19 1-9 1-16 1 17 1-19 1 26 1-14 1 0 1 9 1-14 1 21 1 8 1-2 1-5 1 0 1-16 1 2 1 6 1-9 1 17 1-15 1 4 1 19 1-1 1-9 1-3 1-22 1 12 1 14 1-5 1 3 1 7 1-31 1 22 1 2 1 12 1-3 1 3 1-11 1-11 1 7 1 7 1-3 1 10 1-11 1 1 1 5 1-17 1 7 1 9 1-6 1-17 1 28 1-18 1 4 1 4 1-2 1 10 1-11 1-18 1 22 1-15 1 30 1-23 1 7 1-2 1 8 1-5 1-19 1 28 1-15 1 12 1-6 1 9 1-9 1 0 1 3 1-19 1 5 1 5 1-3 1 12 1 5 1-10 1-7 1-3 1 23 1-35 1 10 1 30 1-13 1-5 1-7 1-11 1 26 1-4 1 3 1-11 1 4 1-8 1 19 1-23 1 7 1 12 1-10 1 24 1-19 1 4 1-6 1 9 1-7 1 14 1-2 1-27 1-3 1 34 1-18 1 7 1-10 1 1 1-6 1 11 1-8 1 0 1 17 1-10 1 2 1-9 1-4 1 11 1-1 1 7 1-20 1 10 1-2 1 15 1-10 1 7 1-12 1 9 1 7 1-15 1 8 1-11 1 5 1-14 1 7 1 10 1-12 1 15 1-2 1-3 1-7 1 14 1-3 1-15 1 9 1-1 1-4 1-5 1-6 1 0 1 15 1-4 1 10 1-12 1 13 1-12 1 6 1 3 1-4 1-5 1 5 1 2 1-8 1 10 1 0 1-1 1 7 1-10 1 6 1 4 1-6 1 10 1 0 1 25 1-38 1 13 1-17 1 14 1-11 1-3 1 11 1 19 1-28 1 1 1 21 1-22 1 8 1-17 1 26 1-2 1 1 1-19 1 4 1 21 1-20 1-6 1-7 1 28 1-17 1 20 1-30 1 16 1-6 1 11 1-14 1 5 1-11 1 7 1 20 1 5 1-20 1 0 1 6 1-8 1 6 1-13 1 4 1 7 1 7 1-10 1 2 1-1 1-16 1 18 1-7 1 20 1-15 1-11 1 16 1-6 1 9 1-5 1 7 1-4 1-14 1 19 1 15 1-11 1-22 1 1 1 10 1-14 1 12 1 10 1 4 1-2 1-9 1-3 1-4 1-5 1 6 1-1 1 15 1-15 1-17 1 7 1 15 1 2 1-12 1 4 1 13 1 2 1-3 1-5 1-3 1 5 1-4 1-2 1 0 1 16 1 6 1-19 1 0 1-6 1 11 1 1 1 0 1 8 1-17 1 1 1 4 1-11 1 17 1 7 1-18 1-10 1 17 1-17 1 9 1-11 1 15 1-1 1-8 1 9 1-3 1 6 1-4 1-1 1 5 1-9 1 14 1 0 1-4 1 10 1-20 1-17 1 15 1-9 1 19 1 12 1-2 1-2 1 5 1 8 1-24 1-6 1 6 1-3 1 6 1-2 1 14 1-3 1 2 1-17 1 21 1 9 1-7 1-17 1 4 1-2 1-5 1 4 1 1 1-15 1-15 1 34 1-24 1 15 1 9 1-5 1 1 1-1 1 11 1-16 1 30 1-4 1-9 1-14 1 7 1-2 1 12 1-4 1 12 1-30 1 16 1-6 1 0 1 1 1-5 1 5 1-6 1-5 1-11 1 18 1-7 1 23 1-18 1 2 1 9 1-13 1-2 1 0 1 14 1 6 1-19 1-15 1 24 1-23 1 22 1-27 1 22 1-19 1 12 1 36 1-32 1 4 1-10 1 8 1-17 1 3 1 24 1 3 1-16 1 33 1-18 1-7 1-33 1 43 1-24 1 18 1 2 1-6 1-7 1 6 1 3 1 5 1 1 1-14 1 5 1-11 1-8 1 23 1-20 1 2 1 1 1 6 1 13 1-9 1 13 1-25 1 34 1-41 1 10 1-2 1-11 1 21 1-7 1 14 1-23 1 34 1-25 1 28 1 11 1-25 1-11 1 7 1 2 1-19 1 8 1 21 1-3 1-4 1-10 1 13 1 0 1 14 1-15 1-12 1 2 1 11 1-9 1-3 1 10 1-14 1-16 1 28 1-14 1 12 1-15 1 29 1-17 1-1 1 11 1 6 1-34 1 12 1 10 1-5 1-3 1-14 1 43 1-21 1-1 1 1 1 7 1-2 1-11 1 0 1 0 1 9 1-5" fill="none" stroke="#f08a8b" stroke-width="4.0" stroke-linejoin="round" stroke-linecap="round" vector-effect="non-scaling-stroke"/>
<polyline points="1163.4,710.1 1164.5,710.6 1165.6,711.2 1166.6,711.7 1167.7,712.2 1168.8,712.5 1169.9,712.8 1170.9,713.1 1172.0,713.3 1173.1,713.4 1174.2,713.5 1175.2,713.6 1176.3,713.6 1177.4,713.6 1178.5,713.6 1179.6,713.6 1180.6,713.5 1181.7,713.2 1182.8,712.8 1183.9,712.2 1184.9,711.5 1186.0,710.8 1187.1,709.9 1188.2,709.1 1189.2,708.2 1190.3,707.3 1191.4,706.4 1192.5,705.5 1193.6,704.6 1194.6,703.5 1195.7,702.3 1196.8,701.1 1197.9,699.8 1198.9,698.6 1200.0,697.5 1201.1,696.5 1202.2,695.8 1203.2,695.4 1204.3,695.3 1205.4,695.3 1206.5,695.4 1207.5,695.6 1208.6,695.8 1209.7,696.1 1210.8,696.4 1211.9,696.7 1212.9,697.0 1214.0,697.5 1215.1,698.3 1216.2,699.5 1217.2,700.9 1218.3,702.5 1219.4,704.3 1220.5,706.2 1221.5,708.1 1222.6,710.1 1223.7,711.9 1224.8,713.7 1225.9,715.2 1226.9,716.5 1228.0,717.5 1229.1,718.2 1230.2,718.5 1231.2,718.5 1232.3,718.5 1233.4,718.5 1234.5,718.4 1235.5,718.3 1236.6,718.3 1237.7,718.2 1238.8,718.1 1239.9,718.0 1240.9,717.8 1242.0,717.7 1243.1,717.4 1244.2,717.1 1245.2,716.7 1246.3,716.2 1247.4,715.6 1248.5,715.0 1249.5,714.5 1250.6,713.9 1251.7,713.4 1252.8,713.0 1253.9,712.6 1254.9,712.3 1256.0,712.2 1257.1,712.2 1258.2,712.4 1259.2,712.8 1260.3,713.2 1261.4,713.8 1262.5,714.5 1263.5,715.1 1264.6,715.8 1265.7,716.6 1266.8,717.3 1267.8,718.3 1268.9,719.3 1270.0,720.6 1271.1,721.9 1272.2,723.2 1273.2,724.6 1274.3,726.0 1275.4,727.3 1276.5,728.6 1277.5,729.8 1278.6,730.8 1279.7,731.6 1280.8,732.2 1281.8,732.6 1282.9,732.7 1284.0,732.7 1285.1,732.4 1286.2,732.0 1287.2,731.6 1288.3,731.0 1289.4,730.3 1290.5,729.6 1291.5,728.9 1292.6,728.2 1293.7,727.5 1294.8,726.7 1295.8,726.1 1296.9,725.5 1298.0,725.0 1299.1,724.6 1300.2,724.3 1301.2,724.2 1302.3,724.4 1303.4,725.0 1304.5,725.9 1305.5,727.1 1306.6,728.5 1307.7,729.9 1308.8,731.3 1309.8,732.8 1310.9,734.6 1312.0,736.6 1313.1,738.8 1314.2,741.1 1315.2,743.5 1316.3,745.9 1317.4,748.3 1318.5,750.4 1319.5,752.4 1320.6,754.1 1321.7,755.4 1322.8,756.3 1323.8,756.7 1324.9,756.6 1326.0,756.2 1327.1,755.4 1328.2,754.5 1329.2,753.3 1330.3,752.1 1331.4,750.8 1332.5,749.5 1333.5,748.4 1334.6,747.3 1335.7,746.5 1336.8,745.6 1337.8,744.8 1338.9,743.9 1340.0,743.1 1341.1,742.3 1342.1,741.5 1343.2,740.9 1344.3,740.5 1345.4,740.1 1346.5,740.0 1347.5,740.3 1348.6,741.1 1349.7,742.4 1350.8,744.1 1351.8,746.0 1352.9,748.2 1354.0,750.4 1355.1,752.7 1356.1,754.8 1357.2,756.8 1358.3,758.7 1359.4,760.6 1360.5,762.6 1361.5,764.7 1362.6,766.8 1363.7,768.9 1364.8,770.7 1365.8,772.3 1366.9,773.6 1368.0,774.4 1369.1,774.7 1370.1,774.7 1371.2,774.3 1372.3,773.8 1373.4,773.1 1374.5,772.3 1375.5,771.4 1376.6,770.4 1377.7,769.5 1378.8,768.6 1379.8,767.8 1380.9,767.0 1382.0,766.1 1383.1,765.2 1384.1,764.3 1385.2,763.6 1386.3,763.0 1387.4,762.6 1388.5,762.7 1389.5,763.2 1390.6,764.1 1391.7,765.5 1392.8,767.2 1393.8,769.1 1394.9,771.3 1396.0,773.6 1397.1,776.0 1398.1,778.5 1399.2,780.9 1400.3,783.1 1401.4,785.3 1402.4,787.2 1403.5,788.9 1404.6,790.7 1405.7,792.6 1406.8,794.6 1407.8,796.5 1408.9,798.4 1410.0,800.2 1411.1,801.9 1412.1,803.3 1413.2,804.5 1414.3,805.3 1415.4,805.8 1416.4,805.9 1417.5,805.6 1418.6,804.9 1419.7,803.9 1420.8,802.7 1421.8,801.3 1422.9,799.9 1424.0,798.3 1425.1,796.9 1426.1,795.5 1427.2,794.2 1428.3,793.2 1429.4,792.4 1430.4,792.0 1431.5,791.9 1432.6,792.2 1433.7,792.8 1434.8,793.6 1435.8,794.5 1436.9,795.6 1438.0,796.8 1439.1,798.0 1440.1,799.7 1441.2,801.7 1442.3,804.1 1443.4,806.7 1444.4,809.2 1445.5,811.6 1446.6,813.8 1447.7,815.5 1448.8,816.6 1449.8,817.1 1450.9,816.9 1452.0,816.2 1453.1,815.1 1454.1,813.5 1455.2,811.7 1456.3,809.7 1457.4,807.5 1458.4,805.1 1459.5,802.8 1460.6,800.4 1461.7,798.2 1462.8,796.0 1463.8,793.8 1464.9,791.3 1466.0,788.6 1467.1,785.7 1468.1,783.0 1469.2,780.6 1470.3,778.7 1471.4,777.4 1472.4,776.9 1473.5,776.8 1474.6,776.8 1475.7,776.9 1476.7,777.1 1477.8,777.2 1478.9,777.4 1480.0,777.5 1481.1,777.7 1482.1,777.9 1483.2,778.1 1484.3,778.2 1485.4,778.4 1486.4,778.5 1487.5,778.5 1488.6,778.6 1489.7,778.5 1490.7,778.2 1491.8,777.7 1492.9,776.8 1494.0,775.8 1495.1,774.6 1496.1,773.3 1497.2,771.8 1498.3,770.4 1499.4,768.9 1500.4,767.5 1501.5,765.9 1502.6,764.1 1503.7,762.1 1504.7,759.8 1505.8,757.3 1506.9,754.8 1508.0,752.2 1509.1,749.6 1510.1,747.2 1511.2,744.9 1512.3,742.8 1513.4,740.9 1514.4,739.4 1515.5,738.3 1516.6,737.6 1517.7,737.5 1518.7,737.8 1519.8,738.6 1520.9,739.8 1522.0,741.2 1523.1,742.9 1524.1,744.7 1525.2,746.6 1526.3,748.5 1527.4,750.2 1528.4,751.8 1529.5,753.1 1530.6,754.1 1531.7,755.0 1532.7,755.7 1533.8,756.5 1534.9,757.2 1536.0,757.8 1537.0,758.4 1538.1,758.9 1539.2,759.3 1540.3,759.6 1541.4,759.8 1542.4,759.6 1543.5,759.1 1544.6,758.1 1545.7,756.8 1546.7,755.1 1547.8,753.2 1548.9,751.1 1550.0,749.0 1551.0,746.9 1552.1,744.8 1553.2,742.8 1554.3,740.7 1555.4,738.3 1556.4,735.6 1557.5,732.8 1558.6,730.0 1559.7,727.2 1560.7,724.5 1561.8,722.1 1562.9,720.0 1564.0,718.4 1565.0,717.3 1566.1,716.8 1567.2,716.8 1568.3,717.2 1569.4,717.7 1570.4,718.4 1571.5,719.1 1572.6,720.0 1573.7,720.8 1574.7,721.6 1575.8,722.4 1576.9,723.2 1578.0,724.0 1579.0,724.9 1580.1,725.9 1581.2,726.8 1582.3,727.7 1583.4,728.4 1584.4,729.1 1585.5,729.5 1586.6,729.7 1587.7,729.7 1588.7,729.5 1589.8,729.2 1590.9,728.7 1592.0,728.2 1593.0,727.6 1594.1,726.9 1595.2,726.2 1596.3,725.4 1597.4,724.7 1598.4,724.0 1599.5,723.1 1600.6,722.1 1601.7,721.0 1602.7,719.8 1603.8,718.6 1604.9,717.5 1606.0,716.5 1607.0,715.7 1608.1,715.2 1609.2,714.9 1610.3,714.9 1611.3,715.1 1612.4,715.4 1613.5,715.9 1614.6,716.4 1615.7,716.9 1616.7,717.4 1617.8,717.9 1618.9,718.2 1620.0,718.4 1621.0,718.5 1622.1,718.4 1623.2,718.3 1624.3,718.1 1625.3,717.8 1626.4,717.6 1627.5,717.3 1628.6,717.1 1629.7,716.9 1630.7,716.7 1631.8,716.7 1632.9,716.7 1634.0,716.7 1635.0,716.7 1636.1,716.7 1637.2,716.7 1638.3,716.7 1639.3,716.7 1640.4,716.7 1641.5,716.7 1642.6,716.6 1643.7,716.5 1644.7,716.2 1645.8,715.5 1646.9,714.6 1648.0,713.4 1649.0,712.1 1650.1,710.7 1651.2,709.2 1652.3,707.9 1653.3,706.6 1654.4,705.5 1655.5,704.5 1656.6,703.5 1657.7,702.4 1658.7,701.3 1659.8,700.2 1660.9,699.1 1662.0,698.1 1663.0,697.3 1664.1,696.5 1665.2,695.9 1666.3,695.5 1667.3,695.4 1668.4,695.5 1669.5,696.1 1670.6,697.1 1671.6,698.3 1672.7,699.8 1673.8,701.3 1674.9,702.8 1676.0,704.1 1677.0,705.3 1678.1,706.4 1679.2,707.5 1680.3,708.7 1681.3,709.8 1682.4,710.8 1683.5,711.7 1684.6,712.3 1685.6,712.7 1686.7,712.7 1687.8,712.2 1688.9,711.2 1690.0,709.7 1691.0,707.9 1692.1,705.8 1693.2,703.5 1694.3,701.2 1695.3,698.9 1696.4,696.7 1697.5,694.2 1698.6,691.6 1699.6,688.8 1700.7,686.0 1701.8,683.8" fill="none" stroke="#e01a1e" stroke-width="4.6" stroke-linejoin="round"/></g>
<rect x="1395.5" y="875.5" width="74.3" height="17" fill="#ff0099"/>
<line x1="1298" y1="576.1" x2="1298" y2="589.1" stroke="#000" stroke-width="2"/>
<line x1="1298" y1="892.5" x2="1298" y2="879.5" stroke="#000" stroke-width="2"/>
<line x1="1432.6" y1="576.1" x2="1432.6" y2="589.1" stroke="#000" stroke-width="2"/>
<line x1="1432.6" y1="892.5" x2="1432.6" y2="879.5" stroke="#000" stroke-width="2"/>
<line x1="1567.2" y1="576.1" x2="1567.2" y2="589.1" stroke="#000" stroke-width="2"/>
<line x1="1567.2" y1="892.5" x2="1567.2" y2="879.5" stroke="#000" stroke-width="2"/>
<line x1="1163.4" y1="847.3" x2="1176.4" y2="847.3" stroke="#000" stroke-width="2"/>
<line x1="1701.8" y1="847.3" x2="1688.8" y2="847.3" stroke="#000" stroke-width="2"/>
<line x1="1163.4" y1="756.9" x2="1176.4" y2="756.9" stroke="#000" stroke-width="2"/>
<line x1="1701.8" y1="756.9" x2="1688.8" y2="756.9" stroke="#000" stroke-width="2"/>
<line x1="1163.4" y1="666.5" x2="1176.4" y2="666.5" stroke="#000" stroke-width="2"/>
<line x1="1701.8" y1="666.5" x2="1688.8" y2="666.5" stroke="#000" stroke-width="2"/>
<rect x="1163.4" y="576.1" width="538.4" height="316.4" fill="none" stroke="#000" stroke-width="3"/>
<clipPath id="clip_c2"><rect x="1163.4" y="993.3" width="538.4" height="316.4"/></clipPath>
<line x1="1432.6" y1="1007.3" x2="1432.6" y2="1309.7" stroke="#8c8c8c" stroke-width="2.4"/>
<text transform="translate(1186 1030) scale(1 1.04)" font-size="30.4"><tspan font-style="italic">n</tspan> = 73,511</text>
<g clip-path="url(#clip_c2)">
<path id="nz_c2" transform="translate(1163.4 1388.80) scale(0.26920 -5.38015)" d="M0 47 l1 5 1-11 1 12 1-12 1-2 1 6 1-7 1 10 1-3 1 3 1-2 1 4 1-7 1 11 1-13 1 5 1 3 1-15 1 12 1-3 1-12 1 12 1 11 1-5 1 1 1-5 1 0 1 24 1-19 1 7 1-20 1 11 1 0 1 9 1-9 1-3 1 1 1-3 1 2 1 12 1-8 1-5 1 11 1-10 1 9 1-1 1-14 1 0 1 24 1-19 1 21 1-18 1 5 1-6 1-1 1-12 1 14 1-6 1 10 1-7 1-5 1 1 1 16 1-7 1 0 1-3 1 4 1-17 1 21 1-2 1 8 1-2 1 2 1-36 1 17 1-2 1 0 1 23 1-6 1-6 1-1 1 8 1-13 1-7 1 19 1-18 1 21 1-9 1 0 1 2 1-7 1-6 1 13 1-2 1-4 1 2 1-11 1 2 1 18 1-11 1-5 1 4 1-9 1 15 1-15 1 3 1 0 1 22 1-16 1 7 1-4 1-1 1-10 1 16 1-18 1 21 1-13 1-4 1 18 1 0 1-4 1 3 1 0 1-9 1 4 1 0 1-4 1 16 1-23 1 15 1 8 1-24 1 13 1 5 1 6 1-6 1-7 1-4 1 9 1-11 1-1 1-3 1 20 1-18 1 2 1 2 1 7 1-5 1 13 1-21 1 3 1 7 1-19 1 22 1-9 1 17 1-2 1-4 1-1 1-8 1 11 1 7 1-17 1-6 1 11 1-6 1 9 1 13 1-20 1 11 1-5 1-3 1-2 1 6 1 0 1-4 1 13 1-15 1 2 1 1 1-10 1 0 1 14 1-5 1-2 1 9 1-5 1-2 1 5 1-7 1 1 1 8 1-10 1 11 1-8 1 2 1-5 1-3 1 1 1 0 1 19 1-19 1 14 1-7 1 6 1-10 1-2 1 10 1-2 1-9 1-5 1 12 1-20 1 23 1-14 1 3 1-3 1 6 1-5 1-2 1 5 1 6 1-14 1 16 1 6 1-10 1 2 1-11 1 6 1-1 1-9 1 1 1 29 1-29 1 8 1 0 1-6 1-2 1 6 1 10 1 5 1-10 1 0 1 4 1-18 1 13 1 1 1 14 1-21 1 8 1 5 1-13 1-6 1 5 1 18 1-2 1-2 1-16 1 14 1-15 1 22 1-11 1 4 1-7 1 0 1-13 1 19 1-10 1 2 1-3 1 7 1-5 1 7 1 0 1 0 1-5 1 0 1-3 1-3 1-2 1 8 1-4 1 5 1-10 1 9 1-13 1 11 1-10 1 21 1-9 1-3 1 2 1-10 1 30 1-15 1-1 1 0 1-1 1 1 1-10 1 17 1-7 1-3 1-1 1 7 1-15 1 24 1-18 1-14 1 11 1 21 1-21 1 9 1-2 1 8 1 1 1-1 1 3 1-11 1 2 1-10 1-8 1 7 1 8 1-2 1 1 1-3 1 13 1-10 1-3 1 5 1 16 1-10 1 0 1 8 1-24 1 26 1-2 1-26 1 13 1 7 1 2 1-9 1 16 1-1 1-17 1 2 1-2 1-7 1 16 1-3 1-11 1 1 1 13 1-11 1-4 1 12 1-8 1 5 1-4 1 5 1 2 1 19 1-30 1 24 1-17 1 4 1-8 1-10 1 10 1 2 1 6 1 6 1-23 1 15 1-6 1-9 1 16 1-2 1-7 1 22 1-14 1-17 1 18 1 3 1-16 1 2 1 4 1 2 1-1 1 5 1-8 1 18 1-26 1-3 1 15 1-10 1 8 1 4 1-1 1 6 1-4 1-3 1-2 1-14 1 13 1-2 1-4 1 27 1-20 1-4 1 0 1 1 1 16 1-5 1-10 1-11 1 16 1 5 1 15 1-20 1-10 1 3 1-5 1 22 1-22 1 11 1-3 1 5 1-5 1 13 1-7 1 6 1-10 1 3 1 15 1-27 1-3 1 14 1-13 1 19 1-17 1 12 1 7 1-10 1 1 1 4 1-6 1 8 1-4 1-2 1-1 1-3 1 2 1 17 1-28 1-3 1 8 1 4 1 1 1 22 1-9 1-14 1 0 1-8 1 19 1-16 1 5 1-10 1 21 1 4 1 0 1 0 1-6 1-9 1 7 1 12 1-22 1 16 1-8 1 3 1-15 1 23 1-26 1 13 1-1 1 6 1 2 1 3 1 13 1-25 1 7 1-15 1 23 1-20 1 9 1 1 1-2 1 14 1-21 1-3 1 24 1-17 1 1 1-9 1 0 1 9 1-2 1 4 1 9 1-10 1 8 1-4 1 15 1-19 1-5 1 19 1-7 1-23 1 19 1 0 1 3 1-21 1 29 1-11 1 14 1-16 1 8 1-20 1 37 1-17 1-8 1 5 1 1 1-7 1 2 1-7 1 6 1 9 1-12 1 15 1-11 1 3 1-1 1-6 1-3 1 10 1 4 1-12 1-9 1 14 1-3 1 6 1 0 1-17 1 23 1-4 1-3 1-8 1 4 1 2 1-5 1-1 1 3 1-7 1-6 1 24 1-22 1 1 1 9 1-3 1 1 1-7 1 8 1 9 1-18 1 12 1 0 1-5 1 15 1-15 1 6 1 3 1-4 1-4 1-1 1-6 1 7 1 7 1-4 1 5 1-3 1 3 1-5 1-6 1-6 1 6 1 11 1-15 1-5 1 27 1-15 1-2 1 2 1-4 1 12 1-10 1-9 1 8 1 15 1-21 1 0 1 23 1-22 1 11 1-9 1 6 1-1 1-12 1 7 1-1 1 16 1-12 1 3 1-1 1-10 1 12 1 3 1-13 1 7 1 7 1-7 1 16 1-15 1 5 1-5 1 12 1-12 1 6 1-5 1 6 1-4 1 1 1-7 1-1 1 6 1-1 1 11 1-9 1 2 1 8 1-12 1 14 1-7 1-4 1 0 1 0 1 7 1-15 1 7 1 6 1-6 1 11 1-21 1 9 1 14 1-8 1-9 1 13 1-15 1 6 1-12 1 14 1-2 1 0 1 2 1 8 1-8 1 8 1-3 1-1 1-10 1 4 1 5 1 4 1-4 1-23 1 15 1-4 1 5 1 4 1-7 1 11 1-3 1-3 1 1 1-5 1 11 1-14 1 8 1 13 1-15 1-7 1 15 1-4 1-10 1 11 1-5 1-6 1 5 1-7 1 1 1-1 1 1 1 15 1-19 1 11 1 6 1-7 1-1 1-7 1 2 1 13 1-14 1 3 1 1 1 11 1-10 1-12 1 16 1-7 1 2 1-9 1 0 1 21 1-17 1 5 1 19 1-21 1 7 1 4 1-11 1 15 1-15 1 16 1-10 1-2 1 10 1-19 1 1 1 28 1-26 1-6 1 18 1-6 1 2 1-6 1-2 1 2 1 2 1-3 1 17 1-7 1-2 1-9 1-2 1 5 1 8 1 7 1-17 1 14 1-14 1 11 1-8 1-1 1 4 1-2 1 0 1 0 1 7 1-3 1-3 1 7 1 3 1-13 1-1 1-3 1-4 1 9 1-3 1 11 1-5 1 0 1-6 1 8 1 15 1-23 1 12 1 5 1-11 1 11 1-10 1 0 1 9 1-11 1-4 1 12 1-11 1 12 1-1 1-11 1 7 1 7 1-4 1-8 1 13 1 1 1-20 1 4 1 4 1 5 1-13 1 18 1-12 1-5 1 1 1 4 1 2 1 11 1 0 1-3 1-5 1 5 1 1 1-15 1 8 1 5 1-13 1-3 1 3 1 21 1-13 1 2 1-7 1-4 1 10 1-5 1 4 1 6 1-5 1-1 1-14 1 12 1 6 1-10 1-3 1 5 1-1 1-5 1 16 1-2 1-2 1-9 1-3 1-3 1-1 1 17 1-3 1-2 1 2 1-8 1-6 1 13 1-5 1-5 1 8 1 3 1-1 1-1 1-12 1 16 1-2 1-14 1 13 1-1 1-16 1 21 1 0 1-7 1 3 1-4 1 3 1-11 1 11 1-5 1 1 1 0 1-2 1 4 1-5 1 6 1-2 1 3 1-5 1 4 1-7 1 13 1-2 1-4 1-13 1 10 1 3 1-7 1-8 1 8 1-1 1 14 1-2 1-5 1-3 1-3 1 12 1-5 1-12 1 8 1-6 1 2 1 5 1-6 1-4 1 7 1 0 1 10 1-14 1 8 1-6 1-1 1 10 1-4 1 1 1 1 1-3 1-11 1 1 1 14 1-7 1 10 1-10 1 6 1 0 1 1 1-16 1 18 1-11 1 6 1 4 1 2 1-7 1 7 1-3 1 5 1 5 1-9 1-6 1-13 1 5 1 4 1 3 1 16 1-10 1 5 1-19 1 4 1 19 1-13 1 7 1 3 1-12 1-4 1-4 1 17 1-1 1 5 1 0 1 4 1-29 1 15 1-5 1 14 1 0 1-15 1-4 1 11 1-2 1 8 1-11 1 6 1-3 1 2 1 1 1 5 1-12 1 10 1-2 1-2 1 11 1 0 1-13 1 1 1 1 1 3 1-6 1 0 1-6 1 3 1 10 1-4 1 2 1 6 1 1 1-5 1-4 1-6 1 8 1 7 1 3 1-4 1-7 1-9 1 12 1 7 1-15 1 10 1-6 1 2 1 5 1-3 1 8 1-1 1-10 1-5 1-2 1 5 1-2 1 4 1-1 1 0 1-4 1 16 1-6 1-1 1 3 1-12 1-5 1 2 1 11 1-2 1-14 1 22 1-3 1-8 1 1 1-1 1-2 1 7 1-19 1 12 1-2 1 16 1-13 1 5 1-8 1 9 1-6 1-9 1 12 1-12 1 3 1 4 1 11 1-12 1 2 1-1 1-4 1 2 1 1 1-8 1 13 1-4 1 3 1-14 1 26 1 0 1-15 1 14 1-17 1 5 1 9 1-24 1 17 1-2 1 3 1-6 1 3 1-3 1 2 1 1 1 0 1-2 1 3 1-3 1-1 1 6 1 0 1-4 1 1 1 8 1-14 1 9 1-4 1-7 1-2 1 2 1 6 1-8 1 15 1 1 1-1 1 2 1-11 1-1 1 3 1 13 1-9 1 8 1-8 1 4 1-2 1 7 1-8 1-13 1 11 1 14 1-4 1-11 1-3 1 30 1-38 1 27 1-9 1-11 1 11 1 5 1-15 1 9 1-6 1 3 1 1 1 2 1-3 1 0 1-7 1 17 1-8 1 3 1-9 1 4 1-12 1 14 1-12 1 12 1-3 1 8 1-15 1 24 1-16 1-2 1-2 1-6 1 9 1-2 1 1 1 9 1-8 1-9 1-1 1 2 1 8 1 7 1-5 1 0 1-12 1 17 1-5 1-8 1-6 1 6 1 3 1 10 1-21 1 16 1-8 1 6 1 1 1-5 1-10 1 7 1 14 1 2 1-13 1-8 1 12 1 8 1-23 1 18 1-6 1-8 1 14 1 0 1-12 1-6 1 13 1-5 1 17 1-9 1 0 1-4 1-10 1 17 1-2 1-4 1 2 1-3 1 6 1 1 1-1 1-11 1 5 1 3 1 3 1 4 1-17 1-1 1 3 1 11 1-21 1 15 1 1 1 3 1 3 1-7 1 4 1-2 1 13 1 0 1-10 1-14 1 8 1 3 1 5 1-11 1 18 1 6 1-18 1 1 1 0 1-3 1 4 1 0 1 8 1-9 1-1 1 8 1-7 1 3 1 0 1-2 1-3 1 20 1-17 1 3 1-11 1 17 1-7 1-3 1 12 1-8 1 11 1-12 1-2 1-3 1 6 1 3 1-6 1-7 1 9 1 6 1 1 1-4 1-5 1 15 1-21 1 12 1-4 1 11 1 4 1-18 1 7 1 1 1 1 1 1 1-6 1 5 1-3 1-5 1 16 1-12 1-1 1 15 1-18 1 2 1 15 1-2 1-15 1 15 1-16 1-2 1 10 1-16 1 5 1 8 1 10 1-10 1-2 1 12 1 2 1-6 1-10 1 18 1-1 1-4 1-1 1-3 1-12 1 17 1-7 1 1 1 2 1-4 1-4 1-3 1 25 1-16 1 0 1-12 1 9 1 6 1 8 1-6 1-22 1 16 1-4 1-7 1 2 1 15 1-2 1-8 1 9 1 3 1-15 1 3 1-2 1 6 1-5 1 6 1-11 1 2 1 6 1 6 1-17 1 9 1-3 1 11 1-10 1 12 1-17 1 5 1 1 1-3 1 1 1 11 1-4 1 0 1-14 1 24 1-12 1-11 1 16 1-18 1 13 1 9 1-19 1 1 1 3 1 13 1-6 1-15 1 22 1-11 1 5 1-7 1 0 1 9 1-9 1 2 1 10 1-9 1-12 1 12 1 9 1-1 1-8 1 3 1-10 1 14 1-20 1 16 1 2 1 2 1-8 1 5 1 0 1-3 1-2 1 13 1-7 1 10 1-11 1-5 1 0 1 14 1-8 1-12 1 8 1 7 1-5 1-4 1 4 1-7 1-1 1 9 1-6 1-5 1 16 1-6 1-11 1 6 1 2 1 1 1 12 1-12 1 0 1 11 1 14 1-19 1-10 1 22 1-3 1-15 1 13 1-16 1-2 1 10 1-12 1 9 1-2 1 11 1-11 1-2 1-6 1 11 1 10 1-10 1 10 1-13 1 12 1-14 1 9 1 8 1-11 1 5 1 0 1-10 1 8 1-12 1 8 1-10 1 19 1-11 1 5 1-3 1 0 1 12 1-18 1 10 1-1 1-3 1-3 1 6 1 0 1 9 1-11 1 5 1 16 1-31 1 19 1-6 1-15 1 8 1-6 1 0 1 12 1 0 1 17 1-22 1 5 1-3 1 0 1-1 1-3 1 5 1 4 1-1 1 11 1-7 1-10 1 13 1-11 1-12 1 2 1 7 1 2 1 1 1-11 1 28 1-2 1-13 1-14 1 10 1-3 1 1 1-1 1 4 1-1 1-1 1 6 1-7 1 2 1-11 1 11 1 5 1 0 1-5 1 2 1-6 1 5 1-2 1 19 1-24 1 5 1 2 1 11 1-3 1 2 1-15 1-10 1 7 1 6 1-5 1 5 1 1 1 6 1-8 1-1 1 1 1 3 1 10 1-21 1 5 1 6 1-9 1 8 1 1 1-3 1 3 1 9 1-15 1 8 1 2 1-10 1 11 1-13 1 2 1-2 1 10 1-11 1 7 1-3 1-2 1 0 1 9 1 8 1-8 1 9 1-23 1 5 1-3 1 16 1-2 1-7 1-8 1 1 1 13 1 1 1 1 1-7 1 4 1-15 1-2 1 8 1 13 1 7 1-9 1-4 1-2 1-4 1 11 1-9 1 10 1 8 1-15 1-3 1 23 1-18 1-10 1 17 1-9 1 11 1-14 1 16 1-7 1 6 1 9 1-28 1 14 1-5 1-3 1-3 1 3 1-3 1 13 1-3 1-4 1 11 1-7 1-4 1 0 1 7 1 1 1-14 1 7 1-5 1 17 1-21 1 18 1-6 1 1 1 8 1-18 1 4 1 11 1-5 1-12 1 22 1-13 1 2 1-9 1 9 1 10 1-22 1 10 1-1 1-2 1-4 1 6 1 9 1-15 1 0 1-3 1 12 1 3 1-7 1-3 1 11 1-6 1-5 1 17 1-22 1 9 1-4 1 12 1-12 1-4 1 9 1 6 1-6 1-2 1 2 1 3 1-13 1 3 1 10 1-1 1-3 1 13 1-17 1-4 1 8 1-14 1 16 1-6 1 8 1 7 1-15 1-2 1-2 1 1 1 10 1-21 1 10 1 1 1-1 1 18 1-10 1-14 1 23 1-5 1 5 1-10 1 8 1-10 1 5 1-1 1 5 1-7 1-1 1 17 1 2 1-30 1 8 1 3 1 4 1-13 1 11 1 10 1-10 1-1 1-2 1 14 1 5 1-16 1-2 1-8 1 6 1 13 1-7 1-2 1 1 1-5 1 2 1-4 1-4 1 8 1 14 1-3 1-10 1 13 1-7 1 0 1-5 1-8 1 18 1-10 1-8 1 8 1 11 1-13 1 7 1 0 1-8 1 15 1 2 1-25 1 20 1 2 1-1 1-13 1 11 1-3 1-16 1 23 1-9 1-3 1-3 1 2 1-11 1 21 1-18 1 3 1 15 1-10 1-7 1 19 1-10 1 13 1-8 1 0 1 5 1-13 1-6 1 0 1-7 1 26 1-12 1 6 1 0 1 0 1-16 1 16 1-10 1 7 1-5 1-15 1 25 1 8 1-17 1 24 1-17 1-5 1-9 1 5 1 22 1-12 1-9 1 5 1 0 1 13 1 9 1-24 1 0 1-4 1 4 1 3 1-17 1 37 1-33 1 10 1 6 1-10 1 7 1-13 1 15 1-5 1-4 1-6 1 17 1-1 1 9 1-13 1-8 1 6 1 17 1-13 1 0 1-10 1 14 1 6 1-15 1-2 1 4 1-5 1 11 1-8 1 18 1-12 1-5 1-2 1-7 1 9 1 3 1-4 1 7 1-4 1 14 1-28 1 13 1 8 1 2 1-5 1-3 1-3 1 4 1 2 1-3 1 1 1 8 1-4 1-4 1 7 1-10 1-3 1-1 1 20 1-7 1 2 1-18 1-5 1 16 1 5 1-20 1 4 1 6 1 4 1-8 1 7 1-6 1 10 1-11 1 0 1-11 1 13 1-5 1 6 1-3 1 3 1 8 1 3 1-13 1 4 1-6 1 5 1-7 1 24 1-12 1-6 1-6 1 7 1-5 1 8 1-3 1 9 1-11 1-11 1 12 1-1 1-4 1 3 1 3 1 2 1-14 1 37 1-26 1 1 1-1 1-9 1 2 1 2 1 17 1-19 1 4 1 22 1-7 1-7 1-5 1 16 1-8 1-9 1 8 1 3 1-8 1 16 1-12 1 8 1-8 1 5 1-2 1 11 1-25 1 12 1-9" fill="none" stroke="#f08a8b" stroke-width="4.0" stroke-linejoin="round" stroke-linecap="round" vector-effect="non-scaling-stroke"/>
<polyline points="1163.4,1146.8 1164.5,1145.5 1165.6,1144.0 1166.6,1142.4 1167.7,1141.0 1168.8,1139.8 1169.9,1138.7 1170.9,1137.9 1172.0,1137.2 1173.1,1136.8 1174.2,1136.4 1175.2,1136.2 1176.3,1135.9 1177.4,1135.7 1178.5,1135.5 1179.6,1135.2 1180.6,1134.8 1181.7,1134.4 1182.8,1133.7 1183.9,1132.9 1184.9,1131.9 1186.0,1130.9 1187.1,1129.7 1188.2,1128.5 1189.2,1127.4 1190.3,1126.2 1191.4,1125.2 1192.5,1124.2 1193.6,1123.3 1194.6,1122.4 1195.7,1121.4 1196.8,1120.5 1197.9,1119.6 1198.9,1118.7 1200.0,1118.0 1201.1,1117.4 1202.2,1116.9 1203.2,1116.6 1204.3,1116.6 1205.4,1116.7 1206.5,1117.0 1207.5,1117.4 1208.6,1117.9 1209.7,1118.5 1210.8,1119.2 1211.9,1119.9 1212.9,1120.6 1214.0,1121.4 1215.1,1122.1 1216.2,1123.0 1217.2,1124.1 1218.3,1125.4 1219.4,1126.8 1220.5,1128.4 1221.5,1130.1 1222.6,1131.8 1223.7,1133.6 1224.8,1135.4 1225.9,1137.1 1226.9,1138.7 1228.0,1140.2 1229.1,1141.5 1230.2,1142.7 1231.2,1143.6 1232.3,1144.2 1233.4,1144.6 1234.5,1144.6 1235.5,1144.4 1236.6,1143.9 1237.7,1143.3 1238.8,1142.6 1239.9,1141.7 1240.9,1140.8 1242.0,1139.8 1243.1,1138.9 1244.2,1138.0 1245.2,1137.2 1246.3,1136.3 1247.4,1135.3 1248.5,1134.2 1249.5,1133.2 1250.6,1132.4 1251.7,1131.9 1252.8,1131.7 1253.9,1131.8 1254.9,1132.1 1256.0,1132.7 1257.1,1133.4 1258.2,1134.3 1259.2,1135.2 1260.3,1136.3 1261.4,1137.3 1262.5,1138.4 1263.5,1139.4 1264.6,1140.5 1265.7,1141.7 1266.8,1143.1 1267.8,1144.7 1268.9,1146.3 1270.0,1147.9 1271.1,1149.5 1272.2,1151.0 1273.2,1152.3 1274.3,1153.4 1275.4,1154.2 1276.5,1154.6 1277.5,1154.7 1278.6,1154.5 1279.7,1153.9 1280.8,1153.1 1281.8,1152.1 1282.9,1151.0 1284.0,1149.7 1285.1,1148.4 1286.2,1147.1 1287.2,1145.9 1288.3,1144.7 1289.4,1143.6 1290.5,1142.7 1291.5,1141.8 1292.6,1140.9 1293.7,1139.9 1294.8,1139.0 1295.8,1138.1 1296.9,1137.2 1298.0,1136.5 1299.1,1136.0 1300.2,1135.6 1301.2,1135.4 1302.3,1135.5 1303.4,1136.1 1304.5,1137.0 1305.5,1138.2 1306.6,1139.7 1307.7,1141.4 1308.8,1143.3 1309.8,1145.2 1310.9,1147.1 1312.0,1149.0 1313.1,1150.8 1314.2,1152.9 1315.2,1155.3 1316.3,1157.9 1317.4,1160.7 1318.5,1163.6 1319.5,1166.4 1320.6,1169.1 1321.7,1171.5 1322.8,1173.5 1323.8,1175.1 1324.9,1176.1 1326.0,1176.4 1327.1,1176.0 1328.2,1175.0 1329.2,1173.4 1330.3,1171.5 1331.4,1169.3 1332.5,1167.1 1333.5,1164.9 1334.6,1162.9 1335.7,1161.1 1336.8,1159.2 1337.8,1157.3 1338.9,1155.3 1340.0,1153.4 1341.1,1151.7 1342.1,1150.2 1343.2,1149.2 1344.3,1148.7 1345.4,1148.8 1346.5,1149.7 1347.5,1151.1 1348.6,1153.1 1349.7,1155.4 1350.8,1157.9 1351.8,1160.5 1352.9,1162.9 1354.0,1165.1 1355.1,1167.2 1356.1,1169.5 1357.2,1171.9 1358.3,1174.4 1359.4,1176.9 1360.5,1179.3 1361.5,1181.7 1362.6,1183.7 1363.7,1185.5 1364.8,1187.0 1365.8,1188.0 1366.9,1188.5 1368.0,1188.5 1369.1,1188.1 1370.1,1187.4 1371.2,1186.6 1372.3,1185.5 1373.4,1184.3 1374.5,1183.1 1375.5,1181.8 1376.6,1180.6 1377.7,1179.4 1378.8,1178.2 1379.8,1177.0 1380.9,1175.7 1382.0,1174.3 1383.1,1172.9 1384.1,1171.6 1385.2,1170.5 1386.3,1169.7 1387.4,1169.3 1388.5,1169.3 1389.5,1169.8 1390.6,1170.7 1391.7,1171.9 1392.8,1173.4 1393.8,1175.1 1394.9,1177.0 1396.0,1178.9 1397.1,1180.7 1398.1,1182.5 1399.2,1184.2 1400.3,1185.9 1401.4,1187.7 1402.4,1189.7 1403.5,1191.8 1404.6,1193.9 1405.7,1196.0 1406.8,1198.1 1407.8,1200.1 1408.9,1201.9 1410.0,1203.4 1411.1,1204.7 1412.1,1205.7 1413.2,1206.3 1414.3,1206.5 1415.4,1206.3 1416.4,1205.6 1417.5,1204.5 1418.6,1203.2 1419.7,1201.6 1420.8,1200.0 1421.8,1198.2 1422.9,1196.5 1424.0,1194.6 1425.1,1192.3 1426.1,1189.6 1427.2,1186.7 1428.3,1183.8 1429.4,1181.2 1430.4,1179.1 1431.5,1177.9 1432.6,1177.6 1433.7,1178.0 1434.8,1179.0 1435.8,1180.3 1436.9,1181.9 1438.0,1183.7 1439.1,1185.5 1440.1,1187.3 1441.2,1189.2 1442.3,1191.5 1443.4,1194.0 1444.4,1196.8 1445.5,1199.7 1446.6,1202.5 1447.7,1205.0 1448.8,1207.2 1449.8,1208.9 1450.9,1209.9 1452.0,1210.2 1453.1,1209.9 1454.1,1209.2 1455.2,1208.0 1456.3,1206.6 1457.4,1204.9 1458.4,1203.1 1459.5,1201.2 1460.6,1199.3 1461.7,1197.5 1462.8,1195.8 1463.8,1194.1 1464.9,1192.1 1466.0,1190.1 1467.1,1187.9 1468.1,1185.9 1469.2,1184.1 1470.3,1182.6 1471.4,1181.6 1472.4,1181.2 1473.5,1181.2 1474.6,1181.5 1475.7,1181.8 1476.7,1182.2 1477.8,1182.7 1478.9,1183.3 1480.0,1183.9 1481.1,1184.5 1482.1,1185.1 1483.2,1185.8 1484.3,1186.4 1485.4,1187.1 1486.4,1188.0 1487.5,1188.9 1488.6,1189.9 1489.7,1190.8 1490.7,1191.6 1491.8,1192.4 1492.9,1193.0 1494.0,1193.3 1495.1,1193.4 1496.1,1193.1 1497.2,1192.4 1498.3,1191.3 1499.4,1189.8 1500.4,1188.1 1501.5,1186.2 1502.6,1184.1 1503.7,1181.8 1504.7,1179.6 1505.8,1177.3 1506.9,1175.2 1508.0,1173.0 1509.1,1170.8 1510.1,1168.2 1511.2,1165.3 1512.3,1162.2 1513.4,1159.1 1514.4,1156.2 1515.5,1153.6 1516.6,1151.4 1517.7,1149.7 1518.7,1148.8 1519.8,1148.6 1520.9,1149.0 1522.0,1149.8 1523.1,1151.0 1524.1,1152.3 1525.2,1153.9 1526.3,1155.5 1527.4,1157.1 1528.4,1158.7 1529.5,1160.2 1530.6,1161.5 1531.7,1162.8 1532.7,1164.2 1533.8,1165.6 1534.9,1167.0 1536.0,1168.4 1537.0,1169.6 1538.1,1170.8 1539.2,1171.7 1540.3,1172.4 1541.4,1172.7 1542.4,1172.7 1543.5,1172.2 1544.6,1171.4 1545.7,1170.2 1546.7,1168.7 1547.8,1167.1 1548.9,1165.2 1550.0,1163.2 1551.0,1161.2 1552.1,1159.2 1553.2,1157.2 1554.3,1155.3 1555.4,1153.5 1556.4,1151.6 1557.5,1149.4 1558.6,1147.1 1559.7,1144.7 1560.7,1142.4 1561.8,1140.3 1562.9,1138.4 1564.0,1136.9 1565.0,1135.9 1566.1,1135.5 1567.2,1135.5 1568.3,1135.9 1569.4,1136.6 1570.4,1137.5 1571.5,1138.5 1572.6,1139.6 1573.7,1140.8 1574.7,1141.9 1575.8,1143.0 1576.9,1144.2 1578.0,1145.6 1579.0,1147.2 1580.1,1148.8 1581.2,1150.3 1582.3,1151.6 1583.4,1152.5 1584.4,1153.1 1585.5,1153.2 1586.6,1153.0 1587.7,1152.6 1588.7,1152.0 1589.8,1151.2 1590.9,1150.3 1592.0,1149.2 1593.0,1148.1 1594.1,1147.0 1595.2,1145.9 1596.3,1144.7 1597.4,1143.7 1598.4,1142.6 1599.5,1141.4 1600.6,1140.1 1601.7,1138.7 1602.7,1137.2 1603.8,1135.7 1604.9,1134.3 1606.0,1132.9 1607.0,1131.6 1608.1,1130.6 1609.2,1129.7 1610.3,1129.2 1611.3,1129.0 1612.4,1129.2 1613.5,1129.6 1614.6,1130.3 1615.7,1131.1 1616.7,1132.0 1617.8,1133.0 1618.9,1133.9 1620.0,1134.8 1621.0,1135.5 1622.1,1136.2 1623.2,1136.9 1624.3,1137.6 1625.3,1138.4 1626.4,1139.1 1627.5,1139.8 1628.6,1140.4 1629.7,1140.9 1630.7,1141.4 1631.8,1141.7 1632.9,1142.0 1634.0,1142.0 1635.0,1141.9 1636.1,1141.7 1637.2,1141.4 1638.3,1141.0 1639.3,1140.4 1640.4,1139.8 1641.5,1139.1 1642.6,1138.3 1643.7,1137.5 1644.7,1136.6 1645.8,1135.7 1646.9,1134.8 1648.0,1133.9 1649.0,1133.0 1650.1,1132.1 1651.2,1131.2 1652.3,1130.1 1653.3,1128.8 1654.4,1127.3 1655.5,1125.8 1656.6,1124.2 1657.7,1122.7 1658.7,1121.3 1659.8,1120.0 1660.9,1118.9 1662.0,1118.0 1663.0,1117.5 1664.1,1117.4 1665.2,1117.7 1666.3,1118.3 1667.3,1119.2 1668.4,1120.3 1669.5,1121.6 1670.6,1123.1 1671.6,1124.6 1672.7,1126.2 1673.8,1127.7 1674.9,1129.1 1676.0,1130.4 1677.0,1131.5 1678.1,1132.5 1679.2,1133.6 1680.3,1134.6 1681.3,1135.6 1682.4,1136.4 1683.5,1136.9 1684.6,1137.1 1685.6,1137.0 1686.7,1136.7 1687.8,1136.2 1688.9,1135.6 1690.0,1134.9 1691.0,1134.2 1692.1,1133.4 1693.2,1132.6 1694.3,1131.6 1695.3,1130.6 1696.4,1129.4 1697.5,1128.1 1698.6,1126.8 1699.6,1125.3 1700.7,1123.8 1701.8,1122.6" fill="none" stroke="#e01a1e" stroke-width="4.6" stroke-linejoin="round"/></g>
<rect x="1395.5" y="1292.7" width="74.3" height="17" fill="#ff0099"/>
<line x1="1298" y1="993.3" x2="1298" y2="1006.3" stroke="#000" stroke-width="2"/>
<line x1="1298" y1="1309.7" x2="1298" y2="1296.7" stroke="#000" stroke-width="2"/>
<line x1="1432.6" y1="993.3" x2="1432.6" y2="1006.3" stroke="#000" stroke-width="2"/>
<line x1="1432.6" y1="1309.7" x2="1432.6" y2="1296.7" stroke="#000" stroke-width="2"/>
<line x1="1567.2" y1="993.3" x2="1567.2" y2="1006.3" stroke="#000" stroke-width="2"/>
<line x1="1567.2" y1="1309.7" x2="1567.2" y2="1296.7" stroke="#000" stroke-width="2"/>
<line x1="1163.4" y1="1230.6" x2="1176.4" y2="1230.6" stroke="#000" stroke-width="2"/>
<line x1="1701.8" y1="1230.6" x2="1688.8" y2="1230.6" stroke="#000" stroke-width="2"/>
<line x1="1163.4" y1="1151.5" x2="1176.4" y2="1151.5" stroke="#000" stroke-width="2"/>
<line x1="1701.8" y1="1151.5" x2="1688.8" y2="1151.5" stroke="#000" stroke-width="2"/>
<line x1="1163.4" y1="1072.4" x2="1176.4" y2="1072.4" stroke="#000" stroke-width="2"/>
<line x1="1701.8" y1="1072.4" x2="1688.8" y2="1072.4" stroke="#000" stroke-width="2"/>
<rect x="1163.4" y="993.3" width="538.4" height="316.4" fill="none" stroke="#000" stroke-width="3"/>
<clipPath id="clip_c3"><rect x="1163.4" y="1410.5" width="538.4" height="316.4"/></clipPath>
<line x1="1432.6" y1="1424.5" x2="1432.6" y2="1726.9" stroke="#8c8c8c" stroke-width="2.4"/>
<text transform="translate(1186 1446.9) scale(1 1.04)" font-size="30.4"><tspan font-style="italic">n</tspan> = 84,177</text>
<g clip-path="url(#clip_c3)">
<path id="nz_c3" transform="translate(1163.4 1806.00) scale(0.26920 -4.69843)" d="M0 46 l1 17 1-13 1-11 1 6 1-3 1 18 1-14 1 8 1 12 1-17 1 0 1 6 1 0 1-13 1-2 1 12 1 13 1-14 1 9 1-8 1 0 1 3 1-8 1-7 1 13 1-6 1 3 1 4 1 6 1-12 1 8 1-1 1-12 1 6 1 5 1 7 1-12 1-2 1-3 1 23 1-14 1 20 1-20 1-5 1 16 1 6 1-12 1-3 1-11 1 16 1-4 1 3 1-4 1-5 1 2 1 7 1 12 1-19 1 9 1 12 1-11 1-4 1 4 1 10 1-24 1 11 1-16 1 6 1-8 1 21 1-15 1 12 1-21 1 4 1 24 1-6 1-6 1-10 1 10 1 12 1-2 1-11 1 15 1-32 1 29 1-29 1 8 1 6 1 4 1-5 1-18 1 28 1-5 1 8 1-23 1 27 1-3 1-10 1-6 1 7 1 3 1-3 1-8 1 21 1 6 1-25 1 7 1 2 1 4 1-10 1-1 1-13 1 30 1-5 1-5 1-13 1 7 1-11 1 24 1-6 1 16 1-17 1 11 1 0 1-17 1 9 1-6 1 12 1-16 1-2 1 8 1 10 1-16 1 7 1 7 1 1 1-3 1-12 1 16 1-15 1 1 1 20 1-10 1-8 1 2 1-11 1 2 1 10 1 7 1 0 1 2 1-15 1 5 1 15 1-11 1-2 1-22 1 27 1 1 1-4 1-4 1-2 1 2 1 14 1-12 1 6 1 8 1-15 1 9 1-18 1-2 1 25 1-7 1-26 1 27 1-8 1-9 1 9 1 4 1-9 1 5 1-5 1 23 1-16 1 0 1 3 1-15 1 20 1-9 1-1 1 8 1-16 1-11 1 20 1-6 1-13 1 38 1-32 1 6 1 5 1 0 1 18 1-4 1-18 1 3 1 9 1 0 1-9 1 1 1 0 1 19 1-19 1-9 1 15 1-2 1-5 1 17 1-22 1 9 1-4 1 5 1-10 1 6 1-12 1-7 1 19 1-3 1 0 1-3 1-1 1-14 1 15 1-2 1-1 1 3 1-4 1 9 1-3 1 1 1 18 1-25 1 13 1-12 1-5 1 1 1 11 1-3 1 18 1-20 1 13 1-14 1 2 1 3 1 1 1-6 1-6 1 9 1-5 1-1 1 11 1 9 1-13 1 2 1 18 1-25 1 4 1 9 1-3 1-6 1-7 1 8 1-5 1 6 1-8 1 15 1-10 1 2 1 16 1-18 1 16 1-8 1 5 1-13 1-12 1 10 1 3 1-7 1 2 1 18 1-17 1-1 1 19 1-25 1 12 1 8 1-13 1-6 1 10 1-3 1 15 1-8 1-6 1-3 1-8 1 14 1 2 1-2 1 2 1 6 1-13 1 11 1 2 1-12 1 6 1 1 1-5 1 15 1 9 1-35 1 20 1-9 1 3 1 10 1-3 1-9 1 0 1 10 1-17 1 0 1 18 1-13 1-10 1 29 1 6 1-26 1 2 1-3 1 1 1 15 1-13 1 12 1-9 1-2 1 8 1-20 1 9 1 12 1-5 1-10 1 9 1 0 1-15 1 21 1 6 1-22 1 3 1 7 1 6 1-4 1-3 1 8 1-5 1-8 1 4 1-3 1 9 1 0 1 0 1-3 1 4 1-5 1 5 1-1 1 0 1 1 1-6 1 4 1-7 1 0 1-17 1 30 1-5 1 4 1-8 1-1 1-12 1-4 1 4 1 4 1 23 1-36 1 35 1-17 1-16 1 15 1 7 1-9 1-9 1 6 1 2 1 4 1 1 1 0 1-8 1-10 1 16 1-12 1-5 1 26 1-6 1-3 1-17 1 26 1-4 1 6 1-11 1-3 1 5 1 2 1-5 1-3 1 2 1 6 1 2 1-4 1-3 1-3 1-3 1 7 1 1 1 0 1-7 1 5 1-3 1 2 1 2 1 7 1 0 1-20 1 13 1-9 1 11 1-5 1-12 1 30 1-25 1 22 1-11 1-12 1 15 1-8 1 4 1-22 1 29 1 1 1 3 1 2 1-2 1-15 1 9 1 4 1 0 1-15 1-2 1 22 1-12 1-3 1 3 1 16 1-15 1 1 1 1 1-1 1 5 1 2 1-12 1 7 1-1 1-25 1 18 1-1 1 13 1 3 1 2 1-14 1-4 1 14 1-5 1 3 1-6 1 1 1 1 1-1 1-5 1 12 1-18 1 16 1-14 1 16 1-13 1 21 1-11 1-7 1 0 1-5 1 10 1-1 1 3 1-3 1 1 1-5 1 4 1 9 1-13 1-5 1 17 1-18 1 15 1 2 1 13 1-28 1 25 1-9 1-7 1-8 1 11 1-9 1 5 1 6 1 0 1-12 1 9 1-1 1 0 1-5 1-1 1-8 1 3 1 10 1-11 1-6 1 3 1 13 1 2 1 6 1 6 1-6 1-10 1 7 1-8 1-1 1-2 1-9 1 22 1-5 1-3 1-9 1 0 1 8 1 1 1 3 1-13 1 17 1-17 1-3 1 12 1-3 1-9 1 2 1 13 1-8 1-17 1 29 1-17 1 14 1-4 1 4 1-14 1-2 1 18 1-7 1-11 1-6 1 22 1-1 1-14 1 11 1 4 1 1 1-11 1 5 1-22 1 16 1 0 1-8 1 21 1-17 1 4 1-10 1 8 1 12 1-6 1-9 1 15 1-17 1 0 1 21 1-7 1 3 1 6 1-21 1 0 1 3 1 1 1 12 1-26 1 29 1-24 1 17 1-4 1-6 1 3 1 8 1-7 1-10 1 6 1 4 1 5 1-1 1 8 1-15 1 12 1-2 1-13 1 14 1-5 1 1 1-6 1 3 1 10 1-6 1-10 1 9 1-10 1 3 1 11 1-14 1 6 1 3 1 0 1 5 1-11 1 3 1 3 1 1 1-10 1 14 1-5 1 5 1-4 1-4 1-3 1 14 1-4 1 2 1-16 1 22 1-18 1 10 1-1 1 5 1-6 1-4 1 11 1 9 1-21 1 1 1 11 1-9 1 1 1-1 1 1 1 3 1 14 1-29 1 8 1 1 1 5 1-1 1-6 1 14 1-8 1 1 1-2 1-6 1 8 1-13 1 6 1 1 1 5 1-12 1 3 1 9 1-7 1 5 1 0 1-6 1 10 1-15 1 14 1-18 1-1 1 19 1 1 1-2 1-1 1-24 1 28 1 2 1-5 1-2 1 8 1-23 1 17 1-6 1 6 1 5 1-17 1-9 1 14 1-16 1 11 1 10 1-10 1 9 1 1 1-2 1 9 1-5 1 2 1-12 1 6 1-3 1 5 1-16 1 11 1-1 1-20 1 25 1-10 1-11 1 8 1 15 1 3 1-11 1 5 1-5 1 12 1-10 1-1 1 9 1-8 1 9 1-11 1 20 1-24 1 22 1-16 1 16 1-21 1 5 1 4 1 7 1-13 1-7 1 10 1-1 1-12 1 9 1 6 1-16 1 20 1 5 1-14 1 3 1-2 1-1 1-3 1 11 1-10 1-2 1 7 1 5 1-4 1-4 1 7 1 1 1-8 1 15 1-12 1 8 1-7 1 0 1-6 1 1 1 8 1-11 1 8 1 10 1-9 1-1 1 19 1-9 1-3 1 5 1-18 1-5 1 13 1-18 1 16 1-5 1 8 1 2 1-6 1-4 1 5 1 1 1 20 1-7 1-17 1 3 1 6 1 4 1-9 1-2 1-10 1 0 1 13 1-6 1 4 1 3 1-6 1 23 1-14 1 3 1-16 1-4 1 13 1-2 1-6 1 13 1-11 1 10 1-19 1-1 1 14 1-14 1-2 1 12 1 4 1-5 1 9 1 3 1 1 1 1 1-10 1 4 1 2 1-4 1 4 1-14 1 12 1-17 1 20 1 0 1 1 1-7 1-7 1 1 1-2 1 13 1-8 1-5 1-1 1-1 1-4 1-1 1 23 1-16 1 15 1-15 1-5 1 11 1-1 1 7 1-8 1 0 1 11 1-23 1 23 1-12 1 9 1-3 1-17 1 21 1-10 1 6 1-18 1 4 1 19 1-4 1-9 1 22 1-27 1 8 1-7 1 5 1 1 1 4 1-5 1-11 1 17 1 5 1-18 1 7 1-12 1 6 1 7 1-4 1 4 1-4 1-3 1 3 1 3 1 3 1-3 1 0 1 1 1 10 1-12 1 2 1-2 1-1 1 2 1-7 1 12 1-9 1-9 1 13 1-5 1 10 1-9 1 4 1 7 1-5 1-12 1 8 1 9 1-5 1-11 1 13 1-6 1 5 1 5 1-11 1 12 1-12 1 20 1-10 1-2 1 5 1-8 1 4 1-8 1 8 1 14 1-3 1 1 1-3 1 4 1-12 1 25 1-26 1-1 1 7 1 11 1-4 1-3 1 2 1 1 1-9 1 13 1-17 1 23 1-21 1 28 1-14 1-8 1-5 1 13 1 11 1-6 1-6 1 21 1 1 1 0 1 0 1-1 1-29 1 17 1 2 1-16 1-12 1 6 1 16 1-24 1 13 1-6 1-1 1 24 1-13 1-13 1 3 1 18 1-11 1-12 1 2 1 4 1 2 1-1 1 10 1-7 1-2 1 4 1-14 1 21 1-12 1 9 1 7 1-16 1 4 1 0 1-7 1 7 1-1 1-19 1 4 1 12 1-6 1-3 1-3 1-3 1-5 1 13 1-2 1-2 1 6 1 2 1-2 1-12 1 13 1-14 1 2 1 0 1 8 1 1 1-4 1 10 1 1 1-13 1 7 1-18 1-7 1 19 1 0 1 13 1-27 1 9 1 9 1 4 1-12 1 18 1-22 1 3 1 18 1-17 1-4 1 2 1 28 1-36 1 25 1-11 1 0 1 1 1-5 1 4 1 6 1 0 1-6 1-4 1 0 1 5 1 5 1 0 1-11 1 7 1 7 1-9 1 13 1-25 1 15 1 4 1 1 1-16 1 13 1-8 1-7 1 19 1 2 1-16 1-9 1 23 1-3 1-16 1 4 1 14 1-21 1 13 1 4 1 13 1 0 1-12 1 11 1-4 1-8 1-3 1 10 1-9 1 4 1 17 1-3 1-18 1 9 1 6 1-1 1-12 1 1 1-4 1 1 1 10 1 5 1-9 1-3 1 5 1 8 1-6 1-16 1 6 1-4 1 14 1 8 1-24 1 10 1 5 1-5 1-10 1 11 1 0 1 4 1-7 1 2 1 21 1-9 1-23 1 15 1 1 1-2 1-8 1 9 1-6 1 13 1-19 1 14 1-21 1 13 1 3 1-4 1 7 1-7 1 5 1 13 1-16 1 3 1 1 1-3 1-3 1 8 1-24 1 10 1 5 1 13 1-13 1-15 1 12 1 16 1-5 1-7 1-2 1 15 1-15 1-8 1 5 1 23 1-29 1 3 1 13 1 17 1-15 1-11 1 23 1-31 1 9 1 18 1-17 1 5 1-2 1-7 1 13 1-8 1-7 1-6 1 14 1-3 1 2 1-7 1 5 1 6 1 6 1-23 1 2 1 11 1 1 1-2 1-3 1 15 1-10 1 4 1 0 1-16 1 10 1 14 1 0 1-24 1 11 1 7 1-18 1 17 1-8 1-1 1 6 1-6 1 6 1-1 1 0 1 1 1 5 1-10 1-4 1 33 1-28 1 10 1 0 1-10 1 22 1-6 1-18 1 6 1-7 1 5 1 7 1-18 1 12 1 11 1 2 1-12 1 9 1 2 1-7 1-6 1 2 1 6 1-7 1 8 1-9 1 0 1 8 1-4 1 4 1 7 1-4 1-7 1-2 1 5 1-5 1 18 1 0 1-10 1-2 1-3 1-1 1 5 1-1 1-6 1 4 1 4 1 1 1 12 1-15 1 13 1-3 1-4 1-8 1 14 1-10 1-1 1-5 1 7 1-3 1 6 1-10 1 13 1-14 1 6 1-17 1 23 1 10 1-10 1-20 1 14 1 1 1 2 1 4 1-10 1 15 1 9 1-12 1-16 1-6 1 13 1 6 1-16 1-4 1 11 1 8 1-4 1-11 1 23 1-10 1-12 1 10 1-5 1 2 1-5 1 10 1-2 1-12 1 6 1 12 1-7 1 3 1-5 1-2 1-10 1 14 1-11 1 0 1 12 1-9 1 4 1 7 1-7 1-13 1 18 1-4 1-3 1-15 1 30 1-14 1-11 1 12 1 0 1-2 1-1 1-15 1 29 1-12 1-8 1 19 1-15 1 9 1-5 1 7 1-13 1 7 1 7 1-4 1-8 1-6 1 9 1 11 1-34 1 37 1-20 1 1 1 16 1-14 1 2 1-3 1-1 1 5 1 0 1-9 1-1 1 17 1-5 1 4 1 0 1-5 1 16 1-15 1-13 1 24 1-16 1-2 1 3 1 11 1-12 1-3 1 7 1-12 1 17 1-10 1 5 1 7 1-4 1-13 1 7 1-4 1 6 1 8 1-6 1-6 1 14 1-9 1 0 1 4 1 9 1-26 1 17 1-6 1 10 1-4 1-8 1-9 1 17 1 2 1 7 1-18 1 9 1 11 1-18 1 7 1-2 1 5 1-18 1 8 1-6 1 10 1 14 1-15 1 16 1-9 1 2 1 6 1-2 1-18 1 1 1 17 1-11 1 5 1 7 1 5 1-8 1-8 1-1 1 2 1 16 1-11 1 5 1-11 1-2 1 6 1-2 1 11 1-12 1 7 1-9 1-4 1 16 1 2 1-12 1 4 1 0 1-1 1 8 1 4 1-28 1 34 1-18 1 0 1 13 1-23 1 12 1-7 1 7 1-2 1-5 1 5 1-5 1 17 1-6 1 5 1-13 1-3 1 4 1-8 1 10 1-12 1 4 1 3 1-11 1 9 1 4 1-4 1 14 1-2 1-6 1-2 1-6 1 8 1-7 1 10 1-1 1-3 1 0 1-1 1 6 1-14 1-3 1 16 1-10 1 3 1 5 1 8 1-13 1-3 1-2 1 7 1-9 1 5 1 4 1-3 1 9 1-18 1 17 1-9 1 18 1-1 1-6 1-8 1 20 1-19 1 3 1-4 1-8 1 9 1 1 1 2 1-23 1 20 1-1 1-7 1 6 1 12 1-5 1-9 1 7 1-1 1 16 1-21 1 17 1-18 1 10 1 6 1-3 1-14 1 0 1-1 1 7 1-9 1 33 1-36 1 9 1 16 1-12 1-5 1 7 1 22 1-25 1 8 1 1 1-8 1-12 1 10 1 0 1 8 1-5 1 9 1-6 1-12 1 1 1-3 1 3 1 6 1 19 1-28 1 12 1-13 1 19 1-17 1 5 1 11 1-7 1-3 1-8 1 17 1-8 1-2 1 13 1 0 1-5 1 0 1-13 1 1 1 27 1-17 1 1 1 2 1-6 1 11 1-17 1 20 1-16 1-6 1 2 1 5 1 9 1-12 1 8 1-2 1 0 1 25 1-29 1 5 1 7 1-1 1-1 1 7 1-22 1 12 1 2 1-17 1 27 1 0 1 2 1-8 1-2 1 1 1-12 1-1 1-6 1 7 1 12 1 2 1-14 1 4 1-6 1-5 1 21 1-20 1-4 1 12 1 13 1-10 1-3 1 1 1-5 1 14 1 2 1-21 1 12 1-6 1-7 1 15 1-5 1 14 1-20 1 23 1-10 1-4 1-7 1 12 1-23 1 18 1 2 1 16 1-4 1-12 1-24 1 2 1 11 1 4 1 16 1-24 1 20 1-21 1 15 1 2 1-16 1 9 1 1 1-1 1-12 1 6 1 14 1-8 1 7 1 4 1-6 1-12 1 6 1 13 1-19 1 28 1-9 1-7 1-6 1 18 1-8 1-2 1-3 1 2 1 1 1 1 1-4 1-16 1-2 1 27 1-18 1 6 1-9 1 11 1-6 1 11 1-13 1 9 1 0 1 8 1-11 1 14 1-23 1 9 1 23 1-30 1 3 1-6 1 8 1 0 1 6 1-3 1-1 1 7 1-22 1 17 1-8 1 16 1-24 1 6 1 17 1-8 1 1 1 14 1-18 1 11 1-19 1 9 1-19 1 15 1 4 1 3 1 19 1-12 1 13 1-26 1 6 1 7 1-10 1 7 1 8 1-15 1-1 1 11 1-18 1 24 1-13 1 24 1-17 1 6 1 0 1-17 1 12 1 11 1-6 1 20 1-31 1 2 1 11 1 7 1-17 1-1 1 6 1 7 1-17 1 12 1-9 1-6 1 6 1 12 1-23 1 30 1-33 1 18 1-10 1 9 1-7 1 8 1-7 1-14 1 21 1 3 1-15 1 14 1 3 1 9 1-17 1-4 1-8 1 11 1 13 1-2 1-10 1 8 1 0 1-2 1-8 1-9 1 4 1-3 1-5 1 15 1-5 1 4 1-1 1-30 1 26 1 9 1-13 1 16 1-9 1-10 1 0 1 6 1 7 1-2 1-3 1 1 1-9 1-6 1-2 1 4 1 13 1 13 1-20 1 25 1-6 1-8 1-8 1 2 1-4 1 6 1-8 1-3 1 9 1-6 1 13 1 3 1-14 1 11 1-12 1 12 1-24 1 8 1 7 1 20 1-23 1 14 1-1 1-9 1-6 1 15 1-26 1 24 1-4 1-8 1 1 1 16 1-5 1-3 1-7 1 23 1-20 1 9 1-3 1-3 1 10 1-2 1-15 1 15 1 8 1 4 1-9 1-13 1 0 1 4 1 27 1-24 1 1 1-11 1 11 1 5 1 5 1-16 1-1 1-7 1 4 1 11 1-9 1 20 1-6 1-26 1 18 1 11 1-8 1 5 1-11 1-1 1 5 1 14 1-26 1 10 1-21 1 18 1-18 1 29 1-4 1 1 1 8 1-20 1 17 1-16 1 13 1-8 1 6 1 7 1-14 1 2 1 16 1-25 1 26 1-19" fill="none" stroke="#f08a8b" stroke-width="4.0" stroke-linejoin="round" stroke-linecap="round" vector-effect="non-scaling-stroke"/>
<polyline points="1163.4,1565.5 1164.5,1563.2 1165.6,1560.5 1166.6,1558.0 1167.7,1556.2 1168.8,1554.8 1169.9,1553.7 1170.9,1552.8 1172.0,1552.2 1173.1,1551.7 1174.2,1551.6 1175.2,1551.8 1176.3,1552.0 1177.4,1552.4 1178.5,1552.8 1179.6,1553.1 1180.6,1553.3 1181.7,1553.3 1182.8,1553.0 1183.9,1552.4 1184.9,1551.6 1186.0,1550.5 1187.1,1549.3 1188.2,1547.9 1189.2,1546.5 1190.3,1545.1 1191.4,1543.7 1192.5,1542.4 1193.6,1540.9 1194.6,1539.3 1195.7,1537.6 1196.8,1535.9 1197.9,1534.5 1198.9,1533.4 1200.0,1532.9 1201.1,1532.8 1202.2,1532.9 1203.2,1533.1 1204.3,1533.3 1205.4,1533.6 1206.5,1533.9 1207.5,1534.3 1208.6,1534.6 1209.7,1535.1 1210.8,1535.5 1211.9,1536.0 1212.9,1536.7 1214.0,1537.6 1215.1,1538.6 1216.2,1539.8 1217.2,1541.0 1218.3,1542.4 1219.4,1543.7 1220.5,1545.1 1221.5,1546.4 1222.6,1547.7 1223.7,1549.1 1224.8,1550.6 1225.9,1552.2 1226.9,1553.9 1228.0,1555.6 1229.1,1557.2 1230.2,1558.8 1231.2,1560.3 1232.3,1561.5 1233.4,1562.5 1234.5,1563.1 1235.5,1563.4 1236.6,1563.3 1237.7,1562.8 1238.8,1561.8 1239.9,1560.6 1240.9,1559.2 1242.0,1557.7 1243.1,1556.2 1244.2,1554.8 1245.2,1553.4 1246.3,1552.0 1247.4,1550.4 1248.5,1549.0 1249.5,1547.8 1250.6,1547.2 1251.7,1547.1 1252.8,1547.2 1253.9,1547.3 1254.9,1547.5 1256.0,1547.7 1257.1,1548.2 1258.2,1549.0 1259.2,1550.2 1260.3,1551.8 1261.4,1553.6 1262.5,1555.7 1263.5,1557.7 1264.6,1559.8 1265.7,1561.7 1266.8,1563.3 1267.8,1564.8 1268.9,1566.1 1270.0,1567.4 1271.1,1568.7 1272.2,1569.9 1273.2,1571.2 1274.3,1572.2 1275.4,1573.2 1276.5,1573.9 1277.5,1574.5 1278.6,1574.7 1279.7,1574.5 1280.8,1573.6 1281.8,1572.1 1282.9,1570.1 1284.0,1567.8 1285.1,1565.3 1286.2,1562.7 1287.2,1560.3 1288.3,1558.2 1289.4,1556.5 1290.5,1555.2 1291.5,1554.3 1292.6,1553.4 1293.7,1552.5 1294.8,1551.7 1295.8,1551.0 1296.9,1550.3 1298.0,1549.8 1299.1,1549.4 1300.2,1549.1 1301.2,1549.0 1302.3,1549.5 1303.4,1550.8 1304.5,1552.9 1305.5,1555.7 1306.6,1559.0 1307.7,1562.5 1308.8,1566.2 1309.8,1569.8 1310.9,1573.1 1312.0,1575.9 1313.1,1578.3 1314.2,1580.4 1315.2,1582.5 1316.3,1584.6 1317.4,1586.6 1318.5,1588.6 1319.5,1590.5 1320.6,1592.1 1321.7,1593.6 1322.8,1594.8 1323.8,1595.7 1324.9,1596.3 1326.0,1596.4 1327.1,1595.8 1328.2,1594.4 1329.2,1592.2 1330.3,1589.5 1331.4,1586.4 1332.5,1583.3 1333.5,1580.1 1334.6,1577.2 1335.7,1574.8 1336.8,1572.9 1337.8,1571.6 1338.9,1570.5 1340.0,1569.5 1341.1,1568.5 1342.1,1567.6 1343.2,1566.8 1344.3,1566.1 1345.4,1565.5 1346.5,1565.1 1347.5,1564.8 1348.6,1565.0 1349.7,1566.1 1350.8,1568.4 1351.8,1571.7 1352.9,1575.8 1354.0,1580.4 1355.1,1585.2 1356.1,1589.8 1357.2,1593.9 1358.3,1597.2 1359.4,1599.6 1360.5,1601.1 1361.5,1602.2 1362.6,1603.3 1363.7,1604.2 1364.8,1605.0 1365.8,1605.7 1366.9,1606.2 1368.0,1606.6 1369.1,1606.7 1370.1,1606.5 1371.2,1606.0 1372.3,1605.2 1373.4,1604.1 1374.5,1603.0 1375.5,1601.7 1376.6,1600.3 1377.7,1598.7 1378.8,1596.5 1379.8,1593.9 1380.9,1591.2 1382.0,1588.5 1383.1,1586.0 1384.1,1584.1 1385.2,1582.9 1386.3,1582.5 1387.4,1582.7 1388.5,1583.2 1389.5,1584.0 1390.6,1585.0 1391.7,1586.3 1392.8,1587.6 1393.8,1589.1 1394.9,1590.6 1396.0,1592.2 1397.1,1593.7 1398.1,1595.2 1399.2,1596.7 1400.3,1598.2 1401.4,1600.0 1402.4,1601.9 1403.5,1604.0 1404.6,1606.2 1405.7,1608.4 1406.8,1610.6 1407.8,1612.8 1408.9,1614.9 1410.0,1616.8 1411.1,1618.6 1412.1,1620.1 1413.2,1621.3 1414.3,1622.2 1415.4,1622.6 1416.4,1622.4 1417.5,1621.1 1418.6,1618.4 1419.7,1614.7 1420.8,1610.0 1421.8,1604.7 1422.9,1599.0 1424.0,1593.0 1425.1,1586.4 1426.1,1577.8 1427.2,1567.1 1428.3,1555.3 1429.4,1543.5 1430.4,1533.1 1431.5,1525.3 1432.6,1521.1 1433.7,1520.5 1434.8,1521.9 1435.8,1524.6 1436.9,1528.3 1438.0,1532.6 1439.1,1537.4 1440.1,1542.6 1441.2,1549.1 1442.3,1557.9 1443.4,1568.9 1444.4,1581.1 1445.5,1593.5 1446.6,1605.0 1447.7,1614.5 1448.8,1621.0 1449.8,1624.0 1450.9,1624.6 1452.0,1624.3 1453.1,1623.9 1454.1,1623.3 1455.2,1622.5 1456.3,1621.7 1457.4,1620.8 1458.4,1619.9 1459.5,1618.8 1460.6,1617.3 1461.7,1615.3 1462.8,1612.8 1463.8,1610.1 1464.9,1607.1 1466.0,1604.2 1467.1,1601.3 1468.1,1598.7 1469.2,1596.4 1470.3,1594.6 1471.4,1593.5 1472.4,1593.0 1473.5,1593.1 1474.6,1593.6 1475.7,1594.4 1476.7,1595.3 1477.8,1596.4 1478.9,1597.5 1480.0,1598.6 1481.1,1599.7 1482.1,1600.7 1483.2,1601.7 1484.3,1602.9 1485.4,1604.2 1486.4,1605.5 1487.5,1606.8 1488.6,1608.0 1489.7,1609.2 1490.7,1610.2 1491.8,1611.1 1492.9,1611.8 1494.0,1612.2 1495.1,1612.2 1496.1,1611.8 1497.2,1610.9 1498.3,1609.4 1499.4,1607.5 1500.4,1605.3 1501.5,1602.7 1502.6,1600.0 1503.7,1597.1 1504.7,1594.2 1505.8,1591.2 1506.9,1588.4 1508.0,1585.6 1509.1,1582.6 1510.1,1579.1 1511.2,1575.2 1512.3,1571.3 1513.4,1567.5 1514.4,1564.2 1515.5,1561.5 1516.6,1559.9 1517.7,1559.4 1518.7,1559.8 1519.8,1561.1 1520.9,1562.9 1522.0,1565.1 1523.1,1567.6 1524.1,1570.3 1525.2,1572.9 1526.3,1575.3 1527.4,1577.5 1528.4,1579.2 1529.5,1580.6 1530.6,1581.9 1531.7,1583.2 1532.7,1584.5 1533.8,1585.7 1534.9,1586.8 1536.0,1587.9 1537.0,1588.8 1538.1,1589.6 1539.2,1590.2 1540.3,1590.7 1541.4,1590.9 1542.4,1590.9 1543.5,1590.7 1544.6,1590.4 1545.7,1589.9 1546.7,1589.2 1547.8,1588.5 1548.9,1587.6 1550.0,1586.7 1551.0,1585.6 1552.1,1584.5 1553.2,1583.3 1554.3,1581.4 1555.4,1578.8 1556.4,1575.5 1557.5,1571.7 1558.6,1567.5 1559.7,1563.2 1560.7,1559.0 1561.8,1555.1 1562.9,1551.7 1564.0,1548.9 1565.0,1547.1 1566.1,1546.2 1567.2,1546.4 1568.3,1547.4 1569.4,1548.9 1570.4,1550.8 1571.5,1553.0 1572.6,1555.2 1573.7,1557.4 1574.7,1559.4 1575.8,1561.1 1576.9,1562.7 1578.0,1564.3 1579.0,1566.0 1580.1,1567.6 1581.2,1569.2 1582.3,1570.7 1583.4,1571.9 1584.4,1572.9 1585.5,1573.6 1586.6,1573.9 1587.7,1573.7 1588.7,1572.7 1589.8,1571.1 1590.9,1569.0 1592.0,1566.7 1593.0,1564.4 1594.1,1562.3 1595.2,1560.5 1596.3,1559.3 1597.4,1558.5 1598.4,1557.9 1599.5,1557.4 1600.6,1557.0 1601.7,1556.6 1602.7,1556.0 1603.8,1555.2 1604.9,1553.7 1606.0,1551.6 1607.0,1549.0 1608.1,1546.4 1609.2,1544.0 1610.3,1542.4 1611.3,1541.7 1612.4,1541.8 1613.5,1542.5 1614.6,1543.6 1615.7,1544.9 1616.7,1546.4 1617.8,1547.9 1618.9,1549.3 1620.0,1550.7 1621.0,1551.8 1622.1,1553.0 1623.2,1554.1 1624.3,1555.3 1625.3,1556.5 1626.4,1557.6 1627.5,1558.6 1628.6,1559.5 1629.7,1560.2 1630.7,1560.7 1631.8,1560.9 1632.9,1560.8 1634.0,1560.6 1635.0,1560.3 1636.1,1559.9 1637.2,1559.3 1638.3,1558.7 1639.3,1558.0 1640.4,1557.3 1641.5,1556.5 1642.6,1555.8 1643.7,1555.0 1644.7,1554.2 1645.8,1553.2 1646.9,1552.1 1648.0,1551.0 1649.0,1549.8 1650.1,1548.6 1651.2,1547.2 1652.3,1545.7 1653.3,1544.0 1654.4,1542.1 1655.5,1540.0 1656.6,1538.0 1657.7,1536.0 1658.7,1534.1 1659.8,1532.5 1660.9,1531.1 1662.0,1530.0 1663.0,1529.3 1664.1,1529.2 1665.2,1529.7 1666.3,1530.8 1667.3,1532.4 1668.4,1534.5 1669.5,1536.8 1670.6,1539.3 1671.6,1541.8 1672.7,1544.3 1673.8,1546.6 1674.9,1548.6 1676.0,1550.3 1677.0,1551.4 1678.1,1552.3 1679.2,1553.1 1680.3,1553.8 1681.3,1554.4 1682.4,1554.8 1683.5,1555.1 1684.6,1555.2 1685.6,1555.1 1686.7,1554.8 1687.8,1554.3 1688.9,1553.7 1690.0,1553.0 1691.0,1552.3 1692.1,1551.5 1693.2,1550.7 1694.3,1549.7 1695.3,1548.6 1696.4,1547.3 1697.5,1546.0 1698.6,1544.5 1699.6,1542.9 1700.7,1541.3 1701.8,1540.1" fill="none" stroke="#e01a1e" stroke-width="4.6" stroke-linejoin="round"/></g>
<rect x="1395.5" y="1709.9" width="74.3" height="17" fill="#ff0099"/>
<line x1="1298" y1="1410.5" x2="1298" y2="1423.5" stroke="#000" stroke-width="2"/>
<line x1="1298" y1="1726.9" x2="1298" y2="1713.9" stroke="#000" stroke-width="2"/>
<line x1="1432.6" y1="1410.5" x2="1432.6" y2="1423.5" stroke="#000" stroke-width="2"/>
<line x1="1432.6" y1="1726.9" x2="1432.6" y2="1713.9" stroke="#000" stroke-width="2"/>
<line x1="1567.2" y1="1410.5" x2="1567.2" y2="1423.5" stroke="#000" stroke-width="2"/>
<line x1="1567.2" y1="1726.9" x2="1567.2" y2="1713.9" stroke="#000" stroke-width="2"/>
<line x1="1163.4" y1="1647.8" x2="1176.4" y2="1647.8" stroke="#000" stroke-width="2"/>
<line x1="1701.8" y1="1647.8" x2="1688.8" y2="1647.8" stroke="#000" stroke-width="2"/>
<line x1="1163.4" y1="1568.7" x2="1176.4" y2="1568.7" stroke="#000" stroke-width="2"/>
<line x1="1701.8" y1="1568.7" x2="1688.8" y2="1568.7" stroke="#000" stroke-width="2"/>
<line x1="1163.4" y1="1489.6" x2="1176.4" y2="1489.6" stroke="#000" stroke-width="2"/>
<line x1="1701.8" y1="1489.6" x2="1688.8" y2="1489.6" stroke="#000" stroke-width="2"/>
<rect x="1163.4" y="1410.5" width="538.4" height="316.4" fill="none" stroke="#000" stroke-width="3"/>
<clipPath id="clip_c4"><rect x="1163.4" y="1827.7" width="538.4" height="316.4"/></clipPath>
<line x1="1432.6" y1="1841.7" x2="1432.6" y2="2144.1" stroke="#8c8c8c" stroke-width="2.4"/>
<text transform="translate(1186 1870.2) scale(1 1.04)" font-size="30.4"><tspan font-style="italic">n</tspan> = 43,607</text>
<g clip-path="url(#clip_c4)">
<path id="nz_c4" transform="translate(1163.4 2196.83) scale(0.26920 -6.04643)" d="M0 35 l1-7 1-2 1-3 1-1 1 0 1 9 1 7 1-14 1 3 1-6 1-2 1 5 1 9 1 6 1-15 1 5 1-6 1 10 1 1 1-1 1 1 1-4 1 0 1 3 1-8 1 5 1 0 1 4 1-6 1 1 1 3 1 0 1 1 1 5 1-10 1-4 1 9 1-11 1 7 1-5 1 4 1 1 1-1 1 8 1 0 1-7 1-7 1-1 1 2 1 4 1-5 1-8 1 8 1-3 1 8 1-1 1 0 1 3 1-3 1 0 1-2 1 0 1 8 1 7 1-16 1 8 1-7 1-1 1 0 1 6 1-5 1 2 1 10 1-10 1 7 1-6 1 0 1-4 1-6 1 16 1 1 1-6 1 4 1-15 1 7 1-4 1 4 1 1 1 8 1-4 1 8 1-5 1 5 1-9 1-4 1 9 1 8 1 0 1-2 1-4 1-7 1-3 1 18 1-24 1 4 1 10 1-9 1 22 1-17 1 1 1 1 1-6 1 1 1 8 1-4 1 0 1-4 1 6 1-2 1 1 1 10 1-7 1-1 1 4 1-9 1 8 1-8 1 3 1 6 1-17 1 6 1 10 1-11 1 0 1 11 1-8 1 12 1-9 1-8 1 5 1 4 1 0 1-10 1 6 1 5 1-7 1 11 1 16 1-22 1 7 1-11 1-6 1 0 1 6 1 0 1 5 1-4 1 7 1-10 1 5 1 0 1-10 1 10 1 10 1-9 1 5 1-10 1-1 1 1 1-9 1 14 1 3 1 3 1-6 1-1 1-5 1 7 1 2 1 6 1-16 1 11 1 1 1-10 1 8 1 3 1-13 1-2 1 12 1 3 1-8 1-2 1 7 1-17 1 7 1-3 1 2 1 8 1 19 1-14 1-6 1-1 1-9 1 19 1-1 1-10 1-2 1 7 1-10 1 6 1-5 1 12 1-5 1 5 1-3 1-1 1-8 1-6 1 9 1-18 1 21 1-1 1-6 1 4 1 1 1 9 1-18 1 14 1 1 1-9 1 8 1-5 1 7 1-3 1-8 1 3 1 6 1 5 1-6 1-4 1 4 1-10 1 4 1 15 1-14 1-8 1 15 1-7 1 10 1-3 1-1 1-22 1 31 1-14 1 13 1-10 1-7 1-2 1 14 1-10 1 0 1-4 1 5 1-6 1 1 1-9 1 11 1-2 1 5 1-3 1-8 1 7 1 1 1-3 1 3 1 10 1 3 1-9 1 5 1-8 1-5 1 5 1 2 1-9 1 5 1 3 1-5 1 24 1-15 1 0 1-8 1-7 1 6 1 0 1 10 1-5 1 2 1-4 1 10 1 0 1-11 1 11 1-2 1-3 1 3 1-9 1 9 1-6 1 0 1 1 1 10 1-7 1-6 1 10 1-7 1-12 1 17 1-5 1 2 1-6 1 12 1-4 1-11 1 4 1 4 1 1 1-6 1 6 1 5 1-5 1 12 1-7 1-4 1 1 1 3 1-5 1 12 1 1 1-22 1 11 1-6 1 1 1 1 1 4 1 14 1-26 1 22 1-16 1 29 1-29 1-3 1 14 1 0 1 13 1-20 1 7 1-4 1-1 1 0 1-5 1 5 1-1 1 0 1 0 1 3 1-13 1 10 1 8 1-9 1 15 1-14 1-7 1 16 1-9 1-6 1 0 1 5 1 5 1-7 1 2 1-11 1 8 1 7 1-14 1 12 1-9 1 6 1 10 1-20 1 7 1 6 1-6 1 3 1 7 1-15 1 10 1-19 1 13 1 11 1-18 1 10 1 9 1-17 1 12 1-2 1-2 1 2 1 8 1-13 1-4 1 0 1-2 1 10 1-9 1 14 1-12 1 9 1-4 1-7 1 9 1-7 1 14 1-17 1 20 1-14 1 1 1 0 1 2 1 0 1 3 1-6 1-4 1 11 1-11 1 7 1 10 1-18 1-3 1 8 1 10 1-5 1-8 1 5 1-4 1 0 1 5 1-7 1 12 1-17 1 13 1-2 1 5 1-15 1 5 1-5 1 18 1-8 1 2 1-4 1 7 1 1 1-18 1 9 1 3 1 0 1 2 1-7 1 11 1 4 1-8 1 2 1-12 1 7 1 8 1-1 1-3 1-9 1-2 1 30 1-20 1 10 1-8 1 2 1 8 1-7 1-13 1 3 1 2 1 5 1-15 1 13 1-2 1 5 1-11 1 8 1 0 1-5 1 2 1-1 1 16 1-4 1-6 1-4 1 12 1-4 1-6 1 17 1-21 1-8 1 8 1 16 1-20 1 15 1-14 1 8 1 9 1-12 1 5 1 2 1-5 1-4 1 1 1 4 1 0 1 1 1-5 1 6 1-5 1-6 1 18 1-5 1 2 1-20 1 0 1 11 1 2 1 0 1 3 1-1 1 3 1-7 1 14 1-5 1 3 1-1 1-7 1 4 1-6 1-13 1 12 1 1 1 10 1-12 1-2 1 3 1-1 1 11 1-5 1-3 1-3 1-1 1-2 1-3 1 3 1-2 1 6 1-5 1 18 1-9 1-12 1 10 1 7 1-7 1-4 1 0 1-5 1 9 1 5 1-3 1-8 1-5 1 11 1-5 1-1 1 1 1-3 1 0 1 9 1-6 1-3 1-3 1-3 1 12 1-4 1-5 1 0 1-4 1 5 1 3 1 17 1-12 1-4 1-5 1 2 1 2 1-13 1 10 1-9 1 9 1 15 1-7 1 2 1-1 1-6 1-3 1-1 1 5 1 10 1-2 1-2 1-9 1 1 1 3 1 6 1-12 1 18 1-10 1 2 1-9 1-1 1 4 1 2 1 0 1 5 1-3 1-1 1-1 1 2 1 1 1 0 1-5 1 0 1 9 1-9 1 20 1-10 1-2 1-1 1 2 1-3 1-6 1 9 1-8 1-2 1-4 1 3 1 12 1 1 1-5 1 10 1-13 1 3 1 5 1 1 1-20 1 16 1 13 1-9 1 0 1-1 1 3 1-12 1 0 1 4 1 8 1-6 1-2 1 4 1 3 1-3 1-7 1 15 1-1 1-17 1 4 1 11 1 4 1-25 1 25 1-4 1-3 1 1 1 4 1-9 1 5 1-5 1 8 1-9 1-11 1 3 1 12 1 0 1 0 1-9 1-5 1 8 1 0 1-4 1 10 1 1 1-11 1-1 1 4 1 0 1 11 1-12 1 5 1-4 1-8 1 8 1-7 1 12 1-6 1 1 1-10 1 13 1 5 1-10 1-4 1 0 1-3 1-7 1 14 1 3 1-13 1 12 1-3 1 6 1-6 1-1 1-6 1-8 1 14 1 4 1-1 1-3 1-7 1 7 1-1 1-9 1 3 1 7 1 2 1-8 1 1 1 9 1-5 1-6 1 7 1-12 1 9 1 5 1-9 1 4 1 5 1 1 1 6 1-6 1-5 1 0 1-4 1 5 1-10 1 23 1-13 1 8 1-10 1-6 1 8 1-6 1-5 1 10 1 5 1 8 1-16 1-9 1 21 1-7 1 0 1-8 1 7 1 0 1-7 1 4 1 1 1-2 1-7 1 20 1-13 1-2 1 8 1 6 1 8 1-8 1-19 1 15 1 5 1-9 1 12 1-9 1-8 1 9 1 5 1-5 1-10 1 12 1-8 1-8 1 23 1-9 1-5 1 5 1 0 1 2 1 2 1 1 1 11 1-22 1 2 1 1 1 3 1-5 1 10 1-13 1 9 1-5 1 2 1-1 1 0 1 3 1-3 1 5 1 1 1 11 1-10 1-10 1 21 1-10 1-6 1 7 1-6 1 16 1-7 1-5 1 0 1 6 1-11 1 3 1-6 1 6 1-3 1-5 1 4 1 3 1-2 1 11 1-10 1 18 1-19 1-3 1 0 1-5 1 16 1-9 1-9 1 1 1 13 1-13 1 8 1-3 1 5 1-3 1-7 1 8 1 3 1 1 1-4 1-4 1 13 1-6 1-3 1 0 1-9 1 9 1-2 1-3 1 8 1-14 1 4 1 15 1-3 1-10 1 8 1 2 1-8 1 6 1-4 1 0 1 4 1 4 1-13 1 0 1 13 1-4 1-6 1 7 1-4 1-3 1-3 1 6 1-5 1 12 1-19 1 11 1 0 1-3 1-4 1 12 1-3 1 2 1-6 1 4 1-2 1 4 1-2 1 6 1-10 1-3 1-6 1 4 1 14 1 2 1-11 1-3 1 0 1-1 1 16 1-7 1 6 1-9 1-3 1 4 1-6 1 3 1 0 1 3 1-10 1 11 1-5 1 14 1-8 1 2 1 4 1 4 1-12 1 3 1 3 1-2 1 8 1-3 1-9 1 10 1-8 1-1 1 2 1 16 1-15 1 3 1 0 1 1 1 2 1 2 1 9 1-19 1 2 1 14 1-5 1 5 1-18 1 1 1 16 1 9 1-10 1 1 1 15 1-9 1-20 1 16 1 13 1-13 1-4 1-8 1 16 1 0 1 11 1 0 1 0 1 0 1 0 1-13 1 5 1-7 1-8 1 16 1-19 1 9 1-14 1 11 1-3 1 4 1-2 1 5 1-13 1 3 1 0 1-5 1 12 1-6 1 5 1 17 1-21 1 3 1-2 1-15 1 9 1 5 1-11 1 0 1 10 1 7 1-17 1 2 1-4 1 3 1 10 1-5 1 1 1-1 1 0 1-8 1 0 1-4 1 15 1-14 1 5 1-4 1-1 1 2 1 2 1 4 1-8 1-4 1 13 1-9 1 1 1 2 1-2 1 9 1-2 1-5 1-4 1 4 1 12 1-12 1 3 1 7 1 0 1-9 1 1 1 3 1 1 1 1 1-6 1-4 1 0 1 6 1 2 1 2 1-5 1 8 1-22 1 19 1-5 1 1 1-7 1 2 1 7 1 1 1-1 1-9 1-1 1 8 1 5 1-6 1 6 1-10 1 3 1 2 1 6 1-8 1 13 1-13 1 6 1-3 1-7 1 2 1 13 1-6 1 2 1-14 1 4 1 4 1 10 1-1 1-13 1 9 1-8 1 5 1-6 1 16 1-16 1-6 1 5 1 10 1-2 1 10 1 0 1-8 1-15 1 16 1-8 1 9 1-1 1-13 1 14 1-3 1-5 1 3 1-4 1 10 1-11 1 7 1-3 1-5 1 3 1-3 1 5 1 5 1-5 1 4 1-4 1 6 1-5 1 5 1-11 1 7 1-6 1-1 1 7 1-7 1 4 1-9 1 14 1-5 1 3 1-13 1 27 1-9 1-8 1-2 1 9 1 0 1-4 1 3 1 1 1-2 1-5 1 2 1-5 1 3 1 2 1-2 1-11 1 8 1 14 1 5 1-22 1 13 1-12 1 0 1-3 1 13 1-6 1 2 1-10 1 16 1-2 1-5 1 3 1-10 1 7 1-10 1 11 1-6 1 10 1-1 1 0 1-9 1-5 1 9 1 20 1-25 1-5 1 4 1 17 1-16 1 6 1-4 1-8 1 3 1 4 1 9 1 5 1-13 1 14 1-4 1-12 1 0 1 6 1-5 1 4 1-5 1-1 1 3 1 7 1 0 1 6 1-6 1-9 1 5 1-4 1-6 1 11 1-4 1 1 1-2 1-6 1 12 1-4 1 7 1 0 1-2 1-5 1-4 1 3 1 5 1 9 1-2 1-12 1 11 1 0 1 0 1-6 1 0 1-5 1 11 1-8 1 4 1 5 1-5 1-4 1 10 1-9 1 2 1-10 1 6 1 15 1-18 1 1 1 12 1-10 1 11 1-3 1-2 1 0 1-10 1 22 1-4 1-3 1 13 1-21 1 1 1 5 1-2 1-3 1-1 1 15 1-7 1 3 1-3 1 3 1 0 1 6 1 1 1-14 1 3 1-6 1 21 1-16 1-2 1 14 1-9 1-12 1 5 1-3 1 5 1 8 1-1 1 6 1-15 1 21 1-9 1-2 1 1 1-12 1 5 1 4 1-7 1 3 1-18 1 22 1-8 1 13 1-1 1-8 1 5 1-2 1-7 1-8 1 2 1 10 1-7 1 2 1 8 1-10 1 3 1 3 1-1 1 1 1 3 1 6 1-10 1 9 1-12 1 3 1 2 1 3 1 4 1-11 1-3 1 9 1-9 1-2 1 3 1 6 1-5 1 2 1 4 1-17 1 26 1-26 1 15 1-8 1 7 1 2 1-10 1 1 1 8 1-4 1 4 1-13 1 3 1 4 1 5 1-5 1 5 1-4 1 7 1 3 1-6 1-13 1 11 1-7 1-3 1 13 1-4 1-2 1 5 1-2 1 0 1 4 1 5 1-14 1 3 1 7 1-3 1 1 1 5 1-10 1 0 1 7 1-7 1 0 1 2 1 6 1-20 1 15 1-6 1 6 1-1 1 1 1-7 1 5 1-10 1 7 1 12 1-12 1 9 1-1 1 0 1 2 1-4 1 12 1-13 1 6 1-6 1 3 1-4 1 12 1-17 1 9 1-8 1 9 1-7 1 0 1-5 1 14 1-5 1 1 1-1 1-9 1 11 1 10 1 3 1-5 1-15 1 18 1-5 1-5 1-7 1 0 1 2 1 4 1 4 1-5 1-3 1 9 1-4 1 5 1 7 1-5 1 0 1-21 1 9 1 5 1-5 1 6 1-4 1 3 1 8 1-11 1 8 1-7 1 18 1 2 1-18 1-10 1 16 1-16 1 12 1-9 1 12 1-15 1 8 1 7 1-4 1 4 1 7 1-17 1 2 1-2 1 6 1 6 1-12 1 12 1-5 1-2 1-1 1-3 1-10 1 20 1-5 1-7 1 17 1-8 1 18 1-25 1 3 1-8 1 15 1-2 1-6 1 1 1-5 1 1 1 15 1-32 1 14 1 7 1-1 1 3 1-10 1 16 1-8 1 0 1-7 1 2 1 7 1-14 1 11 1-6 1 0 1 6 1-6 1 9 1-11 1 9 1-9 1 20 1-15 1 1 1 1 1-6 1-5 1 5 1 0 1 3 1 1 1 5 1 1 1-12 1 2 1 0 1 10 1-2 1-8 1 7 1-7 1 4 1-14 1 18 1 5 1-6 1-12 1 7 1-7 1 3 1 4 1-2 1 13 1-14 1 5 1 6 1 8 1-24 1 9 1 11 1-14 1 1 1 4 1 1 1-11 1 8 1 3 1-2 1-8 1 0 1 1 1 7 1 6 1 1 1 0 1-11 1-5 1 8 1 0 1 10 1-2 1-3 1 4 1-9 1-2 1 2 1 10 1 9 1-11 1 5 1 6 1-22 1 28 1-26 1 1 1 4 1-3 1 14 1-17 1 8 1-3 1 10 1-16 1 11 1 8 1-15 1 5 1 16 1-21 1 17 1-7 1-14 1 4 1 13 1-3 1 6 1-19 1 4 1 6 1 8 1-4 1 11 1-8 1-8 1-2 1-7 1 14 1-3 1-4 1 2 1 16 1 6 1-35 1 10 1 12 1-9 1 5 1 0 1-10 1 1 1-5 1 8 1-6 1 1 1-1 1 10 1-3 1-12 1 10 1-3 1 6 1 5 1-4 1-5 1 5 1-10 1 1 1 15 1-16 1-1 1-4 1 6 1 0 1 9 1-7 1 2 1 12 1-7 1-11 1 5 1 0 1-10 1 8 1 1 1 4 1-8 1 5 1-1 1 21 1-22 1 2 1-4 1-11 1 16 1-5 1 12 1-4 1-9 1 0 1 1 1 12 1-7 1-5 1 3 1-10 1 10 1-2 1 12 1-18 1 10 1-11 1 12 1-11 1 13 1-8 1 11 1 2 1 6 1-16 1 2 1-4 1 2 1-3 1 8 1 2 1-16 1 10 1 12 1-15 1 4 1 1 1-1 1 5 1-6 1-6 1 11 1-1 1 2 1 0 1 6 1-17 1-4 1 1 1 10 1 0 1-6 1 3 1-2 1 4 1-3 1 13 1-6 1-2 1 3 1-16 1 7 1 10 1-15 1 4 1 14 1-15 1-5 1 3 1 0 1 3 1 16 1-16 1 16 1-19 1 3 1 2 1 0 1 13 1-3 1-10 1 5 1 13 1-11 1-3 1-1 1-1 1-5 1 5 1 21 1-14 1-19 1 17 1-3 1-4 1-2 1 5 1 2 1-4 1 3 1 1 1-5 1 8 1 7 1-2 1-4 1 5 1-5 1 11 1-11 1 2 1-12 1 1 1-1 1 0 1 1 1-1 1 0 1 18 1-13 1 0 1 13 1 12 1-31 1-2 1 9 1 1 1 4 1-2 1-1 1-4 1-1 1 5 1-12 1 7 1 3 1 0 1 7 1-9 1-5 1 8 1-11 1 11 1 1 1-10 1 13 1-2 1 7 1-17 1 10 1-8 1 6 1 10 1-10 1-10 1 19 1-10 1 4 1-3 1 4 1-9 1 3 1-12 1 12 1 1 1-4 1 4 1-5 1 1 1-7 1 20 1-23 1 13 1-10 1 19 1-2 1-11 1 4 1 9 1-7 1 2 1-7 1-1 1 4 1 6 1-5 1-13 1 6 1 11 1-6 1 1 1 1 1-7 1-4 1 13 1 1 1-11 1 3 1 12 1-3 1 11 1-6 1-12 1 0 1 5 1 3 1-6 1-2 1 7 1-7 1 1 1 11 1-11 1 0 1 5 1-1 1 16 1-14 1-12 1 9 1 1 1-6 1 1 1-1 1-2 1-2 1 2 1-2 1 10 1-10 1 10 1-4 1-11 1 14 1-5 1-6 1 5 1-1 1 13 1-4 1 11 1-10 1-17 1 15 1-3 1 3 1-4 1 9 1-10 1 15 1-7 1-6 1-11 1 4 1 11 1-3 1-10 1 14 1 1 1-6 1 1 1 9 1-13 1 0 1-5 1 3 1 16 1 3 1-12 1 2 1-5 1-5 1 7 1 6 1-7 1-2 1 3 1 1 1-4 1 18" fill="none" stroke="#f08a8b" stroke-width="4.0" stroke-linejoin="round" stroke-linecap="round" vector-effect="non-scaling-stroke"/>
<polyline points="1163.4,2037.0 1164.5,2035.2 1165.6,2032.8 1166.6,2030.6 1167.7,2028.7 1168.8,2027.5 1169.9,2026.8 1170.9,2026.7 1172.0,2026.9 1173.1,2027.2 1174.2,2027.5 1175.2,2027.9 1176.3,2028.3 1177.4,2028.7 1178.5,2029.1 1179.6,2029.4 1180.6,2029.5 1181.7,2029.5 1182.8,2029.1 1183.9,2028.3 1184.9,2027.2 1186.0,2025.7 1187.1,2024.1 1188.2,2022.4 1189.2,2020.6 1190.3,2018.8 1191.4,2017.1 1192.5,2015.6 1193.6,2014.1 1194.6,2012.4 1195.7,2010.6 1196.8,2009.0 1197.9,2007.6 1198.9,2006.6 1200.0,2006.1 1201.1,2006.1 1202.2,2006.3 1203.2,2006.6 1204.3,2007.1 1205.4,2007.6 1206.5,2008.3 1207.5,2009.0 1208.6,2009.7 1209.7,2010.4 1210.8,2011.2 1211.9,2011.9 1212.9,2012.8 1214.0,2013.7 1215.1,2014.8 1216.2,2015.9 1217.2,2017.1 1218.3,2018.4 1219.4,2019.6 1220.5,2020.9 1221.5,2022.1 1222.6,2023.2 1223.7,2024.3 1224.8,2025.3 1225.9,2026.2 1226.9,2026.9 1228.0,2027.7 1229.1,2028.4 1230.2,2029.2 1231.2,2029.9 1232.3,2030.6 1233.4,2031.3 1234.5,2031.9 1235.5,2032.5 1236.6,2033.0 1237.7,2033.4 1238.8,2033.7 1239.9,2034.0 1240.9,2034.1 1242.0,2033.9 1243.1,2033.2 1244.2,2031.9 1245.2,2030.2 1246.3,2028.1 1247.4,2025.7 1248.5,2023.2 1249.5,2020.6 1250.6,2018.0 1251.7,2015.7 1252.8,2013.6 1253.9,2011.9 1254.9,2010.6 1256.0,2010.0 1257.1,2010.0 1258.2,2010.7 1259.2,2012.0 1260.3,2013.9 1261.4,2016.1 1262.5,2018.8 1263.5,2021.7 1264.6,2024.8 1265.7,2027.9 1266.8,2031.1 1267.8,2034.3 1268.9,2037.2 1270.0,2040.0 1271.1,2042.4 1272.2,2044.4 1273.2,2045.9 1274.3,2046.8 1275.4,2047.1 1276.5,2046.9 1277.5,2046.2 1278.6,2045.2 1279.7,2043.8 1280.8,2042.3 1281.8,2040.5 1282.9,2038.6 1284.0,2036.7 1285.1,2034.7 1286.2,2032.8 1287.2,2030.9 1288.3,2029.2 1289.4,2027.7 1290.5,2026.4 1291.5,2025.2 1292.6,2024.0 1293.7,2022.8 1294.8,2021.5 1295.8,2020.4 1296.9,2019.2 1298.0,2018.2 1299.1,2017.3 1300.2,2016.5 1301.2,2015.9 1302.3,2015.6 1303.4,2015.5 1304.5,2015.7 1305.5,2016.4 1306.6,2017.6 1307.7,2019.1 1308.8,2021.0 1309.8,2023.2 1310.9,2025.6 1312.0,2028.2 1313.1,2030.9 1314.2,2033.6 1315.2,2036.5 1316.3,2039.2 1317.4,2041.9 1318.5,2044.5 1319.5,2046.9 1320.6,2049.1 1321.7,2051.0 1322.8,2052.5 1323.8,2053.7 1324.9,2054.4 1326.0,2054.6 1327.1,2054.3 1328.2,2053.6 1329.2,2052.3 1330.3,2050.7 1331.4,2048.7 1332.5,2046.4 1333.5,2043.9 1334.6,2041.2 1335.7,2038.3 1336.8,2035.4 1337.8,2032.5 1338.9,2029.5 1340.0,2026.7 1341.1,2024.0 1342.1,2021.5 1343.2,2019.3 1344.3,2017.3 1345.4,2015.7 1346.5,2014.6 1347.5,2013.8 1348.6,2013.7 1349.7,2014.5 1350.8,2016.2 1351.8,2018.9 1352.9,2022.3 1354.0,2026.4 1355.1,2031.1 1356.1,2036.0 1357.2,2041.2 1358.3,2046.5 1359.4,2051.7 1360.5,2056.8 1361.5,2061.5 1362.6,2065.7 1363.7,2069.3 1364.8,2072.2 1365.8,2074.1 1366.9,2075.1 1368.0,2075.1 1369.1,2074.5 1370.1,2073.4 1371.2,2071.8 1372.3,2069.9 1373.4,2067.6 1374.5,2065.1 1375.5,2062.5 1376.6,2059.7 1377.7,2056.8 1378.8,2054.0 1379.8,2051.2 1380.9,2048.5 1382.0,2046.1 1383.1,2043.9 1384.1,2042.0 1385.2,2040.5 1386.3,2039.4 1387.4,2038.9 1388.5,2038.8 1389.5,2039.2 1390.6,2040.0 1391.7,2041.1 1392.8,2042.5 1393.8,2044.1 1394.9,2045.9 1396.0,2047.9 1397.1,2050.0 1398.1,2052.1 1399.2,2054.3 1400.3,2056.4 1401.4,2058.4 1402.4,2060.4 1403.5,2062.1 1404.6,2063.7 1405.7,2065.0 1406.8,2066.1 1407.8,2067.0 1408.9,2067.9 1410.0,2068.7 1411.1,2069.6 1412.1,2070.3 1413.2,2070.9 1414.3,2071.3 1415.4,2071.5 1416.4,2071.0 1417.5,2068.9 1418.6,2064.9 1419.7,2059.2 1420.8,2052.1 1421.8,2044.2 1422.9,2035.7 1424.0,2027.0 1425.1,2018.4 1426.1,2008.9 1427.2,1997.5 1428.3,1984.5 1429.4,1971.4 1430.4,1959.5 1431.5,1950.6 1432.6,1945.8 1433.7,1945.4 1434.8,1948.2 1435.8,1953.2 1436.9,1959.7 1438.0,1967.1 1439.1,1975.0 1440.1,1982.9 1441.2,1991.5 1442.3,2001.8 1443.4,2013.8 1444.4,2026.5 1445.5,2039.1 1446.6,2050.5 1447.7,2059.8 1448.8,2066.1 1449.8,2069.1 1450.9,2069.6 1452.0,2069.5 1453.1,2069.2 1454.1,2068.8 1455.2,2068.3 1456.3,2067.7 1457.4,2067.1 1458.4,2066.5 1459.5,2065.8 1460.6,2064.9 1461.7,2063.7 1462.8,2062.3 1463.8,2060.7 1464.9,2059.1 1466.0,2057.4 1467.1,2055.8 1468.1,2054.3 1469.2,2053.0 1470.3,2052.0 1471.4,2051.4 1472.4,2051.1 1473.5,2051.2 1474.6,2051.5 1475.7,2052.1 1476.7,2052.7 1477.8,2053.5 1478.9,2054.4 1480.0,2055.3 1481.1,2056.3 1482.1,2057.2 1483.2,2058.2 1484.3,2059.1 1485.4,2060.2 1486.4,2061.5 1487.5,2062.9 1488.6,2064.3 1489.7,2065.7 1490.7,2067.0 1491.8,2068.1 1492.9,2069.0 1494.0,2069.5 1495.1,2069.7 1496.1,2069.3 1497.2,2068.5 1498.3,2067.3 1499.4,2065.6 1500.4,2063.6 1501.5,2061.4 1502.6,2059.0 1503.7,2056.4 1504.7,2053.7 1505.8,2051.0 1506.9,2048.3 1508.0,2045.6 1509.1,2042.6 1510.1,2038.9 1511.2,2034.8 1512.3,2030.3 1513.4,2025.8 1514.4,2021.4 1515.5,2017.5 1516.6,2014.1 1517.7,2011.7 1518.7,2010.3 1519.8,2010.2 1520.9,2011.5 1522.0,2013.8 1523.1,2016.9 1524.1,2020.6 1525.2,2024.5 1526.3,2028.5 1527.4,2032.1 1528.4,2035.1 1529.5,2037.8 1530.6,2040.4 1531.7,2043.0 1532.7,2045.6 1533.8,2048.2 1534.9,2050.5 1536.0,2052.6 1537.0,2054.3 1538.1,2055.6 1539.2,2056.3 1540.3,2056.5 1541.4,2056.3 1542.4,2055.8 1543.5,2055.1 1544.6,2054.1 1545.7,2053.0 1546.7,2051.7 1547.8,2050.3 1548.9,2048.8 1550.0,2047.2 1551.0,2045.7 1552.1,2043.8 1553.2,2041.4 1554.3,2038.4 1555.4,2035.1 1556.4,2031.4 1557.5,2027.6 1558.6,2023.7 1559.7,2020.0 1560.7,2016.4 1561.8,2013.2 1562.9,2010.4 1564.0,2008.3 1565.0,2006.8 1566.1,2006.2 1567.2,2006.3 1568.3,2007.0 1569.4,2008.3 1570.4,2009.9 1571.5,2011.9 1572.6,2014.3 1573.7,2016.9 1574.7,2019.7 1575.8,2022.6 1576.9,2025.6 1578.0,2028.7 1579.0,2031.8 1580.1,2034.8 1581.2,2037.6 1582.3,2040.3 1583.4,2042.7 1584.4,2044.8 1585.5,2046.5 1586.6,2047.8 1587.7,2048.7 1588.7,2049.0 1589.8,2048.7 1590.9,2047.9 1592.0,2046.5 1593.0,2044.7 1594.1,2042.5 1595.2,2039.9 1596.3,2037.1 1597.4,2034.0 1598.4,2030.8 1599.5,2027.5 1600.6,2024.2 1601.7,2020.8 1602.7,2017.6 1603.8,2014.5 1604.9,2011.7 1606.0,2009.1 1607.0,2006.8 1608.1,2005.0 1609.2,2003.6 1610.3,2002.7 1611.3,2002.5 1612.4,2003.5 1613.5,2005.7 1614.6,2009.1 1615.7,2013.3 1616.7,2018.0 1617.8,2022.7 1618.9,2027.1 1620.0,2031.0 1621.0,2033.8 1622.1,2035.4 1623.2,2035.9 1624.3,2035.8 1625.3,2035.6 1626.4,2035.2 1627.5,2034.8 1628.6,2034.3 1629.7,2033.7 1630.7,2033.1 1631.8,2032.5 1632.9,2031.9 1634.0,2031.3 1635.0,2030.7 1636.1,2030.2 1637.2,2029.7 1638.3,2029.2 1639.3,2028.6 1640.4,2028.1 1641.5,2027.5 1642.6,2027.0 1643.7,2026.4 1644.7,2025.9 1645.8,2025.5 1646.9,2025.0 1648.0,2024.5 1649.0,2023.9 1650.1,2023.3 1651.2,2022.5 1652.3,2021.4 1653.3,2020.0 1654.4,2018.3 1655.5,2016.5 1656.6,2014.7 1657.7,2012.8 1658.7,2011.0 1659.8,2009.4 1660.9,2008.0 1662.0,2006.9 1663.0,2006.3 1664.1,2006.1 1665.2,2006.4 1666.3,2007.2 1667.3,2008.3 1668.4,2009.8 1669.5,2011.4 1670.6,2013.2 1671.6,2015.1 1672.7,2017.0 1673.8,2018.7 1674.9,2020.3 1676.0,2021.7 1677.0,2022.8 1678.1,2023.7 1679.2,2024.6 1680.3,2025.5 1681.3,2026.3 1682.4,2027.0 1683.5,2027.6 1684.6,2028.1 1685.6,2028.4 1686.7,2028.4 1687.8,2028.3 1688.9,2028.0 1690.0,2027.5 1691.0,2026.8 1692.1,2026.1 1693.2,2025.2 1694.3,2024.3 1695.3,2023.3 1696.4,2022.1 1697.5,2020.6 1698.6,2018.7 1699.6,2016.5 1700.7,2014.2 1701.8,2012.4" fill="none" stroke="#e01a1e" stroke-width="4.6" stroke-linejoin="round"/></g>
<rect x="1395.5" y="2127.1" width="74.3" height="17" fill="#ff0099"/>
<line x1="1298" y1="1827.7" x2="1298" y2="1840.7" stroke="#000" stroke-width="2"/>
<line x1="1298" y1="2144.1" x2="1298" y2="2131.1" stroke="#000" stroke-width="2"/>
<line x1="1432.6" y1="1827.7" x2="1432.6" y2="1840.7" stroke="#000" stroke-width="2"/>
<line x1="1432.6" y1="2144.1" x2="1432.6" y2="2131.1" stroke="#000" stroke-width="2"/>
<line x1="1567.2" y1="1827.7" x2="1567.2" y2="1840.7" stroke="#000" stroke-width="2"/>
<line x1="1567.2" y1="2144.1" x2="1567.2" y2="2131.1" stroke="#000" stroke-width="2"/>
<line x1="1163.4" y1="2065" x2="1176.4" y2="2065" stroke="#000" stroke-width="2"/>
<line x1="1701.8" y1="2065" x2="1688.8" y2="2065" stroke="#000" stroke-width="2"/>
<line x1="1163.4" y1="1933.2" x2="1176.4" y2="1933.2" stroke="#000" stroke-width="2"/>
<line x1="1701.8" y1="1933.2" x2="1688.8" y2="1933.2" stroke="#000" stroke-width="2"/>
<rect x="1163.4" y="1827.7" width="538.4" height="316.4" fill="none" stroke="#000" stroke-width="3"/>
<text transform="translate(630.6 319.1) scale(1 1.04)" font-size="30.4" text-anchor="end">0.<tspan dx="6">4</tspan></text>
<text transform="translate(630.6 228.8) scale(1 1.04)" font-size="30.4" text-anchor="end">0.<tspan dx="6">6</tspan></text>
<text transform="translate(630.6 138.5) scale(1 1.04)" font-size="30.4" text-anchor="end">0.<tspan dx="6">8</tspan></text>
<text transform="translate(630.6 48.2) scale(1 1.04)" font-size="30.4" text-anchor="end">1.<tspan dx="6">0</tspan></text>
<text transform="translate(74.5 896.5) scale(1 1.04)" font-size="30.4" text-anchor="end">0</text>
<text transform="translate(74.5 791) scale(1 1.04)" font-size="30.4" text-anchor="end">1</text>
<text transform="translate(74.5 685.6) scale(1 1.04)" font-size="30.4" text-anchor="end">2</text>
<text transform="translate(74.5 580.1) scale(1 1.04)" font-size="30.4" text-anchor="end">3</text>
<text transform="translate(74.5 1313.7) scale(1 1.04)" font-size="30.4" text-anchor="end">0</text>
<text transform="translate(74.5 1208.2) scale(1 1.04)" font-size="30.4" text-anchor="end">1</text>
<text transform="translate(74.5 1102.8) scale(1 1.04)" font-size="30.4" text-anchor="end">2</text>
<text transform="translate(74.5 997.3) scale(1 1.04)" font-size="30.4" text-anchor="end">3</text>
<text transform="translate(74.5 1730.9) scale(1 1.04)" font-size="30.4" text-anchor="end">0</text>
<text transform="translate(74.5 1625.4) scale(1 1.04)" font-size="30.4" text-anchor="end">1</text>
<text transform="translate(74.5 1520) scale(1 1.04)" font-size="30.4" text-anchor="end">2</text>
<text transform="translate(74.5 1414.5) scale(1 1.04)" font-size="30.4" text-anchor="end">3</text>
<text transform="translate(74.5 2148.1) scale(1 1.04)" font-size="30.4" text-anchor="end">0</text>
<text transform="translate(74.5 2042.6) scale(1 1.04)" font-size="30.4" text-anchor="end">1</text>
<text transform="translate(74.5 1937.2) scale(1 1.04)" font-size="30.4" text-anchor="end">2</text>
<text transform="translate(74.5 1831.7) scale(1 1.04)" font-size="30.4" text-anchor="end">3</text>
<text transform="translate(1145.6 851.3) scale(1 1.04)" font-size="30.4" text-anchor="end">0.<tspan dx="6">4</tspan></text>
<text transform="translate(1145.6 760.9) scale(1 1.04)" font-size="30.4" text-anchor="end">0.<tspan dx="6">6</tspan></text>
<text transform="translate(1145.6 670.5) scale(1 1.04)" font-size="30.4" text-anchor="end">0.<tspan dx="6">8</tspan></text>
<text transform="translate(1145.6 580.1) scale(1 1.04)" font-size="30.4" text-anchor="end">1.<tspan dx="6">0</tspan></text>
<text transform="translate(1145.6 1730.9) scale(1 1.04)" font-size="30.4" text-anchor="end">0.<tspan dx="6">2</tspan></text>
<text transform="translate(1145.6 1651.8) scale(1 1.04)" font-size="30.4" text-anchor="end">0.<tspan dx="6">4</tspan></text>
<text transform="translate(1145.6 1572.7) scale(1 1.04)" font-size="30.4" text-anchor="end">0.<tspan dx="6">6</tspan></text>
<text transform="translate(1145.6 1493.6) scale(1 1.04)" font-size="30.4" text-anchor="end">0.<tspan dx="6">8</tspan></text>
<text transform="translate(1145.6 1414.5) scale(1 1.04)" font-size="30.4" text-anchor="end">1.<tspan dx="6">0</tspan></text>
<text transform="translate(1145.6 2069) scale(1 1.04)" font-size="30.4" text-anchor="end">0.<tspan dx="6">5</tspan></text>
<text transform="translate(1145.6 1937.2) scale(1 1.04)" font-size="30.4" text-anchor="end">1.<tspan dx="6">0</tspan></text>
<text transform="translate(649.4 29.4) scale(1 1.04)" font-size="30.4"><tspan font-weight="bold" font-size="25" stroke-width="0.2">×</tspan><tspan dx="2">10</tspan><tspan font-size="20.5" dx="1" dy="-13.1">03</tspan></text>
<text transform="translate(93.3 561.3) scale(1 1.04)" font-size="30.4"><tspan font-weight="bold" font-size="25" stroke-width="0.2">×</tspan><tspan dx="2">10</tspan><tspan font-size="20.5" dx="1" dy="-13.1">03</tspan></text>
<text transform="translate(93.3 978.5) scale(1 1.04)" font-size="30.4"><tspan font-weight="bold" font-size="25" stroke-width="0.2">×</tspan><tspan dx="2">10</tspan><tspan font-size="20.5" dx="1" dy="-13.1">03</tspan></text>
<text transform="translate(93.3 1395.7) scale(1 1.04)" font-size="30.4"><tspan font-weight="bold" font-size="25" stroke-width="0.2">×</tspan><tspan dx="2">10</tspan><tspan font-size="20.5" dx="1" dy="-13.1">03</tspan></text>
<text transform="translate(93.3 1812.9) scale(1 1.04)" font-size="30.4"><tspan font-weight="bold" font-size="25" stroke-width="0.2">×</tspan><tspan dx="2">10</tspan><tspan font-size="20.5" dx="1" dy="-13.1">03</tspan></text>
<text transform="translate(1164.4 1395.7) scale(1 1.04)" font-size="30.4"><tspan font-weight="bold" font-size="25" stroke-width="0.2">×</tspan><tspan dx="2">10</tspan><tspan font-size="20.5" dx="1" dy="-13.1">03</tspan></text>
<text transform="translate(1164.4 1812.9) scale(1 1.04)" font-size="30.4"><tspan font-weight="bold" font-size="25" stroke-width="0.2">×</tspan><tspan dx="2">10</tspan><tspan font-size="20.5" dx="1" dy="-13.1">03</tspan></text>
<text transform="translate(917.3 22.2) scale(1 1.04)" font-size="30.4" text-anchor="middle">All-DHS</text>
<text transform="translate(191.4 554.1) scale(1 1.04)" font-size="30.4">DHS-Promoters-noTFBS</text>
<text transform="translate(192.5 971.3) scale(1 1.04)" font-size="30.4">DHS-Promoters-predTFBS</text>
<text transform="translate(196.3 1388.5) scale(1 1.04)" font-size="30.4">DHS-Promoters-predTFBSAll</text>
<text transform="translate(209.4 1805.7) scale(1 1.04)" font-size="30.4">DHS-Promoters-TFBS</text>
<text transform="translate(1257.5 1388.5) scale(1 1.04)" font-size="30.4">DHS-noPromoters-predTFBSAll</text>
<text transform="translate(1263.1 1805.7) scale(1 1.04)" font-size="30.4">DHS-noPromoters-TFBS</text>
<text transform="translate(648.4 396) scale(1 1.04)" font-size="30.4" text-anchor="middle">-1,000</text>
<text transform="translate(782.9 396) scale(1 1.04)" font-size="30.4" text-anchor="middle">-500</text>
<text transform="translate(917.3 396) scale(1 1.04)" font-size="30.4" text-anchor="middle">0</text>
<text transform="translate(1051.8 396) scale(1 1.04)" font-size="30.4" text-anchor="middle">500</text>
<text transform="translate(1186.2 396) scale(1 1.04)" font-size="30.4" text-anchor="middle">1,000</text>
<text transform="translate(92.3 2183) scale(1 1.04)" font-size="30.4" text-anchor="middle">-1,000</text>
<text transform="translate(227 2183) scale(1 1.04)" font-size="30.4" text-anchor="middle">-500</text>
<text transform="translate(361.6 2183) scale(1 1.04)" font-size="30.4" text-anchor="middle">0</text>
<text transform="translate(496.2 2183) scale(1 1.04)" font-size="30.4" text-anchor="middle">500</text>
<text transform="translate(630.8 2183) scale(1 1.04)" font-size="30.4" text-anchor="middle">1,000</text>
<text transform="translate(1160.9 2181) scale(1 1.04)" font-size="30.4" text-anchor="middle">-1,000</text>
<text transform="translate(1295.5 2181) scale(1 1.04)" font-size="30.4" text-anchor="middle">-500</text>
<text transform="translate(1430.1 2181) scale(1 1.04)" font-size="30.4" text-anchor="middle">0</text>
<text transform="translate(1564.7 2181) scale(1 1.04)" font-size="30.4" text-anchor="middle">500</text>
<text transform="translate(1699.3 2181) scale(1 1.04)" font-size="30.4" text-anchor="middle">1,000</text>
<text transform="translate(361.6 2233.5) scale(1 1.04)" font-size="30.4" text-anchor="middle">Distance from DHS mid-point (nt)</text>
<text transform="translate(1432.6 2231) scale(1 1.04)" font-size="30.4" text-anchor="middle">Distance from DHS mid-point (nt)</text>
<text transform="translate(538.6 199.3) rotate(-90) scale(1 1.04)" font-size="30.4" text-anchor="middle">Mutation rate (per nt)</text>
<text transform="translate(21.1 1335.7) rotate(-90) scale(1 1.04)" font-size="30.4" text-anchor="middle">Mutation rate (per nt)</text>
<text transform="translate(460 26.6) scale(1 1.04)" font-size="31.5" font-weight="bold">a</text>
<text transform="translate(65 485.7) scale(1 1.04)" font-size="31.5" font-weight="bold">b</text>
<text transform="translate(1142 476.3) scale(1 1.04)" font-size="31.5" font-weight="bold">c</text>
<text transform="translate(377 482) scale(1 1.04)" font-size="30.4" text-anchor="middle">DHS proximal to TSS</text>
<line x1="233.6" y1="492.1" x2="520.8" y2="492.1" stroke="#000" stroke-width="2"/>
<text transform="translate(1425.5 482) scale(1 1.04)" font-size="30.4" text-anchor="middle">DHS distal to TSS</text>
<line x1="1303.5" y1="493.2" x2="1546.8" y2="493.2" stroke="#000" stroke-width="2"/>
<rect x="1395" y="80" width="69" height="280.5" fill="#ff0099"/>
<rect x="1464" y="84" width="70" height="276.5" fill="#00b8ea"/>
<line x1="1395" y1="43" x2="1395" y2="361.7" stroke="#000" stroke-width="3"/>
<line x1="1382" y1="360.5" x2="1560.5" y2="360.5" stroke="#000" stroke-width="3"/>
<line x1="1382" y1="89.3" x2="1395" y2="89.3" stroke="#000" stroke-width="2"/>
<line x1="1382" y1="179.4" x2="1395" y2="179.4" stroke="#000" stroke-width="2"/>
<line x1="1382" y1="270.4" x2="1395" y2="270.4" stroke="#000" stroke-width="2"/>
<line x1="1382" y1="360.5" x2="1395" y2="360.5" stroke="#000" stroke-width="2"/>
<text transform="translate(1363.4 93.3) scale(1 1.04)" font-size="30.4" text-anchor="end">6 <tspan font-weight="bold" font-size="24" stroke-width="0.2">×</tspan> 10<tspan font-size="19.5" dy="-6.5">04</tspan></text>
<text transform="translate(1363.4 183.4) scale(1 1.04)" font-size="30.4" text-anchor="end">4 <tspan font-weight="bold" font-size="24" stroke-width="0.2">×</tspan> 10<tspan font-size="19.5" dy="-6.5">04</tspan></text>
<text transform="translate(1363.4 274.4) scale(1 1.04)" font-size="30.4" text-anchor="end">2 <tspan font-weight="bold" font-size="24" stroke-width="0.2">×</tspan> 10<tspan font-size="19.5" dy="-6.5">04</tspan></text>
<text transform="translate(1363.4 364.5) scale(1 1.04)" font-size="30.4" text-anchor="end">0 <tspan font-weight="bold" font-size="24" stroke-width="0.2">×</tspan> 10<tspan font-size="19.5" dy="-6.5">0</tspan></text>
<text transform="translate(1415 38.6) scale(1 1.04)" font-size="30.4"><tspan font-style="italic">P</tspan> = 0.026</text>
<rect x="838.8" y="583.8" width="69" height="308.5" fill="#ff0099"/>
<rect x="907.8" y="637" width="69.8" height="255.3" fill="#00b8ea"/>
<line x1="838.8" y1="574.8" x2="838.8" y2="893.5" stroke="#000" stroke-width="3"/>
<line x1="825.8" y1="892.3" x2="1005.4" y2="892.3" stroke="#000" stroke-width="3"/>
<line x1="825.8" y1="639.3" x2="838.8" y2="639.3" stroke="#000" stroke-width="2"/>
<line x1="825.8" y1="765.6" x2="838.8" y2="765.6" stroke="#000" stroke-width="2"/>
<line x1="825.8" y1="892.3" x2="838.8" y2="892.3" stroke="#000" stroke-width="2"/>
<text transform="translate(807.2 643.3) scale(1 1.04)" font-size="30.4" text-anchor="end">4 <tspan font-weight="bold" font-size="24" stroke-width="0.2">×</tspan> 10<tspan font-size="19.5" dy="-6.5">04</tspan></text>
<text transform="translate(807.2 769.6) scale(1 1.04)" font-size="30.4" text-anchor="end">2 <tspan font-weight="bold" font-size="24" stroke-width="0.2">×</tspan> 10<tspan font-size="19.5" dy="-6.5">04</tspan></text>
<text transform="translate(807.2 896.3) scale(1 1.04)" font-size="30.4" text-anchor="end">0 <tspan font-weight="bold" font-size="24" stroke-width="0.2">×</tspan> 10<tspan font-size="19.5" dy="-6.5">0</tspan></text>
<text transform="translate(839 548.3) scale(1 1.04)" font-size="30.4"><tspan font-style="italic">P</tspan> = 5.3 x 10<tspan font-size="21.5" dy="-13.9">-10</tspan></text>
<rect x="838.8" y="1017.6" width="69" height="292.3" fill="#ff0099"/>
<rect x="907.8" y="1165.7" width="69.8" height="144.2" fill="#00b8ea"/>
<line x1="838.8" y1="992.1" x2="838.8" y2="1311.1" stroke="#000" stroke-width="3"/>
<line x1="825.8" y1="1309.9" x2="1005.4" y2="1309.9" stroke="#000" stroke-width="3"/>
<line x1="825.8" y1="1134" x2="838.8" y2="1134" stroke="#000" stroke-width="2"/>
<line x1="825.8" y1="1309.9" x2="838.8" y2="1309.9" stroke="#000" stroke-width="2"/>
<text transform="translate(807.2 1138) scale(1 1.04)" font-size="30.4" text-anchor="end">5 <tspan font-weight="bold" font-size="24" stroke-width="0.2">×</tspan> 10<tspan font-size="19.5" dy="-6.5">04</tspan></text>
<text transform="translate(807.2 1313.9) scale(1 1.04)" font-size="30.4" text-anchor="end">0 <tspan font-weight="bold" font-size="24" stroke-width="0.2">×</tspan> 10<tspan font-size="19.5" dy="-6.5">0</tspan></text>
<text transform="translate(849 984) scale(1 1.04)" font-size="30.4"><tspan font-style="italic">P</tspan> = 7.3 x 10<tspan font-size="21.5" dy="-13.9">-204</tspan></text>
<rect x="838.8" y="1415.1" width="69" height="312" fill="#ff0099"/>
<rect x="907.8" y="1611.5" width="69.8" height="115.6" fill="#00b8ea"/>
<line x1="838.8" y1="1409.1" x2="838.8" y2="1728.3" stroke="#000" stroke-width="3"/>
<line x1="825.8" y1="1727.1" x2="1005.4" y2="1727.1" stroke="#000" stroke-width="3"/>
<line x1="825.8" y1="1463" x2="838.8" y2="1463" stroke="#000" stroke-width="2"/>
<line x1="825.8" y1="1595" x2="838.8" y2="1595" stroke="#000" stroke-width="2"/>
<line x1="825.8" y1="1727.1" x2="838.8" y2="1727.1" stroke="#000" stroke-width="2"/>
<text transform="translate(807.2 1467) scale(1 1.04)" font-size="30.4" text-anchor="end">1 <tspan font-weight="bold" font-size="24" stroke-width="0.2">×</tspan> 10<tspan font-size="19.5" dy="-6.5">03</tspan></text>
<text transform="translate(807.2 1599) scale(1 1.04)" font-size="30.4" text-anchor="end">5 <tspan font-weight="bold" font-size="24" stroke-width="0.2">×</tspan> 10<tspan font-size="19.5" dy="-6.5">04</tspan></text>
<text transform="translate(807.2 1731.1) scale(1 1.04)" font-size="30.4" text-anchor="end">0 <tspan font-weight="bold" font-size="24" stroke-width="0.2">×</tspan> 10<tspan font-size="19.5" dy="-6.5">0</tspan></text>
<text transform="translate(847 1389.8) scale(1 1.04)" font-size="30.4"><tspan font-style="italic">P</tspan> &lt; 2.2 x 10<tspan font-size="21.5" dy="-13.9">-16</tspan></text>
<rect x="838.8" y="1834.7" width="69" height="309.5" fill="#ff0099"/>
<rect x="907.8" y="2041.8" width="69.8" height="102.4" fill="#00b8ea"/>
<line x1="838.8" y1="1826.5" x2="838.8" y2="2145.4" stroke="#000" stroke-width="3"/>
<line x1="825.8" y1="2144.2" x2="1005.4" y2="2144.2" stroke="#000" stroke-width="3"/>
<line x1="825.8" y1="1918.2" x2="838.8" y2="1918.2" stroke="#000" stroke-width="2"/>
<line x1="825.8" y1="2031.5" x2="838.8" y2="2031.5" stroke="#000" stroke-width="2"/>
<line x1="825.8" y1="2144.2" x2="838.8" y2="2144.2" stroke="#000" stroke-width="2"/>
<text transform="translate(807.2 1922.2) scale(1 1.04)" font-size="30.4" text-anchor="end">1 <tspan font-weight="bold" font-size="24" stroke-width="0.2">×</tspan> 10<tspan font-size="19.5" dy="-6.5">03</tspan></text>
<text transform="translate(807.2 2035.5) scale(1 1.04)" font-size="30.4" text-anchor="end">5 <tspan font-weight="bold" font-size="24" stroke-width="0.2">×</tspan> 10<tspan font-size="19.5" dy="-6.5">04</tspan></text>
<text transform="translate(807.2 2148.2) scale(1 1.04)" font-size="30.4" text-anchor="end">0 <tspan font-weight="bold" font-size="24" stroke-width="0.2">×</tspan> 10<tspan font-size="19.5" dy="-6.5">0</tspan></text>
<text transform="translate(844 1805.7) scale(1 1.04)" font-size="30.4"><tspan font-style="italic">P</tspan> &lt; 2.2 x 10<tspan font-size="21.5" dy="-13.9">-16</tspan></text>
<rect x="1910.1" y="669.5" width="69.1" height="223" fill="#ff0099"/>
<rect x="1979.2" y="599.4" width="69.5" height="293.1" fill="#00b8ea"/>
<line x1="1910.1" y1="574.6" x2="1910.1" y2="893.7" stroke="#000" stroke-width="3"/>
<line x1="1897.1" y1="892.5" x2="2076.5" y2="892.5" stroke="#000" stroke-width="3"/>
<line x1="1897.1" y1="621" x2="1910.1" y2="621" stroke="#000" stroke-width="2"/>
<line x1="1897.1" y1="711" x2="1910.1" y2="711" stroke="#000" stroke-width="2"/>
<line x1="1897.1" y1="801.6" x2="1910.1" y2="801.6" stroke="#000" stroke-width="2"/>
<line x1="1897.1" y1="892.5" x2="1910.1" y2="892.5" stroke="#000" stroke-width="2"/>
<text transform="translate(1892 543.7) scale(1 1.04)" font-size="30.4"><tspan font-style="italic">P</tspan> = 7.8 x 10<tspan font-size="21.5" dy="-13.9">-148</tspan></text>
<rect x="1910.1" y="1052.4" width="69.1" height="256.9" fill="#ff0099"/>
<rect x="1979.2" y="994.2" width="69.5" height="315.1" fill="#00b8ea"/>
<line x1="1910.1" y1="992.2" x2="1910.1" y2="1310.5" stroke="#000" stroke-width="3"/>
<line x1="1897.1" y1="1309.3" x2="2076.5" y2="1309.3" stroke="#000" stroke-width="3"/>
<line x1="1897.1" y1="992.6" x2="1910.1" y2="992.6" stroke="#000" stroke-width="2"/>
<line x1="1897.1" y1="1098.6" x2="1910.1" y2="1098.6" stroke="#000" stroke-width="2"/>
<line x1="1897.1" y1="1203.9" x2="1910.1" y2="1203.9" stroke="#000" stroke-width="2"/>
<line x1="1897.1" y1="1309.3" x2="1910.1" y2="1309.3" stroke="#000" stroke-width="2"/>
<text transform="translate(1905.5 967.8) scale(1 1.04)" font-size="30.4"><tspan font-style="italic">P</tspan> = 8.7 x 10<tspan font-size="21.5" dy="-13.9">-50</tspan></text>
<rect x="1910.1" y="1431.8" width="69.1" height="294.8" fill="#ff0099"/>
<rect x="1979.2" y="1410.7" width="69.5" height="315.9" fill="#00b8ea"/>
<line x1="1910.1" y1="1409" x2="1910.1" y2="1727.8" stroke="#000" stroke-width="3"/>
<line x1="1897.1" y1="1726.6" x2="2076.5" y2="1726.6" stroke="#000" stroke-width="3"/>
<line x1="1897.1" y1="1410" x2="1910.1" y2="1410" stroke="#000" stroke-width="2"/>
<line x1="1897.1" y1="1515.7" x2="1910.1" y2="1515.7" stroke="#000" stroke-width="2"/>
<line x1="1897.1" y1="1620.8" x2="1910.1" y2="1620.8" stroke="#000" stroke-width="2"/>
<line x1="1897.1" y1="1726.6" x2="1910.1" y2="1726.6" stroke="#000" stroke-width="2"/>
<text transform="translate(1878.5 1414) scale(1 1.04)" font-size="30.4" text-anchor="end">6 <tspan font-weight="bold" font-size="24" stroke-width="0.2">×</tspan> 10<tspan font-size="19.5" dy="-6.5">04</tspan></text>
<text transform="translate(1878.5 1519.7) scale(1 1.04)" font-size="30.4" text-anchor="end">4 <tspan font-weight="bold" font-size="24" stroke-width="0.2">×</tspan> 10<tspan font-size="19.5" dy="-6.5">04</tspan></text>
<text transform="translate(1878.5 1624.8) scale(1 1.04)" font-size="30.4" text-anchor="end">2 <tspan font-weight="bold" font-size="24" stroke-width="0.2">×</tspan> 10<tspan font-size="19.5" dy="-6.5">04</tspan></text>
<text transform="translate(1878.5 1730.6) scale(1 1.04)" font-size="30.4" text-anchor="end">0 <tspan font-weight="bold" font-size="24" stroke-width="0.2">×</tspan> 10<tspan font-size="19.5" dy="-6.5">0</tspan></text>
<text transform="translate(1909.5 1395.3) scale(1 1.04)" font-size="30.4"><tspan font-style="italic">P</tspan> = 1.9 x 10<tspan font-size="21.5" dy="-13.9">-7</tspan></text>
<rect x="1910.1" y="1847" width="69.1" height="296.9" fill="#ff0099"/>
<rect x="1979.2" y="1865.6" width="69.5" height="278.3" fill="#00b8ea"/>
<line x1="1910.1" y1="1826.4" x2="1910.1" y2="2145.1" stroke="#000" stroke-width="3"/>
<line x1="1897.1" y1="2143.9" x2="2076.5" y2="2143.9" stroke="#000" stroke-width="3"/>
<line x1="1897.1" y1="1872.4" x2="1910.1" y2="1872.4" stroke="#000" stroke-width="2"/>
<line x1="1897.1" y1="1962.7" x2="1910.1" y2="1962.7" stroke="#000" stroke-width="2"/>
<line x1="1897.1" y1="2052.8" x2="1910.1" y2="2052.8" stroke="#000" stroke-width="2"/>
<line x1="1897.1" y1="2143.9" x2="1910.1" y2="2143.9" stroke="#000" stroke-width="2"/>
<text transform="translate(1878.5 1876.4) scale(1 1.04)" font-size="30.4" text-anchor="end">6 <tspan font-weight="bold" font-size="24" stroke-width="0.2">×</tspan> 10<tspan font-size="19.5" dy="-6.5">04</tspan></text>
<text transform="translate(1878.5 1966.7) scale(1 1.04)" font-size="30.4" text-anchor="end">4 <tspan font-weight="bold" font-size="24" stroke-width="0.2">×</tspan> 10<tspan font-size="19.5" dy="-6.5">04</tspan></text>
<text transform="translate(1878.5 2056.8) scale(1 1.04)" font-size="30.4" text-anchor="end">2 <tspan font-weight="bold" font-size="24" stroke-width="0.2">×</tspan> 10<tspan font-size="19.5" dy="-6.5">04</tspan></text>
<text transform="translate(1878.5 2147.9) scale(1 1.04)" font-size="30.4" text-anchor="end">0 <tspan font-weight="bold" font-size="24" stroke-width="0.2">×</tspan> 10<tspan font-size="19.5" dy="-6.5">0</tspan></text>
<text transform="translate(1906.5 1813.6) scale(1 1.04)" font-size="30.4"><tspan font-style="italic">P</tspan> = 1.1 x 10<tspan font-size="21.5" dy="-13.9">-5</tspan></text>
<rect x="1602.6" y="337" width="64.4" height="17.5" fill="#ff0099"/>
<text transform="translate(1684 356) scale(1 1.04)" font-size="30.4">DHS</text>
<rect x="1765.6" y="337" width="64.4" height="17.5" fill="#00b8ea"/>
<text transform="translate(1843 356) scale(1 1.04)" font-size="30.4">Flank</text>
<rect x="1217.5" y="538.2" width="10.3" height="2.3" fill="#000"/>
<rect x="1855" y="609.2" width="9.7" height="2.2" fill="#000"/>
<rect x="1855" y="699.3" width="9.7" height="2.2" fill="#000"/>
<rect x="1855" y="789.6" width="9.7" height="2.2" fill="#000"/>
<rect x="1867.5" y="880.8" width="10" height="2.2" fill="#000"/>
<rect x="1786.6" y="884.1" width="15" height="2.8" fill="#000"/>
<rect x="1217.5" y="955.8" width="10.3" height="2.3" fill="#000"/>
<rect x="1130.3" y="984.2" width="14.6" height="2.8" fill="#000"/>
<rect x="1099.9" y="1063.4" width="15" height="3" fill="#000"/>
<rect x="1099.9" y="1142.7" width="15" height="3" fill="#000"/>
<rect x="1099.9" y="1222" width="15" height="3" fill="#000"/>
<rect x="1099.9" y="1301.2" width="15" height="3" fill="#000"/>
<rect x="1855" y="980.8" width="9.7" height="2.2" fill="#000"/>
<rect x="1855" y="1086.3" width="9.7" height="2.2" fill="#000"/>
<rect x="1855" y="1192.1" width="9.7" height="2.2" fill="#000"/>
<rect x="1867.5" y="1297.3" width="10" height="2.2" fill="#000"/>
<rect x="1786.6" y="1301.1" width="15" height="2.8" fill="#000"/>
</svg>
</body></html>
